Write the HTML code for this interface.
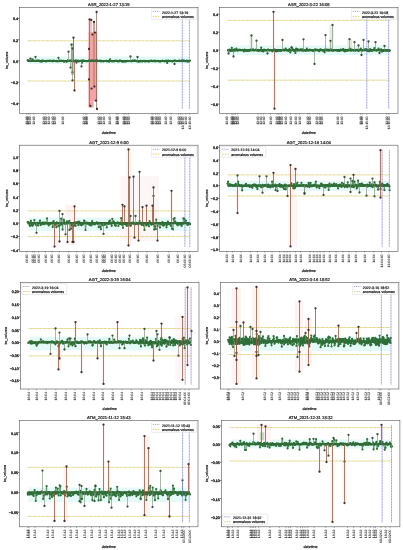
<!DOCTYPE html>
<html><head><meta charset="utf-8"><style>
html,body{margin:0;padding:0;background:#fff;}
svg{display:block;will-change:transform;}
text{font-family:"Liberation Sans", sans-serif;fill:#222;stroke:#222;stroke-width:0.2px;text-rendering:geometricPrecision;}
.tk{fill:#111;stroke:#111;stroke-width:0.3px;}
.xt{fill:#444;stroke:#444;stroke-width:0.1px;}
</style></head><body>
<svg width="403" height="550" viewBox="0 0 403 550">
<rect width="403" height="550" fill="#fff"/>
<clipPath id="c1"><rect x="19.5" y="7.36" width="178.5" height="106.0"/></clipPath>
<g clip-path="url(#c1)">
<rect x="28.6" y="56.5" width="160.3" height="7.5" fill="#e4faf7"/>
<rect x="88.4" y="18.8" width="3.5" height="13.2" fill="#f1c0c0"/>
<rect x="92.8" y="21.5" width="2.2" height="10.5" fill="#f1c0c0"/>
<rect x="88.4" y="32.0" width="8.8" height="69.5" fill="#f2a3a3"/>
<rect x="88.4" y="101.5" width="5.2" height="6.0" fill="#f2a3a3"/>
<rect x="70.8" y="43.0" width="3.2" height="32.0" fill="#c9d6c2"/>
<line x1="27.6" y1="40.8" x2="189.9" y2="40.8" stroke="#d2c050" stroke-width="0.8" stroke-dasharray="0.9 0.4"/>
<line x1="27.6" y1="81.0" x2="189.9" y2="81.0" stroke="#d2c050" stroke-width="0.8" stroke-dasharray="0.9 0.4"/>
<line x1="27.6" y1="61.0" x2="189.9" y2="61.0" stroke="#32622f" stroke-width="2.2"/>
<path d="M27.6,61.0V60.3M28.4,61.0V60.7M29.0,61.0V60.5M29.8,61.0V61.0M30.6,61.0V61.2M32.0,61.0V60.5M32.6,61.0V59.4M33.1,61.0V60.9M33.8,61.0V60.6M35.0,61.0V61.1M35.8,61.0V60.8M36.9,61.0V60.7M37.6,61.0V60.9M38.1,61.0V60.7M39.2,61.0V60.5M40.1,61.0V61.4M40.3,61.0V61.2M41.8,61.0V61.7M42.0,61.0V60.6M42.8,61.0V60.6M44.2,61.0V61.0M44.5,61.0V60.8M45.7,61.0V61.2M46.2,61.0V61.4M47.0,61.0V60.9M47.8,61.0V60.9M49.1,61.0V61.1M49.4,61.0V60.7M50.6,61.0V60.9M51.1,61.0V60.9M52.2,61.0V60.9M52.6,61.0V61.3M53.5,61.0V60.7M54.8,61.0V60.8M55.4,61.0V61.1M56.4,61.0V60.8M56.8,61.0V61.2M57.6,61.0V61.5M58.8,61.0V60.7M59.1,61.0V60.8M60.1,61.0V60.9M61.1,61.0V60.7M61.7,61.0V61.0M62.7,61.0V60.9M63.6,61.0V60.9M64.0,61.0V61.8M65.1,61.0V61.2M66.0,61.0V61.1M66.7,61.0V61.8M67.7,61.0V60.4M68.2,61.0V61.1M69.3,61.0V61.0M69.7,61.0V60.7M70.7,61.0V60.7M71.4,61.0V60.5M72.6,61.0V60.8M73.4,61.0V61.3M74.3,61.0V60.8M74.9,61.0V61.2M75.8,61.0V60.3M76.6,61.0V60.9M77.6,61.0V60.9M78.3,61.0V60.6M78.9,61.0V61.4M79.5,61.0V61.0M80.6,61.0V60.9M81.5,61.0V60.5M82.1,61.0V62.7M83.1,61.0V60.4M84.1,61.0V60.9M84.5,61.0V60.8M85.7,61.0V61.1M86.1,61.0V61.1M87.0,61.0V61.2M87.9,61.0V61.1M89.1,61.0V60.9M89.4,61.0V60.2M90.3,61.0V61.1M91.3,61.0V60.9M91.9,61.0V60.3M92.7,61.0V60.6M93.6,61.0V60.7M94.5,61.0V60.8M95.5,61.0V60.7M96.3,61.0V61.3M96.7,61.0V60.0M97.8,61.0V60.9M98.7,61.0V61.1M99.5,61.0V61.0M100.0,61.0V60.6M101.0,61.0V61.4M101.6,61.0V60.9M102.8,61.0V61.1M103.4,61.0V61.4M104.1,61.0V61.0M105.2,61.0V61.0M106.1,61.0V60.8M106.5,61.0V61.3M107.7,61.0V61.2M108.3,61.0V60.9M109.0,61.0V61.8M110.1,61.0V59.4M110.7,61.0V60.8M111.4,61.0V61.1M112.4,61.0V61.4M113.5,61.0V61.1M114.4,61.0V61.3M114.8,61.0V60.8M115.7,61.0V60.8M116.5,61.0V60.5M117.4,61.0V61.2M118.0,61.0V61.4M119.2,61.0V61.3M119.5,61.0V60.7M120.4,61.0V60.6M121.1,61.0V61.0M122.2,61.0V61.8M123.3,61.0V61.2M123.6,61.0V61.4M124.9,61.0V61.7M125.4,61.0V61.0M126.5,61.0V61.4M127.4,61.0V60.8M127.6,61.0V61.0M128.9,61.0V61.1M129.3,61.0V61.0M130.5,61.0V61.0M131.2,61.0V61.4M132.1,61.0V60.9M132.5,61.0V60.5M133.8,61.0V60.7M134.5,61.0V60.7M135.1,61.0V60.6M136.3,61.0V60.9M136.8,61.0V61.2M137.5,61.0V61.4M138.3,61.0V61.6M139.1,61.0V61.4M140.1,61.0V61.4M140.8,61.0V60.8M142.0,61.0V61.4M142.8,61.0V61.3M143.5,61.0V60.8M144.4,61.0V60.8M145.0,61.0V61.6M146.1,61.0V61.1M146.5,61.0V61.2M147.4,61.0V61.1M148.4,61.0V61.4M148.9,61.0V61.4M149.9,61.0V60.9M150.8,61.0V61.2M151.4,61.0V60.7M152.6,61.0V61.2M153.0,61.0V61.1M154.2,61.0V60.7M155.1,61.0V61.4M155.7,61.0V60.8M156.6,61.0V61.0M157.1,61.0V61.2M157.9,61.0V60.8M158.9,61.0V61.4M159.5,61.0V61.2M160.3,61.0V61.6M161.6,61.0V61.1M162.4,61.0V60.9M162.8,61.0V60.8M163.8,61.0V61.1M164.4,61.0V61.3M165.2,61.0V61.2M166.1,61.0V60.6M167.2,61.0V62.9M168.1,61.0V60.6M168.7,61.0V60.9M169.6,61.0V61.1M170.5,61.0V60.9M171.4,61.0V61.2M172.0,61.0V61.3M172.5,61.0V61.3M173.6,61.0V60.9M174.3,61.0V60.7M175.3,61.0V60.6M175.7,61.0V61.0M177.0,61.0V61.1M177.9,61.0V61.0M178.7,61.0V60.9M179.5,61.0V60.6M180.0,61.0V61.2M181.2,61.0V60.9M181.9,61.0V60.6M182.3,61.0V60.7M183.1,61.0V60.7M184.0,61.0V60.5M184.9,61.0V61.2M185.8,61.0V61.1M186.9,61.0V60.6M187.3,61.0V61.6M188.3,61.0V61.5M188.9,61.0V60.8M190.0,61.0V60.6" fill="none" stroke="#5a7a55" stroke-width="0.45"/>
<path d="M27.6,60.3L28.4,60.7L29.0,60.5L29.8,61.0L30.6,61.2L32.0,60.5L32.6,59.4L33.1,60.9L33.8,60.6L35.0,61.1L35.8,60.8L36.9,60.7L37.6,60.9L38.1,60.7L39.2,60.5L40.1,61.4L40.3,61.2L41.8,61.7L42.0,60.6L42.8,60.6L44.2,61.0L44.5,60.8L45.7,61.2L46.2,61.4L47.0,60.9L47.8,60.9L49.1,61.1L49.4,60.7L50.6,60.9L51.1,60.9L52.2,60.9L52.6,61.3L53.5,60.7L54.8,60.8L55.4,61.1L56.4,60.8L56.8,61.2L57.6,61.5L58.8,60.7L59.1,60.8L60.1,60.9L61.1,60.7L61.7,61.0L62.7,60.9L63.6,60.9L64.0,61.8L65.1,61.2L66.0,61.1L66.7,61.8L67.7,60.4L68.2,61.1L69.3,61.0L69.7,60.7L70.7,60.7L71.4,60.5L72.6,60.8L73.4,61.3L74.3,60.8L74.9,61.2L75.8,60.3L76.6,60.9L77.6,60.9L78.3,60.6L78.9,61.4L79.5,61.0L80.6,60.9L81.5,60.5L82.1,62.7L83.1,60.4L84.1,60.9L84.5,60.8L85.7,61.1L86.1,61.1L87.0,61.2L87.9,61.1L89.1,60.9L89.4,60.2L90.3,61.1L91.3,60.9L91.9,60.3L92.7,60.6L93.6,60.7L94.5,60.8L95.5,60.7L96.3,61.3L96.7,60.0L97.8,60.9L98.7,61.1L99.5,61.0L100.0,60.6L101.0,61.4L101.6,60.9L102.8,61.1L103.4,61.4L104.1,61.0L105.2,61.0L106.1,60.8L106.5,61.3L107.7,61.2L108.3,60.9L109.0,61.8L110.1,59.4L110.7,60.8L111.4,61.1L112.4,61.4L113.5,61.1L114.4,61.3L114.8,60.8L115.7,60.8L116.5,60.5L117.4,61.2L118.0,61.4L119.2,61.3L119.5,60.7L120.4,60.6L121.1,61.0L122.2,61.8L123.3,61.2L123.6,61.4L124.9,61.7L125.4,61.0L126.5,61.4L127.4,60.8L127.6,61.0L128.9,61.1L129.3,61.0L130.5,61.0L131.2,61.4L132.1,60.9L132.5,60.5L133.8,60.7L134.5,60.7L135.1,60.6L136.3,60.9L136.8,61.2L137.5,61.4L138.3,61.6L139.1,61.4L140.1,61.4L140.8,60.8L142.0,61.4L142.8,61.3L143.5,60.8L144.4,60.8L145.0,61.6L146.1,61.1L146.5,61.2L147.4,61.1L148.4,61.4L148.9,61.4L149.9,60.9L150.8,61.2L151.4,60.7L152.6,61.2L153.0,61.1L154.2,60.7L155.1,61.4L155.7,60.8L156.6,61.0L157.1,61.2L157.9,60.8L158.9,61.4L159.5,61.2L160.3,61.6L161.6,61.1L162.4,60.9L162.8,60.8L163.8,61.1L164.4,61.3L165.2,61.2L166.1,60.6L167.2,62.9L168.1,60.6L168.7,60.9L169.6,61.1L170.5,60.9L171.4,61.2L172.0,61.3L172.5,61.3L173.6,60.9L174.3,60.7L175.3,60.6L175.7,61.0L177.0,61.1L177.9,61.0L178.7,60.9L179.5,60.6L180.0,61.2L181.2,60.9L181.9,60.6L182.3,60.7L183.1,60.7L184.0,60.5L184.9,61.2L185.8,61.1L186.9,60.6L187.3,61.6L188.3,61.5L188.9,60.8L190.0,60.6" fill="none" stroke="#2e7a34" stroke-width="0.5" stroke-linejoin="round"/>
<g fill="#2e6e38"><circle cx="27.6" cy="60.3" r="1.1"/><circle cx="28.4" cy="60.7" r="1.1"/><circle cx="29.0" cy="60.5" r="1.1"/><circle cx="29.8" cy="61.0" r="1.1"/><circle cx="30.6" cy="61.2" r="1.1"/><circle cx="32.0" cy="60.5" r="1.1"/><circle cx="32.6" cy="59.4" r="1.1"/><circle cx="33.1" cy="60.9" r="1.1"/><circle cx="33.8" cy="60.6" r="1.1"/><circle cx="35.0" cy="61.1" r="1.1"/><circle cx="35.8" cy="60.8" r="1.1"/><circle cx="36.9" cy="60.7" r="1.1"/><circle cx="37.6" cy="60.9" r="1.1"/><circle cx="38.1" cy="60.7" r="1.1"/><circle cx="39.2" cy="60.5" r="1.1"/><circle cx="40.1" cy="61.4" r="1.1"/><circle cx="40.3" cy="61.2" r="1.1"/><circle cx="41.8" cy="61.7" r="1.1"/><circle cx="42.0" cy="60.6" r="1.1"/><circle cx="42.8" cy="60.6" r="1.1"/><circle cx="44.2" cy="61.0" r="1.1"/><circle cx="44.5" cy="60.8" r="1.1"/><circle cx="45.7" cy="61.2" r="1.1"/><circle cx="46.2" cy="61.4" r="1.1"/><circle cx="47.0" cy="60.9" r="1.1"/><circle cx="47.8" cy="60.9" r="1.1"/><circle cx="49.1" cy="61.1" r="1.1"/><circle cx="49.4" cy="60.7" r="1.1"/><circle cx="50.6" cy="60.9" r="1.1"/><circle cx="51.1" cy="60.9" r="1.1"/><circle cx="52.2" cy="60.9" r="1.1"/><circle cx="52.6" cy="61.3" r="1.1"/><circle cx="53.5" cy="60.7" r="1.1"/><circle cx="54.8" cy="60.8" r="1.1"/><circle cx="55.4" cy="61.1" r="1.1"/><circle cx="56.4" cy="60.8" r="1.1"/><circle cx="56.8" cy="61.2" r="1.1"/><circle cx="57.6" cy="61.5" r="1.1"/><circle cx="58.8" cy="60.7" r="1.1"/><circle cx="59.1" cy="60.8" r="1.1"/><circle cx="60.1" cy="60.9" r="1.1"/><circle cx="61.1" cy="60.7" r="1.1"/><circle cx="61.7" cy="61.0" r="1.1"/><circle cx="62.7" cy="60.9" r="1.1"/><circle cx="63.6" cy="60.9" r="1.1"/><circle cx="64.0" cy="61.8" r="1.1"/><circle cx="65.1" cy="61.2" r="1.1"/><circle cx="66.0" cy="61.1" r="1.1"/><circle cx="66.7" cy="61.8" r="1.1"/><circle cx="67.7" cy="60.4" r="1.1"/><circle cx="68.2" cy="61.1" r="1.1"/><circle cx="69.3" cy="61.0" r="1.1"/><circle cx="69.7" cy="60.7" r="1.1"/><circle cx="70.7" cy="60.7" r="1.1"/><circle cx="71.4" cy="60.5" r="1.1"/><circle cx="72.6" cy="60.8" r="1.1"/><circle cx="73.4" cy="61.3" r="1.1"/><circle cx="74.3" cy="60.8" r="1.1"/><circle cx="74.9" cy="61.2" r="1.1"/><circle cx="75.8" cy="60.3" r="1.1"/><circle cx="76.6" cy="60.9" r="1.1"/><circle cx="77.6" cy="60.9" r="1.1"/><circle cx="78.3" cy="60.6" r="1.1"/><circle cx="78.9" cy="61.4" r="1.1"/><circle cx="79.5" cy="61.0" r="1.1"/><circle cx="80.6" cy="60.9" r="1.1"/><circle cx="81.5" cy="60.5" r="1.1"/><circle cx="82.1" cy="62.7" r="1.1"/><circle cx="83.1" cy="60.4" r="1.1"/><circle cx="84.1" cy="60.9" r="1.1"/><circle cx="84.5" cy="60.8" r="1.1"/><circle cx="85.7" cy="61.1" r="1.1"/><circle cx="86.1" cy="61.1" r="1.1"/><circle cx="87.0" cy="61.2" r="1.1"/><circle cx="87.9" cy="61.1" r="1.1"/><circle cx="89.1" cy="60.9" r="1.1"/><circle cx="89.4" cy="60.2" r="1.1"/><circle cx="90.3" cy="61.1" r="1.1"/><circle cx="91.3" cy="60.9" r="1.1"/><circle cx="91.9" cy="60.3" r="1.1"/><circle cx="92.7" cy="60.6" r="1.1"/><circle cx="93.6" cy="60.7" r="1.1"/><circle cx="94.5" cy="60.8" r="1.1"/><circle cx="95.5" cy="60.7" r="1.1"/><circle cx="96.3" cy="61.3" r="1.1"/><circle cx="96.7" cy="60.0" r="1.1"/><circle cx="97.8" cy="60.9" r="1.1"/><circle cx="98.7" cy="61.1" r="1.1"/><circle cx="99.5" cy="61.0" r="1.1"/><circle cx="100.0" cy="60.6" r="1.1"/><circle cx="101.0" cy="61.4" r="1.1"/><circle cx="101.6" cy="60.9" r="1.1"/><circle cx="102.8" cy="61.1" r="1.1"/><circle cx="103.4" cy="61.4" r="1.1"/><circle cx="104.1" cy="61.0" r="1.1"/><circle cx="105.2" cy="61.0" r="1.1"/><circle cx="106.1" cy="60.8" r="1.1"/><circle cx="106.5" cy="61.3" r="1.1"/><circle cx="107.7" cy="61.2" r="1.1"/><circle cx="108.3" cy="60.9" r="1.1"/><circle cx="109.0" cy="61.8" r="1.1"/><circle cx="110.1" cy="59.4" r="1.1"/><circle cx="110.7" cy="60.8" r="1.1"/><circle cx="111.4" cy="61.1" r="1.1"/><circle cx="112.4" cy="61.4" r="1.1"/><circle cx="113.5" cy="61.1" r="1.1"/><circle cx="114.4" cy="61.3" r="1.1"/><circle cx="114.8" cy="60.8" r="1.1"/><circle cx="115.7" cy="60.8" r="1.1"/><circle cx="116.5" cy="60.5" r="1.1"/><circle cx="117.4" cy="61.2" r="1.1"/><circle cx="118.0" cy="61.4" r="1.1"/><circle cx="119.2" cy="61.3" r="1.1"/><circle cx="119.5" cy="60.7" r="1.1"/><circle cx="120.4" cy="60.6" r="1.1"/><circle cx="121.1" cy="61.0" r="1.1"/><circle cx="122.2" cy="61.8" r="1.1"/><circle cx="123.3" cy="61.2" r="1.1"/><circle cx="123.6" cy="61.4" r="1.1"/><circle cx="124.9" cy="61.7" r="1.1"/><circle cx="125.4" cy="61.0" r="1.1"/><circle cx="126.5" cy="61.4" r="1.1"/><circle cx="127.4" cy="60.8" r="1.1"/><circle cx="127.6" cy="61.0" r="1.1"/><circle cx="128.9" cy="61.1" r="1.1"/><circle cx="129.3" cy="61.0" r="1.1"/><circle cx="130.5" cy="61.0" r="1.1"/><circle cx="131.2" cy="61.4" r="1.1"/><circle cx="132.1" cy="60.9" r="1.1"/><circle cx="132.5" cy="60.5" r="1.1"/><circle cx="133.8" cy="60.7" r="1.1"/><circle cx="134.5" cy="60.7" r="1.1"/><circle cx="135.1" cy="60.6" r="1.1"/><circle cx="136.3" cy="60.9" r="1.1"/><circle cx="136.8" cy="61.2" r="1.1"/><circle cx="137.5" cy="61.4" r="1.1"/><circle cx="138.3" cy="61.6" r="1.1"/><circle cx="139.1" cy="61.4" r="1.1"/><circle cx="140.1" cy="61.4" r="1.1"/><circle cx="140.8" cy="60.8" r="1.1"/><circle cx="142.0" cy="61.4" r="1.1"/><circle cx="142.8" cy="61.3" r="1.1"/><circle cx="143.5" cy="60.8" r="1.1"/><circle cx="144.4" cy="60.8" r="1.1"/><circle cx="145.0" cy="61.6" r="1.1"/><circle cx="146.1" cy="61.1" r="1.1"/><circle cx="146.5" cy="61.2" r="1.1"/><circle cx="147.4" cy="61.1" r="1.1"/><circle cx="148.4" cy="61.4" r="1.1"/><circle cx="148.9" cy="61.4" r="1.1"/><circle cx="149.9" cy="60.9" r="1.1"/><circle cx="150.8" cy="61.2" r="1.1"/><circle cx="151.4" cy="60.7" r="1.1"/><circle cx="152.6" cy="61.2" r="1.1"/><circle cx="153.0" cy="61.1" r="1.1"/><circle cx="154.2" cy="60.7" r="1.1"/><circle cx="155.1" cy="61.4" r="1.1"/><circle cx="155.7" cy="60.8" r="1.1"/><circle cx="156.6" cy="61.0" r="1.1"/><circle cx="157.1" cy="61.2" r="1.1"/><circle cx="157.9" cy="60.8" r="1.1"/><circle cx="158.9" cy="61.4" r="1.1"/><circle cx="159.5" cy="61.2" r="1.1"/><circle cx="160.3" cy="61.6" r="1.1"/><circle cx="161.6" cy="61.1" r="1.1"/><circle cx="162.4" cy="60.9" r="1.1"/><circle cx="162.8" cy="60.8" r="1.1"/><circle cx="163.8" cy="61.1" r="1.1"/><circle cx="164.4" cy="61.3" r="1.1"/><circle cx="165.2" cy="61.2" r="1.1"/><circle cx="166.1" cy="60.6" r="1.1"/><circle cx="167.2" cy="62.9" r="1.1"/><circle cx="168.1" cy="60.6" r="1.1"/><circle cx="168.7" cy="60.9" r="1.1"/><circle cx="169.6" cy="61.1" r="1.1"/><circle cx="170.5" cy="60.9" r="1.1"/><circle cx="171.4" cy="61.2" r="1.1"/><circle cx="172.0" cy="61.3" r="1.1"/><circle cx="172.5" cy="61.3" r="1.1"/><circle cx="173.6" cy="60.9" r="1.1"/><circle cx="174.3" cy="60.7" r="1.1"/><circle cx="175.3" cy="60.6" r="1.1"/><circle cx="175.7" cy="61.0" r="1.1"/><circle cx="177.0" cy="61.1" r="1.1"/><circle cx="177.9" cy="61.0" r="1.1"/><circle cx="178.7" cy="60.9" r="1.1"/><circle cx="179.5" cy="60.6" r="1.1"/><circle cx="180.0" cy="61.2" r="1.1"/><circle cx="181.2" cy="60.9" r="1.1"/><circle cx="181.9" cy="60.6" r="1.1"/><circle cx="182.3" cy="60.7" r="1.1"/><circle cx="183.1" cy="60.7" r="1.1"/><circle cx="184.0" cy="60.5" r="1.1"/><circle cx="184.9" cy="61.2" r="1.1"/><circle cx="185.8" cy="61.1" r="1.1"/><circle cx="186.9" cy="60.6" r="1.1"/><circle cx="187.3" cy="61.6" r="1.1"/><circle cx="188.3" cy="61.5" r="1.1"/><circle cx="188.9" cy="60.8" r="1.1"/><circle cx="190.0" cy="60.6" r="1.1"/></g>
<line x1="68.5" y1="61.0" x2="68.5" y2="51.7" stroke="#7d917a" stroke-width="0.65"/>
<circle cx="68.5" cy="51.7" r="1.15" fill="#3a523a"/>
<line x1="71.5" y1="61.0" x2="71.5" y2="44.7" stroke="#7d917a" stroke-width="0.65"/>
<circle cx="71.5" cy="44.7" r="1.15" fill="#3a523a"/>
<line x1="72.5" y1="61.0" x2="72.5" y2="48.5" stroke="#7d917a" stroke-width="0.65"/>
<circle cx="72.5" cy="48.5" r="1.15" fill="#3a523a"/>
<line x1="70.5" y1="61.0" x2="70.5" y2="67.6" stroke="#7d917a" stroke-width="0.65"/>
<circle cx="70.5" cy="67.6" r="1.15" fill="#3a523a"/>
<line x1="72.5" y1="61.0" x2="72.5" y2="72.3" stroke="#7d917a" stroke-width="0.65"/>
<circle cx="72.5" cy="72.3" r="1.15" fill="#3a523a"/>
<line x1="72.5" y1="61.0" x2="72.5" y2="80.4" stroke="#7d917a" stroke-width="0.65"/>
<circle cx="72.5" cy="80.4" r="1.15" fill="#3a523a"/>
<line x1="30.5" y1="61.0" x2="30.5" y2="58.7" stroke="#7d917a" stroke-width="0.65"/>
<circle cx="30.5" cy="58.7" r="1.15" fill="#3a523a"/>
<line x1="35.5" y1="61.0" x2="35.5" y2="56.8" stroke="#7d917a" stroke-width="0.65"/>
<circle cx="35.5" cy="56.8" r="1.15" fill="#3a523a"/>
<line x1="58.5" y1="61.0" x2="58.5" y2="57.8" stroke="#7d917a" stroke-width="0.65"/>
<circle cx="58.5" cy="57.8" r="1.15" fill="#3a523a"/>
<line x1="81.5" y1="61.0" x2="81.5" y2="66.4" stroke="#7d917a" stroke-width="0.65"/>
<circle cx="81.5" cy="66.4" r="1.15" fill="#3a523a"/>
<line x1="76.5" y1="61.0" x2="76.5" y2="62.5" stroke="#7d917a" stroke-width="0.65"/>
<circle cx="76.5" cy="62.5" r="1.15" fill="#3a523a"/>
<line x1="130.5" y1="61.0" x2="130.5" y2="56.5" stroke="#7d917a" stroke-width="0.65"/>
<circle cx="130.5" cy="56.5" r="1.15" fill="#3a523a"/>
<line x1="137.5" y1="61.0" x2="137.5" y2="57.0" stroke="#7d917a" stroke-width="0.65"/>
<circle cx="137.5" cy="57.0" r="1.15" fill="#3a523a"/>
<line x1="174.5" y1="61.0" x2="174.5" y2="64.0" stroke="#7d917a" stroke-width="0.65"/>
<circle cx="174.5" cy="64.0" r="1.15" fill="#3a523a"/>
<line x1="73.5" y1="61.0" x2="73.5" y2="37.7" stroke="#975a40" stroke-width="0.8"/>
<circle cx="73.5" cy="37.7" r="1.15" fill="#45302a"/>
<line x1="74.5" y1="61.0" x2="74.5" y2="90.5" stroke="#975a40" stroke-width="0.8"/>
<circle cx="74.5" cy="90.5" r="1.15" fill="#45302a"/>
<line x1="89.5" y1="19.4" x2="89.5" y2="106.0" stroke="#975a40" stroke-width="0.7"/>
<line x1="94.0" y1="22.0" x2="94.0" y2="86.6" stroke="#975a40" stroke-width="0.7"/>
<line x1="96.6" y1="12.0" x2="96.6" y2="109.0" stroke="#6a5a52" stroke-width="0.7"/>
<circle cx="89.6" cy="19.4" r="1.15" fill="#45302a"/>
<circle cx="91.3" cy="20.0" r="1.15" fill="#45302a"/>
<circle cx="94.0" cy="22.0" r="1.15" fill="#45302a"/>
<circle cx="96.6" cy="12.0" r="1.15" fill="#45302a"/>
<circle cx="92.4" cy="34.6" r="1.15" fill="#45302a"/>
<circle cx="95.0" cy="32.6" r="1.15" fill="#45302a"/>
<circle cx="89.0" cy="49.0" r="1.15" fill="#45302a"/>
<circle cx="89.0" cy="79.4" r="1.15" fill="#45302a"/>
<circle cx="91.6" cy="88.6" r="1.15" fill="#45302a"/>
<circle cx="94.4" cy="86.6" r="1.15" fill="#45302a"/>
<circle cx="90.4" cy="106.0" r="1.15" fill="#45302a"/>
<circle cx="96.0" cy="100.6" r="1.15" fill="#45302a"/>
<circle cx="97.0" cy="109.0" r="1.15" fill="#45302a"/>
<line x1="182.3" y1="12.3" x2="182.3" y2="108.9" stroke="#6468d0" stroke-width="0.7" stroke-dasharray="1.1 0.5"/>
<line x1="189.4" y1="12.3" x2="189.4" y2="108.9" stroke="#6468d0" stroke-width="0.7" stroke-dasharray="1.1 0.5"/>
</g>
<rect x="19.5" y="7.4" width="178.5" height="106.0" fill="none" stroke="#555" stroke-width="0.6"/>
<line x1="17.9" y1="18.5" x2="19.5" y2="18.5" stroke="#333" stroke-width="0.6"/>
<text x="17.9" y="20.3" text-anchor="end" font-size="3.6" class="tk">0.4</text>
<line x1="17.9" y1="39.7" x2="19.5" y2="39.7" stroke="#333" stroke-width="0.6"/>
<text x="17.9" y="41.5" text-anchor="end" font-size="3.6" class="tk">0.2</text>
<line x1="17.9" y1="61.0" x2="19.5" y2="61.0" stroke="#333" stroke-width="0.6"/>
<text x="17.9" y="62.8" text-anchor="end" font-size="3.6" class="tk">0.0</text>
<line x1="17.9" y1="82.3" x2="19.5" y2="82.3" stroke="#333" stroke-width="0.6"/>
<text x="17.9" y="84.1" text-anchor="end" font-size="3.6" class="tk">−0.2</text>
<line x1="17.9" y1="103.5" x2="19.5" y2="103.5" stroke="#333" stroke-width="0.6"/>
<text x="17.9" y="105.3" text-anchor="end" font-size="3.6" class="tk">−0.4</text>
<line x1="26.4" y1="113.4" x2="26.4" y2="114.7" stroke="#555" stroke-width="0.5"/>
<text transform="translate(27.6,116.3) rotate(-90)" text-anchor="end" font-size="3.4" class="xt">13:19</text>
<line x1="28.2" y1="113.4" x2="28.2" y2="114.7" stroke="#555" stroke-width="0.5"/>
<text transform="translate(29.4,116.3) rotate(-90)" text-anchor="end" font-size="3.4" class="xt">13:19</text>
<line x1="30.2" y1="113.4" x2="30.2" y2="114.7" stroke="#555" stroke-width="0.5"/>
<text transform="translate(31.4,116.3) rotate(-90)" text-anchor="end" font-size="3.4" class="xt">13:19</text>
<line x1="33.9" y1="113.4" x2="33.9" y2="114.7" stroke="#555" stroke-width="0.5"/>
<text transform="translate(35.1,116.3) rotate(-90)" text-anchor="end" font-size="3.4" class="xt">13:19</text>
<line x1="43.6" y1="113.4" x2="43.6" y2="114.7" stroke="#555" stroke-width="0.5"/>
<text transform="translate(44.8,116.3) rotate(-90)" text-anchor="end" font-size="3.4" class="xt">13:19</text>
<line x1="45.8" y1="113.4" x2="45.8" y2="114.7" stroke="#555" stroke-width="0.5"/>
<text transform="translate(47.0,116.3) rotate(-90)" text-anchor="end" font-size="3.4" class="xt">13:19</text>
<line x1="48.8" y1="113.4" x2="48.8" y2="114.7" stroke="#555" stroke-width="0.5"/>
<text transform="translate(50.0,116.3) rotate(-90)" text-anchor="end" font-size="3.4" class="xt">13:19</text>
<line x1="52.5" y1="113.4" x2="52.5" y2="114.7" stroke="#555" stroke-width="0.5"/>
<text transform="translate(53.7,116.3) rotate(-90)" text-anchor="end" font-size="3.4" class="xt">13:19</text>
<line x1="54.7" y1="113.4" x2="54.7" y2="114.7" stroke="#555" stroke-width="0.5"/>
<text transform="translate(55.9,116.3) rotate(-90)" text-anchor="end" font-size="3.4" class="xt">13:19</text>
<line x1="62.9" y1="113.4" x2="62.9" y2="114.7" stroke="#555" stroke-width="0.5"/>
<text transform="translate(64.1,116.3) rotate(-90)" text-anchor="end" font-size="3.4" class="xt">13:19</text>
<line x1="83.4" y1="113.4" x2="83.4" y2="114.7" stroke="#555" stroke-width="0.5"/>
<text transform="translate(84.6,116.3) rotate(-90)" text-anchor="end" font-size="3.4" class="xt">13:19</text>
<line x1="85.5" y1="113.4" x2="85.5" y2="114.7" stroke="#555" stroke-width="0.5"/>
<text transform="translate(86.7,116.3) rotate(-90)" text-anchor="end" font-size="3.4" class="xt">13:19</text>
<line x1="86.9" y1="113.4" x2="86.9" y2="114.7" stroke="#555" stroke-width="0.5"/>
<text transform="translate(88.1,116.3) rotate(-90)" text-anchor="end" font-size="3.4" class="xt">13:19</text>
<line x1="98.7" y1="113.4" x2="98.7" y2="114.7" stroke="#555" stroke-width="0.5"/>
<text transform="translate(99.9,116.3) rotate(-90)" text-anchor="end" font-size="3.4" class="xt">13:19</text>
<line x1="101.0" y1="113.4" x2="101.0" y2="114.7" stroke="#555" stroke-width="0.5"/>
<text transform="translate(102.2,116.3) rotate(-90)" text-anchor="end" font-size="3.4" class="xt">13:19</text>
<line x1="103.4" y1="113.4" x2="103.4" y2="114.7" stroke="#555" stroke-width="0.5"/>
<text transform="translate(104.6,116.3) rotate(-90)" text-anchor="end" font-size="3.4" class="xt">13:19</text>
<line x1="109.7" y1="113.4" x2="109.7" y2="114.7" stroke="#555" stroke-width="0.5"/>
<text transform="translate(110.9,116.3) rotate(-90)" text-anchor="end" font-size="3.4" class="xt">13:19</text>
<line x1="116.3" y1="113.4" x2="116.3" y2="114.7" stroke="#555" stroke-width="0.5"/>
<text transform="translate(117.5,116.3) rotate(-90)" text-anchor="end" font-size="3.4" class="xt">13:19</text>
<line x1="118.0" y1="113.4" x2="118.0" y2="114.7" stroke="#555" stroke-width="0.5"/>
<text transform="translate(119.2,116.3) rotate(-90)" text-anchor="end" font-size="3.4" class="xt">13:19</text>
<line x1="123.4" y1="113.4" x2="123.4" y2="114.7" stroke="#555" stroke-width="0.5"/>
<text transform="translate(124.6,116.3) rotate(-90)" text-anchor="end" font-size="3.4" class="xt">13:19</text>
<line x1="125.0" y1="113.4" x2="125.0" y2="114.7" stroke="#555" stroke-width="0.5"/>
<text transform="translate(126.2,116.3) rotate(-90)" text-anchor="end" font-size="3.4" class="xt">13:19</text>
<line x1="126.8" y1="113.4" x2="126.8" y2="114.7" stroke="#555" stroke-width="0.5"/>
<text transform="translate(128.0,116.3) rotate(-90)" text-anchor="end" font-size="3.4" class="xt">13:19</text>
<line x1="128.6" y1="113.4" x2="128.6" y2="114.7" stroke="#555" stroke-width="0.5"/>
<text transform="translate(129.8,116.3) rotate(-90)" text-anchor="end" font-size="3.4" class="xt">13:19</text>
<line x1="151.9" y1="113.4" x2="151.9" y2="114.7" stroke="#555" stroke-width="0.5"/>
<text transform="translate(153.1,116.3) rotate(-90)" text-anchor="end" font-size="3.4" class="xt">13:19</text>
<line x1="153.1" y1="113.4" x2="153.1" y2="114.7" stroke="#555" stroke-width="0.5"/>
<text transform="translate(154.3,116.3) rotate(-90)" text-anchor="end" font-size="3.4" class="xt">13:19</text>
<line x1="155.6" y1="113.4" x2="155.6" y2="114.7" stroke="#555" stroke-width="0.5"/>
<text transform="translate(156.8,116.3) rotate(-90)" text-anchor="end" font-size="3.4" class="xt">13:19</text>
<line x1="157.4" y1="113.4" x2="157.4" y2="114.7" stroke="#555" stroke-width="0.5"/>
<text transform="translate(158.6,116.3) rotate(-90)" text-anchor="end" font-size="3.4" class="xt">13:19</text>
<line x1="159.3" y1="113.4" x2="159.3" y2="114.7" stroke="#555" stroke-width="0.5"/>
<text transform="translate(160.5,116.3) rotate(-90)" text-anchor="end" font-size="3.4" class="xt">13:19</text>
<line x1="165.5" y1="113.4" x2="165.5" y2="114.7" stroke="#555" stroke-width="0.5"/>
<text transform="translate(166.7,116.3) rotate(-90)" text-anchor="end" font-size="3.4" class="xt">13:19</text>
<line x1="171.1" y1="113.4" x2="171.1" y2="114.7" stroke="#555" stroke-width="0.5"/>
<text transform="translate(172.3,116.3) rotate(-90)" text-anchor="end" font-size="3.4" class="xt">13:19</text>
<line x1="178.5" y1="113.4" x2="178.5" y2="114.7" stroke="#555" stroke-width="0.5"/>
<text transform="translate(179.7,116.3) rotate(-90)" text-anchor="end" font-size="3.4" class="xt">13:19</text>
<line x1="180.4" y1="113.4" x2="180.4" y2="114.7" stroke="#555" stroke-width="0.5"/>
<text transform="translate(181.6,116.3) rotate(-90)" text-anchor="end" font-size="3.4" class="xt">13:19</text>
<line x1="182.3" y1="113.4" x2="182.3" y2="114.7" stroke="#555" stroke-width="0.5"/>
<text transform="translate(183.5,116.3) rotate(-90)" text-anchor="end" font-size="3.4" class="xt">13:19:00</text>
<line x1="186.0" y1="113.4" x2="186.0" y2="114.7" stroke="#555" stroke-width="0.5"/>
<text transform="translate(187.2,116.3) rotate(-90)" text-anchor="end" font-size="3.4" class="xt">13:19</text>
<line x1="189.5" y1="113.4" x2="189.5" y2="114.7" stroke="#555" stroke-width="0.5"/>
<text transform="translate(190.7,116.3) rotate(-90)" text-anchor="end" font-size="3.4" class="xt">13:19:00</text>
<text x="108.8" y="5.8" text-anchor="middle" font-size="4.2">ASR_2022-1-27 13:19</text>
<text x="108.8" y="134.2" text-anchor="middle" font-size="3.7">datetime</text>
<text transform="translate(7.7,60.4) rotate(-90)" text-anchor="middle" font-size="3.6">bs_volume</text>
<rect x="151.6" y="8.6" width="45.0" height="10.8" rx="0.8" fill="#fff" fill-opacity="0.82" stroke="#d0d0d0" stroke-width="0.4"/>
<line x1="152.9" y1="11.4" x2="159.6" y2="11.4" stroke="#6468d0" stroke-width="0.6" stroke-dasharray="1.3 0.8"/>
<line x1="152.9" y1="16.4" x2="159.6" y2="16.4" stroke="#d2c050" stroke-width="0.7" stroke-dasharray="1.6 0.9"/>
<text x="161.9" y="13.5" font-size="3.6">2022-1-27 13:19</text>
<text x="161.9" y="17.7" font-size="3.6">anomalous volumes</text>
<clipPath id="c2"><rect x="219.5" y="7.36" width="178.5" height="106.0"/></clipPath>
<g clip-path="url(#c2)">
<rect x="228.6" y="45.5" width="160.3" height="9.5" fill="#e4faf7"/>
<rect x="272.4" y="11.0" width="2.8" height="98.0" fill="#fdf3f3"/>
<rect x="329.5" y="25.0" width="4.0" height="25.0" fill="#e6ece4"/>
<rect x="347.5" y="39.0" width="4.5" height="11.0" fill="#e2e9df"/>
<rect x="249.5" y="35.0" width="3.5" height="15.0" fill="#e6ece4"/>
<line x1="227.6" y1="20.4" x2="389.9" y2="20.4" stroke="#d2c050" stroke-width="0.8" stroke-dasharray="0.9 0.4"/>
<line x1="227.6" y1="80.2" x2="389.9" y2="80.2" stroke="#d2c050" stroke-width="0.8" stroke-dasharray="0.9 0.4"/>
<line x1="227.6" y1="50.2" x2="389.9" y2="50.2" stroke="#32622f" stroke-width="2.2"/>
<path d="M227.9,50.2V50.3M228.2,50.2V50.3M229.3,50.2V49.5M230.3,50.2V51.2M230.9,50.2V51.0M231.8,50.2V47.8M232.4,50.2V50.6M233.6,50.2V51.3M234.4,50.2V49.4M234.8,50.2V49.8M235.6,50.2V50.5M236.4,50.2V48.7M237.5,50.2V50.3M237.9,50.2V50.4M239.0,50.2V49.6M240.1,50.2V50.1M240.6,50.2V49.8M241.5,50.2V50.0M242.4,50.2V49.9M243.0,50.2V50.2M243.9,50.2V51.5M244.7,50.2V49.6M245.8,50.2V50.6M246.3,50.2V50.9M247.0,50.2V50.9M248.1,50.2V50.4M248.9,50.2V50.8M249.9,50.2V50.4M250.6,50.2V49.5M251.5,50.2V50.2M252.1,50.2V50.1M253.1,50.2V49.3M253.8,50.2V50.3M254.6,50.2V50.2M255.1,50.2V50.0M255.9,50.2V49.6M256.9,50.2V50.5M258.0,50.2V50.5M258.5,50.2V50.8M259.3,50.2V50.6M260.5,50.2V50.3M261.2,50.2V47.6M261.9,50.2V51.1M262.5,50.2V50.5M263.3,50.2V51.4M264.1,50.2V49.6M265.0,50.2V50.5M266.1,50.2V50.3M266.6,50.2V50.2M267.5,50.2V49.8M268.3,50.2V49.7M269.5,50.2V50.4M270.1,50.2V50.0M271.1,50.2V50.0M271.7,50.2V50.0M272.3,50.2V51.3M273.2,50.2V50.4M273.9,50.2V49.5M274.9,50.2V49.5M275.8,50.2V51.2M276.7,50.2V51.4M277.1,50.2V50.9M278.4,50.2V50.4M278.7,50.2V50.7M280.0,50.2V50.7M280.7,50.2V50.7M281.5,50.2V50.6M282.1,50.2V50.0M283.1,50.2V49.5M284.0,50.2V50.1M284.4,50.2V50.3M285.6,50.2V48.6M286.6,50.2V50.2M286.9,50.2V50.3M287.9,50.2V50.5M288.7,50.2V50.8M289.5,50.2V49.0M290.3,50.2V52.5M291.0,50.2V50.5M291.8,50.2V47.5M292.6,50.2V49.1M293.4,50.2V50.3M294.4,50.2V50.9M295.4,50.2V52.9M296.2,50.2V48.5M297.1,50.2V50.6M297.5,50.2V49.2M298.3,50.2V49.8M299.2,50.2V50.4M300.0,50.2V49.5M301.1,50.2V49.3M301.9,50.2V50.5M302.8,50.2V49.3M303.3,50.2V50.7M304.1,50.2V50.2M305.1,50.2V50.4M305.9,50.2V50.8M306.9,50.2V48.6M307.5,50.2V50.5M308.3,50.2V50.1M308.9,50.2V50.5M309.9,50.2V49.5M310.8,50.2V50.2M311.9,50.2V50.1M312.4,50.2V50.6M313.1,50.2V50.9M313.9,50.2V50.0M315.0,50.2V49.3M315.6,50.2V50.3M316.6,50.2V49.7M317.4,50.2V50.1M318.4,50.2V50.3M319.2,50.2V51.2M320.0,50.2V49.9M320.4,50.2V49.4M321.5,50.2V49.9M322.1,50.2V50.3M322.8,50.2V50.3M324.0,50.2V51.1M324.6,50.2V52.3M325.3,50.2V49.4M326.2,50.2V49.5M326.8,50.2V50.4M327.9,50.2V49.7M328.4,50.2V50.6M329.7,50.2V50.5M330.2,50.2V49.7M330.9,50.2V49.4M331.8,50.2V50.4M333.0,50.2V50.8M333.9,50.2V50.2M334.6,50.2V50.1M335.5,50.2V50.1M336.0,50.2V50.2M337.1,50.2V50.6M337.5,50.2V50.6M338.5,50.2V50.7M339.6,50.2V50.9M340.1,50.2V50.3M340.7,50.2V49.7M341.6,50.2V50.1M342.5,50.2V49.6M343.3,50.2V49.2M344.1,50.2V51.0M344.9,50.2V51.5M345.6,50.2V49.9M346.7,50.2V50.7M347.2,50.2V50.6M348.4,50.2V50.4M349.1,50.2V49.5M349.9,50.2V48.6M350.9,50.2V50.7M351.7,50.2V49.6M352.2,50.2V50.2M353.5,50.2V50.4M353.7,50.2V50.3M354.8,50.2V49.8M355.6,50.2V50.6M356.7,50.2V49.8M357.3,50.2V49.8M358.4,50.2V51.1M358.8,50.2V50.5M359.9,50.2V49.9M360.8,50.2V48.7M361.5,50.2V50.1M362.0,50.2V50.7M362.8,50.2V50.3M363.6,50.2V49.9M364.7,50.2V49.6M365.5,50.2V49.3M366.5,50.2V49.2M366.8,50.2V50.5M367.7,50.2V51.0M368.7,50.2V51.2M369.5,50.2V51.1M370.2,50.2V49.0M371.1,50.2V50.7M372.2,50.2V50.7M373.1,50.2V50.1M373.8,50.2V49.7M374.4,50.2V48.1M375.2,50.2V49.9M375.8,50.2V50.3M376.6,50.2V50.6M377.4,50.2V50.0M378.5,50.2V48.6M379.5,50.2V50.4M380.3,50.2V50.4M381.1,50.2V49.4M382.0,50.2V51.6M382.7,50.2V50.4M383.5,50.2V50.9M384.2,50.2V50.1M385.2,50.2V50.6M385.7,50.2V50.3M386.5,50.2V50.8M387.3,50.2V50.0M388.3,50.2V51.1M389.2,50.2V50.6M390.0,50.2V50.6" fill="none" stroke="#5a7a55" stroke-width="0.45"/>
<path d="M227.9,50.3L228.2,50.3L229.3,49.5L230.3,51.2L230.9,51.0L231.8,47.8L232.4,50.6L233.6,51.3L234.4,49.4L234.8,49.8L235.6,50.5L236.4,48.7L237.5,50.3L237.9,50.4L239.0,49.6L240.1,50.1L240.6,49.8L241.5,50.0L242.4,49.9L243.0,50.2L243.9,51.5L244.7,49.6L245.8,50.6L246.3,50.9L247.0,50.9L248.1,50.4L248.9,50.8L249.9,50.4L250.6,49.5L251.5,50.2L252.1,50.1L253.1,49.3L253.8,50.3L254.6,50.2L255.1,50.0L255.9,49.6L256.9,50.5L258.0,50.5L258.5,50.8L259.3,50.6L260.5,50.3L261.2,47.6L261.9,51.1L262.5,50.5L263.3,51.4L264.1,49.6L265.0,50.5L266.1,50.3L266.6,50.2L267.5,49.8L268.3,49.7L269.5,50.4L270.1,50.0L271.1,50.0L271.7,50.0L272.3,51.3L273.2,50.4L273.9,49.5L274.9,49.5L275.8,51.2L276.7,51.4L277.1,50.9L278.4,50.4L278.7,50.7L280.0,50.7L280.7,50.7L281.5,50.6L282.1,50.0L283.1,49.5L284.0,50.1L284.4,50.3L285.6,48.6L286.6,50.2L286.9,50.3L287.9,50.5L288.7,50.8L289.5,49.0L290.3,52.5L291.0,50.5L291.8,47.5L292.6,49.1L293.4,50.3L294.4,50.9L295.4,52.9L296.2,48.5L297.1,50.6L297.5,49.2L298.3,49.8L299.2,50.4L300.0,49.5L301.1,49.3L301.9,50.5L302.8,49.3L303.3,50.7L304.1,50.2L305.1,50.4L305.9,50.8L306.9,48.6L307.5,50.5L308.3,50.1L308.9,50.5L309.9,49.5L310.8,50.2L311.9,50.1L312.4,50.6L313.1,50.9L313.9,50.0L315.0,49.3L315.6,50.3L316.6,49.7L317.4,50.1L318.4,50.3L319.2,51.2L320.0,49.9L320.4,49.4L321.5,49.9L322.1,50.3L322.8,50.3L324.0,51.1L324.6,52.3L325.3,49.4L326.2,49.5L326.8,50.4L327.9,49.7L328.4,50.6L329.7,50.5L330.2,49.7L330.9,49.4L331.8,50.4L333.0,50.8L333.9,50.2L334.6,50.1L335.5,50.1L336.0,50.2L337.1,50.6L337.5,50.6L338.5,50.7L339.6,50.9L340.1,50.3L340.7,49.7L341.6,50.1L342.5,49.6L343.3,49.2L344.1,51.0L344.9,51.5L345.6,49.9L346.7,50.7L347.2,50.6L348.4,50.4L349.1,49.5L349.9,48.6L350.9,50.7L351.7,49.6L352.2,50.2L353.5,50.4L353.7,50.3L354.8,49.8L355.6,50.6L356.7,49.8L357.3,49.8L358.4,51.1L358.8,50.5L359.9,49.9L360.8,48.7L361.5,50.1L362.0,50.7L362.8,50.3L363.6,49.9L364.7,49.6L365.5,49.3L366.5,49.2L366.8,50.5L367.7,51.0L368.7,51.2L369.5,51.1L370.2,49.0L371.1,50.7L372.2,50.7L373.1,50.1L373.8,49.7L374.4,48.1L375.2,49.9L375.8,50.3L376.6,50.6L377.4,50.0L378.5,48.6L379.5,50.4L380.3,50.4L381.1,49.4L382.0,51.6L382.7,50.4L383.5,50.9L384.2,50.1L385.2,50.6L385.7,50.3L386.5,50.8L387.3,50.0L388.3,51.1L389.2,50.6L390.0,50.6" fill="none" stroke="#2e7a34" stroke-width="0.5" stroke-linejoin="round"/>
<g fill="#2e6e38"><circle cx="227.9" cy="50.3" r="1.1"/><circle cx="228.2" cy="50.3" r="1.1"/><circle cx="229.3" cy="49.5" r="1.1"/><circle cx="230.3" cy="51.2" r="1.1"/><circle cx="230.9" cy="51.0" r="1.1"/><circle cx="231.8" cy="47.8" r="1.1"/><circle cx="232.4" cy="50.6" r="1.1"/><circle cx="233.6" cy="51.3" r="1.1"/><circle cx="234.4" cy="49.4" r="1.1"/><circle cx="234.8" cy="49.8" r="1.1"/><circle cx="235.6" cy="50.5" r="1.1"/><circle cx="236.4" cy="48.7" r="1.1"/><circle cx="237.5" cy="50.3" r="1.1"/><circle cx="237.9" cy="50.4" r="1.1"/><circle cx="239.0" cy="49.6" r="1.1"/><circle cx="240.1" cy="50.1" r="1.1"/><circle cx="240.6" cy="49.8" r="1.1"/><circle cx="241.5" cy="50.0" r="1.1"/><circle cx="242.4" cy="49.9" r="1.1"/><circle cx="243.0" cy="50.2" r="1.1"/><circle cx="243.9" cy="51.5" r="1.1"/><circle cx="244.7" cy="49.6" r="1.1"/><circle cx="245.8" cy="50.6" r="1.1"/><circle cx="246.3" cy="50.9" r="1.1"/><circle cx="247.0" cy="50.9" r="1.1"/><circle cx="248.1" cy="50.4" r="1.1"/><circle cx="248.9" cy="50.8" r="1.1"/><circle cx="249.9" cy="50.4" r="1.1"/><circle cx="250.6" cy="49.5" r="1.1"/><circle cx="251.5" cy="50.2" r="1.1"/><circle cx="252.1" cy="50.1" r="1.1"/><circle cx="253.1" cy="49.3" r="1.1"/><circle cx="253.8" cy="50.3" r="1.1"/><circle cx="254.6" cy="50.2" r="1.1"/><circle cx="255.1" cy="50.0" r="1.1"/><circle cx="255.9" cy="49.6" r="1.1"/><circle cx="256.9" cy="50.5" r="1.1"/><circle cx="258.0" cy="50.5" r="1.1"/><circle cx="258.5" cy="50.8" r="1.1"/><circle cx="259.3" cy="50.6" r="1.1"/><circle cx="260.5" cy="50.3" r="1.1"/><circle cx="261.2" cy="47.6" r="1.1"/><circle cx="261.9" cy="51.1" r="1.1"/><circle cx="262.5" cy="50.5" r="1.1"/><circle cx="263.3" cy="51.4" r="1.1"/><circle cx="264.1" cy="49.6" r="1.1"/><circle cx="265.0" cy="50.5" r="1.1"/><circle cx="266.1" cy="50.3" r="1.1"/><circle cx="266.6" cy="50.2" r="1.1"/><circle cx="267.5" cy="49.8" r="1.1"/><circle cx="268.3" cy="49.7" r="1.1"/><circle cx="269.5" cy="50.4" r="1.1"/><circle cx="270.1" cy="50.0" r="1.1"/><circle cx="271.1" cy="50.0" r="1.1"/><circle cx="271.7" cy="50.0" r="1.1"/><circle cx="272.3" cy="51.3" r="1.1"/><circle cx="273.2" cy="50.4" r="1.1"/><circle cx="273.9" cy="49.5" r="1.1"/><circle cx="274.9" cy="49.5" r="1.1"/><circle cx="275.8" cy="51.2" r="1.1"/><circle cx="276.7" cy="51.4" r="1.1"/><circle cx="277.1" cy="50.9" r="1.1"/><circle cx="278.4" cy="50.4" r="1.1"/><circle cx="278.7" cy="50.7" r="1.1"/><circle cx="280.0" cy="50.7" r="1.1"/><circle cx="280.7" cy="50.7" r="1.1"/><circle cx="281.5" cy="50.6" r="1.1"/><circle cx="282.1" cy="50.0" r="1.1"/><circle cx="283.1" cy="49.5" r="1.1"/><circle cx="284.0" cy="50.1" r="1.1"/><circle cx="284.4" cy="50.3" r="1.1"/><circle cx="285.6" cy="48.6" r="1.1"/><circle cx="286.6" cy="50.2" r="1.1"/><circle cx="286.9" cy="50.3" r="1.1"/><circle cx="287.9" cy="50.5" r="1.1"/><circle cx="288.7" cy="50.8" r="1.1"/><circle cx="289.5" cy="49.0" r="1.1"/><circle cx="290.3" cy="52.5" r="1.1"/><circle cx="291.0" cy="50.5" r="1.1"/><circle cx="291.8" cy="47.5" r="1.1"/><circle cx="292.6" cy="49.1" r="1.1"/><circle cx="293.4" cy="50.3" r="1.1"/><circle cx="294.4" cy="50.9" r="1.1"/><circle cx="295.4" cy="52.9" r="1.1"/><circle cx="296.2" cy="48.5" r="1.1"/><circle cx="297.1" cy="50.6" r="1.1"/><circle cx="297.5" cy="49.2" r="1.1"/><circle cx="298.3" cy="49.8" r="1.1"/><circle cx="299.2" cy="50.4" r="1.1"/><circle cx="300.0" cy="49.5" r="1.1"/><circle cx="301.1" cy="49.3" r="1.1"/><circle cx="301.9" cy="50.5" r="1.1"/><circle cx="302.8" cy="49.3" r="1.1"/><circle cx="303.3" cy="50.7" r="1.1"/><circle cx="304.1" cy="50.2" r="1.1"/><circle cx="305.1" cy="50.4" r="1.1"/><circle cx="305.9" cy="50.8" r="1.1"/><circle cx="306.9" cy="48.6" r="1.1"/><circle cx="307.5" cy="50.5" r="1.1"/><circle cx="308.3" cy="50.1" r="1.1"/><circle cx="308.9" cy="50.5" r="1.1"/><circle cx="309.9" cy="49.5" r="1.1"/><circle cx="310.8" cy="50.2" r="1.1"/><circle cx="311.9" cy="50.1" r="1.1"/><circle cx="312.4" cy="50.6" r="1.1"/><circle cx="313.1" cy="50.9" r="1.1"/><circle cx="313.9" cy="50.0" r="1.1"/><circle cx="315.0" cy="49.3" r="1.1"/><circle cx="315.6" cy="50.3" r="1.1"/><circle cx="316.6" cy="49.7" r="1.1"/><circle cx="317.4" cy="50.1" r="1.1"/><circle cx="318.4" cy="50.3" r="1.1"/><circle cx="319.2" cy="51.2" r="1.1"/><circle cx="320.0" cy="49.9" r="1.1"/><circle cx="320.4" cy="49.4" r="1.1"/><circle cx="321.5" cy="49.9" r="1.1"/><circle cx="322.1" cy="50.3" r="1.1"/><circle cx="322.8" cy="50.3" r="1.1"/><circle cx="324.0" cy="51.1" r="1.1"/><circle cx="324.6" cy="52.3" r="1.1"/><circle cx="325.3" cy="49.4" r="1.1"/><circle cx="326.2" cy="49.5" r="1.1"/><circle cx="326.8" cy="50.4" r="1.1"/><circle cx="327.9" cy="49.7" r="1.1"/><circle cx="328.4" cy="50.6" r="1.1"/><circle cx="329.7" cy="50.5" r="1.1"/><circle cx="330.2" cy="49.7" r="1.1"/><circle cx="330.9" cy="49.4" r="1.1"/><circle cx="331.8" cy="50.4" r="1.1"/><circle cx="333.0" cy="50.8" r="1.1"/><circle cx="333.9" cy="50.2" r="1.1"/><circle cx="334.6" cy="50.1" r="1.1"/><circle cx="335.5" cy="50.1" r="1.1"/><circle cx="336.0" cy="50.2" r="1.1"/><circle cx="337.1" cy="50.6" r="1.1"/><circle cx="337.5" cy="50.6" r="1.1"/><circle cx="338.5" cy="50.7" r="1.1"/><circle cx="339.6" cy="50.9" r="1.1"/><circle cx="340.1" cy="50.3" r="1.1"/><circle cx="340.7" cy="49.7" r="1.1"/><circle cx="341.6" cy="50.1" r="1.1"/><circle cx="342.5" cy="49.6" r="1.1"/><circle cx="343.3" cy="49.2" r="1.1"/><circle cx="344.1" cy="51.0" r="1.1"/><circle cx="344.9" cy="51.5" r="1.1"/><circle cx="345.6" cy="49.9" r="1.1"/><circle cx="346.7" cy="50.7" r="1.1"/><circle cx="347.2" cy="50.6" r="1.1"/><circle cx="348.4" cy="50.4" r="1.1"/><circle cx="349.1" cy="49.5" r="1.1"/><circle cx="349.9" cy="48.6" r="1.1"/><circle cx="350.9" cy="50.7" r="1.1"/><circle cx="351.7" cy="49.6" r="1.1"/><circle cx="352.2" cy="50.2" r="1.1"/><circle cx="353.5" cy="50.4" r="1.1"/><circle cx="353.7" cy="50.3" r="1.1"/><circle cx="354.8" cy="49.8" r="1.1"/><circle cx="355.6" cy="50.6" r="1.1"/><circle cx="356.7" cy="49.8" r="1.1"/><circle cx="357.3" cy="49.8" r="1.1"/><circle cx="358.4" cy="51.1" r="1.1"/><circle cx="358.8" cy="50.5" r="1.1"/><circle cx="359.9" cy="49.9" r="1.1"/><circle cx="360.8" cy="48.7" r="1.1"/><circle cx="361.5" cy="50.1" r="1.1"/><circle cx="362.0" cy="50.7" r="1.1"/><circle cx="362.8" cy="50.3" r="1.1"/><circle cx="363.6" cy="49.9" r="1.1"/><circle cx="364.7" cy="49.6" r="1.1"/><circle cx="365.5" cy="49.3" r="1.1"/><circle cx="366.5" cy="49.2" r="1.1"/><circle cx="366.8" cy="50.5" r="1.1"/><circle cx="367.7" cy="51.0" r="1.1"/><circle cx="368.7" cy="51.2" r="1.1"/><circle cx="369.5" cy="51.1" r="1.1"/><circle cx="370.2" cy="49.0" r="1.1"/><circle cx="371.1" cy="50.7" r="1.1"/><circle cx="372.2" cy="50.7" r="1.1"/><circle cx="373.1" cy="50.1" r="1.1"/><circle cx="373.8" cy="49.7" r="1.1"/><circle cx="374.4" cy="48.1" r="1.1"/><circle cx="375.2" cy="49.9" r="1.1"/><circle cx="375.8" cy="50.3" r="1.1"/><circle cx="376.6" cy="50.6" r="1.1"/><circle cx="377.4" cy="50.0" r="1.1"/><circle cx="378.5" cy="48.6" r="1.1"/><circle cx="379.5" cy="50.4" r="1.1"/><circle cx="380.3" cy="50.4" r="1.1"/><circle cx="381.1" cy="49.4" r="1.1"/><circle cx="382.0" cy="51.6" r="1.1"/><circle cx="382.7" cy="50.4" r="1.1"/><circle cx="383.5" cy="50.9" r="1.1"/><circle cx="384.2" cy="50.1" r="1.1"/><circle cx="385.2" cy="50.6" r="1.1"/><circle cx="385.7" cy="50.3" r="1.1"/><circle cx="386.5" cy="50.8" r="1.1"/><circle cx="387.3" cy="50.0" r="1.1"/><circle cx="388.3" cy="51.1" r="1.1"/><circle cx="389.2" cy="50.6" r="1.1"/><circle cx="390.0" cy="50.6" r="1.1"/></g>
<line x1="251.5" y1="50.2" x2="251.5" y2="35.5" stroke="#7d917a" stroke-width="0.65"/>
<circle cx="251.5" cy="35.5" r="1.15" fill="#3a523a"/>
<line x1="256.5" y1="50.2" x2="256.5" y2="40.7" stroke="#7d917a" stroke-width="0.65"/>
<circle cx="256.5" cy="40.7" r="1.15" fill="#3a523a"/>
<line x1="282.5" y1="50.2" x2="282.5" y2="40.0" stroke="#7d917a" stroke-width="0.65"/>
<circle cx="282.5" cy="40.0" r="1.15" fill="#3a523a"/>
<line x1="303.5" y1="50.2" x2="303.5" y2="39.3" stroke="#7d917a" stroke-width="0.65"/>
<circle cx="303.5" cy="39.3" r="1.15" fill="#3a523a"/>
<line x1="291.5" y1="50.2" x2="291.5" y2="47.4" stroke="#7d917a" stroke-width="0.65"/>
<circle cx="291.5" cy="47.4" r="1.15" fill="#3a523a"/>
<line x1="233.5" y1="50.2" x2="233.5" y2="56.5" stroke="#7d917a" stroke-width="0.65"/>
<circle cx="233.5" cy="56.5" r="1.15" fill="#3a523a"/>
<line x1="228.5" y1="50.2" x2="228.5" y2="53.5" stroke="#7d917a" stroke-width="0.65"/>
<circle cx="228.5" cy="53.5" r="1.15" fill="#3a523a"/>
<line x1="267.5" y1="50.2" x2="267.5" y2="53.5" stroke="#7d917a" stroke-width="0.65"/>
<circle cx="267.5" cy="53.5" r="1.15" fill="#3a523a"/>
<line x1="325.5" y1="50.2" x2="325.5" y2="35.2" stroke="#7d917a" stroke-width="0.65"/>
<circle cx="325.5" cy="35.2" r="1.15" fill="#3a523a"/>
<line x1="330.5" y1="50.2" x2="330.5" y2="40.8" stroke="#7d917a" stroke-width="0.65"/>
<circle cx="330.5" cy="40.8" r="1.15" fill="#3a523a"/>
<line x1="332.5" y1="50.2" x2="332.5" y2="25.0" stroke="#7d917a" stroke-width="0.65"/>
<circle cx="332.5" cy="25.0" r="1.15" fill="#3a523a"/>
<line x1="349.5" y1="50.2" x2="349.5" y2="39.2" stroke="#7d917a" stroke-width="0.65"/>
<circle cx="349.5" cy="39.2" r="1.15" fill="#3a523a"/>
<line x1="354.5" y1="50.2" x2="354.5" y2="42.2" stroke="#7d917a" stroke-width="0.65"/>
<circle cx="354.5" cy="42.2" r="1.15" fill="#3a523a"/>
<line x1="358.5" y1="50.2" x2="358.5" y2="45.5" stroke="#7d917a" stroke-width="0.65"/>
<circle cx="358.5" cy="45.5" r="1.15" fill="#3a523a"/>
<line x1="363.5" y1="50.2" x2="363.5" y2="39.9" stroke="#7d917a" stroke-width="0.65"/>
<circle cx="363.5" cy="39.9" r="1.15" fill="#3a523a"/>
<line x1="368.5" y1="50.2" x2="368.5" y2="41.5" stroke="#7d917a" stroke-width="0.65"/>
<circle cx="368.5" cy="41.5" r="1.15" fill="#3a523a"/>
<line x1="375.5" y1="50.2" x2="375.5" y2="42.2" stroke="#7d917a" stroke-width="0.65"/>
<circle cx="375.5" cy="42.2" r="1.15" fill="#3a523a"/>
<line x1="384.5" y1="50.2" x2="384.5" y2="46.0" stroke="#7d917a" stroke-width="0.65"/>
<circle cx="384.5" cy="46.0" r="1.15" fill="#3a523a"/>
<line x1="314.5" y1="50.2" x2="314.5" y2="64.0" stroke="#7d917a" stroke-width="0.65"/>
<circle cx="314.5" cy="64.0" r="1.15" fill="#3a523a"/>
<line x1="361.5" y1="50.2" x2="361.5" y2="55.0" stroke="#7d917a" stroke-width="0.65"/>
<circle cx="361.5" cy="55.0" r="1.15" fill="#3a523a"/>
<line x1="379.5" y1="50.2" x2="379.5" y2="53.0" stroke="#7d917a" stroke-width="0.65"/>
<circle cx="379.5" cy="53.0" r="1.15" fill="#3a523a"/>
<line x1="273.5" y1="50.2" x2="273.5" y2="11.8" stroke="#975a40" stroke-width="0.8"/>
<circle cx="273.5" cy="11.8" r="1.15" fill="#45302a"/>
<line x1="274.5" y1="50.2" x2="274.5" y2="108.7" stroke="#975a40" stroke-width="0.8"/>
<circle cx="274.5" cy="108.7" r="1.15" fill="#45302a"/>
<line x1="366.8" y1="12.3" x2="366.8" y2="108.9" stroke="#6468d0" stroke-width="0.7" stroke-dasharray="1.1 0.5"/>
<line x1="388.7" y1="12.3" x2="388.7" y2="108.9" stroke="#6468d0" stroke-width="0.7" stroke-dasharray="1.1 0.5"/>
</g>
<rect x="219.5" y="7.4" width="178.5" height="106.0" fill="none" stroke="#555" stroke-width="0.6"/>
<line x1="217.9" y1="14.2" x2="219.5" y2="14.2" stroke="#333" stroke-width="0.6"/>
<text x="217.9" y="16.0" text-anchor="end" font-size="3.6" class="tk">0.4</text>
<line x1="217.9" y1="32.2" x2="219.5" y2="32.2" stroke="#333" stroke-width="0.6"/>
<text x="217.9" y="34.0" text-anchor="end" font-size="3.6" class="tk">0.2</text>
<line x1="217.9" y1="50.2" x2="219.5" y2="50.2" stroke="#333" stroke-width="0.6"/>
<text x="217.9" y="52.0" text-anchor="end" font-size="3.6" class="tk">0.0</text>
<line x1="217.9" y1="68.2" x2="219.5" y2="68.2" stroke="#333" stroke-width="0.6"/>
<text x="217.9" y="70.0" text-anchor="end" font-size="3.6" class="tk">−0.2</text>
<line x1="217.9" y1="86.2" x2="219.5" y2="86.2" stroke="#333" stroke-width="0.6"/>
<text x="217.9" y="88.0" text-anchor="end" font-size="3.6" class="tk">−0.4</text>
<line x1="217.9" y1="104.2" x2="219.5" y2="104.2" stroke="#333" stroke-width="0.6"/>
<text x="217.9" y="106.0" text-anchor="end" font-size="3.6" class="tk">−0.6</text>
<line x1="226.8" y1="113.4" x2="226.8" y2="114.7" stroke="#555" stroke-width="0.5"/>
<text transform="translate(228.0,116.3) rotate(-90)" text-anchor="end" font-size="3.4" class="xt">13:19</text>
<line x1="231.3" y1="113.4" x2="231.3" y2="114.7" stroke="#555" stroke-width="0.5"/>
<text transform="translate(232.5,116.3) rotate(-90)" text-anchor="end" font-size="3.4" class="xt">13:19</text>
<line x1="232.5" y1="113.4" x2="232.5" y2="114.7" stroke="#555" stroke-width="0.5"/>
<text transform="translate(233.7,116.3) rotate(-90)" text-anchor="end" font-size="3.4" class="xt">13:19</text>
<line x1="234.0" y1="113.4" x2="234.0" y2="114.7" stroke="#555" stroke-width="0.5"/>
<text transform="translate(235.2,116.3) rotate(-90)" text-anchor="end" font-size="3.4" class="xt">13:19</text>
<line x1="235.5" y1="113.4" x2="235.5" y2="114.7" stroke="#555" stroke-width="0.5"/>
<text transform="translate(236.7,116.3) rotate(-90)" text-anchor="end" font-size="3.4" class="xt">13:19</text>
<line x1="237.5" y1="113.4" x2="237.5" y2="114.7" stroke="#555" stroke-width="0.5"/>
<text transform="translate(238.7,116.3) rotate(-90)" text-anchor="end" font-size="3.4" class="xt">13:19</text>
<line x1="258.1" y1="113.4" x2="258.1" y2="114.7" stroke="#555" stroke-width="0.5"/>
<text transform="translate(259.3,116.3) rotate(-90)" text-anchor="end" font-size="3.4" class="xt">13:19</text>
<line x1="261.0" y1="113.4" x2="261.0" y2="114.7" stroke="#555" stroke-width="0.5"/>
<text transform="translate(262.2,116.3) rotate(-90)" text-anchor="end" font-size="3.4" class="xt">13:19</text>
<line x1="263.7" y1="113.4" x2="263.7" y2="114.7" stroke="#555" stroke-width="0.5"/>
<text transform="translate(264.9,116.3) rotate(-90)" text-anchor="end" font-size="3.4" class="xt">13:19</text>
<line x1="270.4" y1="113.4" x2="270.4" y2="114.7" stroke="#555" stroke-width="0.5"/>
<text transform="translate(271.6,116.3) rotate(-90)" text-anchor="end" font-size="3.4" class="xt">13:19</text>
<line x1="277.1" y1="113.4" x2="277.1" y2="114.7" stroke="#555" stroke-width="0.5"/>
<text transform="translate(278.3,116.3) rotate(-90)" text-anchor="end" font-size="3.4" class="xt">13:19</text>
<line x1="278.5" y1="113.4" x2="278.5" y2="114.7" stroke="#555" stroke-width="0.5"/>
<text transform="translate(279.7,116.3) rotate(-90)" text-anchor="end" font-size="3.4" class="xt">13:19</text>
<line x1="280.0" y1="113.4" x2="280.0" y2="114.7" stroke="#555" stroke-width="0.5"/>
<text transform="translate(281.2,116.3) rotate(-90)" text-anchor="end" font-size="3.4" class="xt">13:19</text>
<line x1="281.5" y1="113.4" x2="281.5" y2="114.7" stroke="#555" stroke-width="0.5"/>
<text transform="translate(282.7,116.3) rotate(-90)" text-anchor="end" font-size="3.4" class="xt">13:19</text>
<line x1="286.0" y1="113.4" x2="286.0" y2="114.7" stroke="#555" stroke-width="0.5"/>
<text transform="translate(287.2,116.3) rotate(-90)" text-anchor="end" font-size="3.4" class="xt">13:19</text>
<line x1="290.5" y1="113.4" x2="290.5" y2="114.7" stroke="#555" stroke-width="0.5"/>
<text transform="translate(291.7,116.3) rotate(-90)" text-anchor="end" font-size="3.4" class="xt">13:19</text>
<line x1="296.0" y1="113.4" x2="296.0" y2="114.7" stroke="#555" stroke-width="0.5"/>
<text transform="translate(297.2,116.3) rotate(-90)" text-anchor="end" font-size="3.4" class="xt">13:19</text>
<line x1="299.4" y1="113.4" x2="299.4" y2="114.7" stroke="#555" stroke-width="0.5"/>
<text transform="translate(300.6,116.3) rotate(-90)" text-anchor="end" font-size="3.4" class="xt">13:19</text>
<line x1="307.9" y1="113.4" x2="307.9" y2="114.7" stroke="#555" stroke-width="0.5"/>
<text transform="translate(309.1,116.3) rotate(-90)" text-anchor="end" font-size="3.4" class="xt">13:19</text>
<line x1="309.9" y1="113.4" x2="309.9" y2="114.7" stroke="#555" stroke-width="0.5"/>
<text transform="translate(311.1,116.3) rotate(-90)" text-anchor="end" font-size="3.4" class="xt">13:19</text>
<line x1="317.2" y1="113.4" x2="317.2" y2="114.7" stroke="#555" stroke-width="0.5"/>
<text transform="translate(318.4,116.3) rotate(-90)" text-anchor="end" font-size="3.4" class="xt">13:19</text>
<line x1="319.6" y1="113.4" x2="319.6" y2="114.7" stroke="#555" stroke-width="0.5"/>
<text transform="translate(320.8,116.3) rotate(-90)" text-anchor="end" font-size="3.4" class="xt">13:19</text>
<line x1="322.0" y1="113.4" x2="322.0" y2="114.7" stroke="#555" stroke-width="0.5"/>
<text transform="translate(323.2,116.3) rotate(-90)" text-anchor="end" font-size="3.4" class="xt">13:19</text>
<line x1="337.8" y1="113.4" x2="337.8" y2="114.7" stroke="#555" stroke-width="0.5"/>
<text transform="translate(339.0,116.3) rotate(-90)" text-anchor="end" font-size="3.4" class="xt">13:19</text>
<line x1="341.5" y1="113.4" x2="341.5" y2="114.7" stroke="#555" stroke-width="0.5"/>
<text transform="translate(342.7,116.3) rotate(-90)" text-anchor="end" font-size="3.4" class="xt">13:19</text>
<line x1="360.4" y1="113.4" x2="360.4" y2="114.7" stroke="#555" stroke-width="0.5"/>
<text transform="translate(361.6,116.3) rotate(-90)" text-anchor="end" font-size="3.4" class="xt">13:19</text>
<line x1="362.1" y1="113.4" x2="362.1" y2="114.7" stroke="#555" stroke-width="0.5"/>
<text transform="translate(363.3,116.3) rotate(-90)" text-anchor="end" font-size="3.4" class="xt">13:19</text>
<line x1="366.8" y1="113.4" x2="366.8" y2="114.7" stroke="#555" stroke-width="0.5"/>
<text transform="translate(368.0,116.3) rotate(-90)" text-anchor="end" font-size="3.4" class="xt">13:19:00</text>
<line x1="386.5" y1="113.4" x2="386.5" y2="114.7" stroke="#555" stroke-width="0.5"/>
<text transform="translate(387.7,116.3) rotate(-90)" text-anchor="end" font-size="3.4" class="xt">13:19</text>
<line x1="388.9" y1="113.4" x2="388.9" y2="114.7" stroke="#555" stroke-width="0.5"/>
<text transform="translate(390.1,116.3) rotate(-90)" text-anchor="end" font-size="3.4" class="xt">13:19:00</text>
<text x="308.8" y="5.8" text-anchor="middle" font-size="4.2">ASR_2022-3-22 16:08</text>
<text x="308.8" y="134.2" text-anchor="middle" font-size="3.7">datetime</text>
<text transform="translate(207.7,60.4) rotate(-90)" text-anchor="middle" font-size="3.6">bs_volume</text>
<rect x="351.6" y="8.6" width="45.0" height="10.8" rx="0.8" fill="#fff" fill-opacity="0.82" stroke="#d0d0d0" stroke-width="0.4"/>
<line x1="352.9" y1="11.4" x2="359.6" y2="11.4" stroke="#6468d0" stroke-width="0.6" stroke-dasharray="1.3 0.8"/>
<line x1="352.9" y1="16.4" x2="359.6" y2="16.4" stroke="#d2c050" stroke-width="0.7" stroke-dasharray="1.6 0.9"/>
<text x="361.9" y="13.5" font-size="3.6">2022-3-22 16:08</text>
<text x="361.9" y="17.7" font-size="3.6">anomalous volumes</text>
<clipPath id="c3"><rect x="19.5" y="145.2" width="178.5" height="106.2"/></clipPath>
<g clip-path="url(#c3)">
<rect x="28.6" y="217.6" width="160.3" height="13.4" fill="#e4faf7"/>
<rect x="53.5" y="223.0" width="4.5" height="24.0" fill="#fdf3f3"/>
<rect x="65.5" y="205.0" width="10.5" height="40.0" fill="#fdf3f3"/>
<rect x="120.5" y="176.0" width="38.5" height="65.0" fill="#fdf6f6"/>
<rect x="126.5" y="149.0" width="4.5" height="97.0" fill="#fdf3f3"/>
<rect x="150.0" y="187.0" width="5.0" height="36.0" fill="#fdf3f3"/>
<rect x="170.0" y="190.0" width="3.0" height="33.0" fill="#fdf3f3"/>
<line x1="27.6" y1="210.9" x2="189.9" y2="210.9" stroke="#d2c050" stroke-width="0.8" stroke-dasharray="0.9 0.4"/>
<line x1="27.6" y1="236.6" x2="189.9" y2="236.6" stroke="#d2c050" stroke-width="0.8" stroke-dasharray="0.9 0.4"/>
<line x1="27.6" y1="223.2" x2="189.9" y2="223.2" stroke="#32622f" stroke-width="2.2"/>
<path d="M27.6,223.2V222.3M28.5,223.2V222.1M29.5,223.2V224.8M30.0,223.2V225.9M30.9,223.2V220.8M31.6,223.2V225.1M32.5,223.2V225.8M33.3,223.2V224.6M34.4,223.2V220.0M35.2,223.2V223.3M36.1,223.2V225.2M36.7,223.2V224.5M37.3,223.2V222.8M38.1,223.2V225.6M39.2,223.2V222.7M40.0,223.2V220.6M40.5,223.2V225.1M41.3,223.2V224.4M42.3,223.2V222.7M43.3,223.2V224.2M43.7,223.2V222.6M44.5,223.2V224.2M45.3,223.2V222.5M46.6,223.2V223.6M47.0,223.2V218.3M48.2,223.2V224.1M48.7,223.2V225.4M49.7,223.2V223.5M50.4,223.2V224.1M51.1,223.2V222.8M52.3,223.2V222.5M52.7,223.2V227.1M53.6,223.2V221.1M54.6,223.2V225.4M55.5,223.2V223.8M56.4,223.2V227.3M56.8,223.2V222.4M57.6,223.2V223.1M58.3,223.2V226.2M59.7,223.2V222.9M59.9,223.2V225.3M61.2,223.2V218.7M61.9,223.2V224.4M62.6,223.2V229.6M63.8,223.2V219.5M64.2,223.2V221.3M65.1,223.2V223.9M66.1,223.2V223.4M67.0,223.2V221.4M67.4,223.2V223.5M68.2,223.2V222.4M69.3,223.2V220.8M69.9,223.2V223.3M71.0,223.2V228.8M71.7,223.2V225.1M72.3,223.2V223.7M73.0,223.2V226.3M74.4,223.2V225.3M74.7,223.2V222.0M75.5,223.2V225.9M76.8,223.2V222.3M77.3,223.2V222.4M78.4,223.2V225.2M78.9,223.2V221.5M79.7,223.2V222.3M80.5,223.2V224.7M81.5,223.2V225.3M82.1,223.2V223.7M82.8,223.2V224.5M84.1,223.2V220.7M84.5,223.2V221.0M85.5,223.2V230.0M86.6,223.2V222.7M87.3,223.2V223.7M87.9,223.2V222.8M88.8,223.2V223.9M89.6,223.2V224.9M90.3,223.2V223.5M91.1,223.2V225.5M92.2,223.2V221.2M92.8,223.2V224.5M93.9,223.2V223.1M94.4,223.2V224.3M95.3,223.2V224.2M96.3,223.2V222.9M96.8,223.2V222.4M97.7,223.2V223.8M98.8,223.2V227.2M99.3,223.2V222.8M100.2,223.2V226.8M100.9,223.2V229.2M101.9,223.2V224.5M102.9,223.2V225.3M103.3,223.2V224.7M104.4,223.2V224.6M105.0,223.2V224.6M105.8,223.2V223.1M106.8,223.2V227.5M107.3,223.2V223.3M108.6,223.2V224.0M109.2,223.2V221.4M110.0,223.2V220.5M110.8,223.2V223.7M111.7,223.2V225.9M112.3,223.2V218.8M113.5,223.2V221.3M114.1,223.2V222.4M114.9,223.2V225.2M115.8,223.2V225.8M116.6,223.2V223.2M117.5,223.2V222.3M118.4,223.2V226.0M119.1,223.2V222.8M120.0,223.2V224.0M120.4,223.2V224.1M121.2,223.2V218.1M122.0,223.2V224.8M123.0,223.2V227.8M123.7,223.2V223.5M124.4,223.2V224.0M125.6,223.2V224.5M126.1,223.2V224.4M126.8,223.2V225.9M127.6,223.2V223.3M128.6,223.2V224.8M129.6,223.2V222.9M130.3,223.2V225.8M131.0,223.2V225.3M132.2,223.2V222.7M132.8,223.2V223.4M133.8,223.2V223.7M134.5,223.2V223.1M135.3,223.2V223.3M135.8,223.2V224.3M136.7,223.2V222.8M137.6,223.2V223.7M138.4,223.2V224.4M139.6,223.2V221.0M140.1,223.2V223.0M141.0,223.2V223.9M141.8,223.2V225.0M142.5,223.2V222.7M143.3,223.2V225.2M144.5,223.2V229.9M145.2,223.2V223.3M146.1,223.2V224.5M146.4,223.2V225.5M147.7,223.2V224.1M148.0,223.2V224.7M149.0,223.2V226.3M149.6,223.2V221.1M151.0,223.2V224.2M151.6,223.2V224.7M152.7,223.2V223.9M153.4,223.2V224.0M154.2,223.2V229.6M154.8,223.2V226.4M155.8,223.2V229.2M156.2,223.2V219.6M157.6,223.2V226.0M157.8,223.2V223.4M158.9,223.2V223.5M160.0,223.2V227.5M160.5,223.2V223.7M161.6,223.2V224.4M162.4,223.2V222.2M163.1,223.2V225.4M163.8,223.2V225.5M164.6,223.2V224.8M165.5,223.2V223.5M166.5,223.2V227.3M166.9,223.2V225.1M167.9,223.2V221.6M168.4,223.2V224.2M169.7,223.2V223.4M170.3,223.2V224.7M171.1,223.2V225.9M172.1,223.2V228.8M173.0,223.2V229.3M173.5,223.2V219.1M174.6,223.2V218.1M175.1,223.2V221.7M176.3,223.2V222.8M177.0,223.2V224.5M177.8,223.2V225.3M178.3,223.2V223.6M179.5,223.2V223.1M180.0,223.2V224.6M180.9,223.2V224.1M181.6,223.2V225.9M182.8,223.2V223.9M183.4,223.2V218.3M184.3,223.2V218.9M184.9,223.2V222.1M185.9,223.2V220.5M186.9,223.2V223.6M187.5,223.2V225.0M188.0,223.2V224.4M189.3,223.2V223.4M190.1,223.2V224.2" fill="none" stroke="#5a7a55" stroke-width="0.45"/>
<path d="M27.6,222.3L28.5,222.1L29.5,224.8L30.0,225.9L30.9,220.8L31.6,225.1L32.5,225.8L33.3,224.6L34.4,220.0L35.2,223.3L36.1,225.2L36.7,224.5L37.3,222.8L38.1,225.6L39.2,222.7L40.0,220.6L40.5,225.1L41.3,224.4L42.3,222.7L43.3,224.2L43.7,222.6L44.5,224.2L45.3,222.5L46.6,223.6L47.0,218.3L48.2,224.1L48.7,225.4L49.7,223.5L50.4,224.1L51.1,222.8L52.3,222.5L52.7,227.1L53.6,221.1L54.6,225.4L55.5,223.8L56.4,227.3L56.8,222.4L57.6,223.1L58.3,226.2L59.7,222.9L59.9,225.3L61.2,218.7L61.9,224.4L62.6,229.6L63.8,219.5L64.2,221.3L65.1,223.9L66.1,223.4L67.0,221.4L67.4,223.5L68.2,222.4L69.3,220.8L69.9,223.3L71.0,228.8L71.7,225.1L72.3,223.7L73.0,226.3L74.4,225.3L74.7,222.0L75.5,225.9L76.8,222.3L77.3,222.4L78.4,225.2L78.9,221.5L79.7,222.3L80.5,224.7L81.5,225.3L82.1,223.7L82.8,224.5L84.1,220.7L84.5,221.0L85.5,230.0L86.6,222.7L87.3,223.7L87.9,222.8L88.8,223.9L89.6,224.9L90.3,223.5L91.1,225.5L92.2,221.2L92.8,224.5L93.9,223.1L94.4,224.3L95.3,224.2L96.3,222.9L96.8,222.4L97.7,223.8L98.8,227.2L99.3,222.8L100.2,226.8L100.9,229.2L101.9,224.5L102.9,225.3L103.3,224.7L104.4,224.6L105.0,224.6L105.8,223.1L106.8,227.5L107.3,223.3L108.6,224.0L109.2,221.4L110.0,220.5L110.8,223.7L111.7,225.9L112.3,218.8L113.5,221.3L114.1,222.4L114.9,225.2L115.8,225.8L116.6,223.2L117.5,222.3L118.4,226.0L119.1,222.8L120.0,224.0L120.4,224.1L121.2,218.1L122.0,224.8L123.0,227.8L123.7,223.5L124.4,224.0L125.6,224.5L126.1,224.4L126.8,225.9L127.6,223.3L128.6,224.8L129.6,222.9L130.3,225.8L131.0,225.3L132.2,222.7L132.8,223.4L133.8,223.7L134.5,223.1L135.3,223.3L135.8,224.3L136.7,222.8L137.6,223.7L138.4,224.4L139.6,221.0L140.1,223.0L141.0,223.9L141.8,225.0L142.5,222.7L143.3,225.2L144.5,229.9L145.2,223.3L146.1,224.5L146.4,225.5L147.7,224.1L148.0,224.7L149.0,226.3L149.6,221.1L151.0,224.2L151.6,224.7L152.7,223.9L153.4,224.0L154.2,229.6L154.8,226.4L155.8,229.2L156.2,219.6L157.6,226.0L157.8,223.4L158.9,223.5L160.0,227.5L160.5,223.7L161.6,224.4L162.4,222.2L163.1,225.4L163.8,225.5L164.6,224.8L165.5,223.5L166.5,227.3L166.9,225.1L167.9,221.6L168.4,224.2L169.7,223.4L170.3,224.7L171.1,225.9L172.1,228.8L173.0,229.3L173.5,219.1L174.6,218.1L175.1,221.7L176.3,222.8L177.0,224.5L177.8,225.3L178.3,223.6L179.5,223.1L180.0,224.6L180.9,224.1L181.6,225.9L182.8,223.9L183.4,218.3L184.3,218.9L184.9,222.1L185.9,220.5L186.9,223.6L187.5,225.0L188.0,224.4L189.3,223.4L190.1,224.2" fill="none" stroke="#2e7a34" stroke-width="0.5" stroke-linejoin="round"/>
<g fill="#2e6e38"><circle cx="27.6" cy="222.3" r="1.1"/><circle cx="28.5" cy="222.1" r="1.1"/><circle cx="29.5" cy="224.8" r="1.1"/><circle cx="30.0" cy="225.9" r="1.1"/><circle cx="30.9" cy="220.8" r="1.1"/><circle cx="31.6" cy="225.1" r="1.1"/><circle cx="32.5" cy="225.8" r="1.1"/><circle cx="33.3" cy="224.6" r="1.1"/><circle cx="34.4" cy="220.0" r="1.1"/><circle cx="35.2" cy="223.3" r="1.1"/><circle cx="36.1" cy="225.2" r="1.1"/><circle cx="36.7" cy="224.5" r="1.1"/><circle cx="37.3" cy="222.8" r="1.1"/><circle cx="38.1" cy="225.6" r="1.1"/><circle cx="39.2" cy="222.7" r="1.1"/><circle cx="40.0" cy="220.6" r="1.1"/><circle cx="40.5" cy="225.1" r="1.1"/><circle cx="41.3" cy="224.4" r="1.1"/><circle cx="42.3" cy="222.7" r="1.1"/><circle cx="43.3" cy="224.2" r="1.1"/><circle cx="43.7" cy="222.6" r="1.1"/><circle cx="44.5" cy="224.2" r="1.1"/><circle cx="45.3" cy="222.5" r="1.1"/><circle cx="46.6" cy="223.6" r="1.1"/><circle cx="47.0" cy="218.3" r="1.1"/><circle cx="48.2" cy="224.1" r="1.1"/><circle cx="48.7" cy="225.4" r="1.1"/><circle cx="49.7" cy="223.5" r="1.1"/><circle cx="50.4" cy="224.1" r="1.1"/><circle cx="51.1" cy="222.8" r="1.1"/><circle cx="52.3" cy="222.5" r="1.1"/><circle cx="52.7" cy="227.1" r="1.1"/><circle cx="53.6" cy="221.1" r="1.1"/><circle cx="54.6" cy="225.4" r="1.1"/><circle cx="55.5" cy="223.8" r="1.1"/><circle cx="56.4" cy="227.3" r="1.1"/><circle cx="56.8" cy="222.4" r="1.1"/><circle cx="57.6" cy="223.1" r="1.1"/><circle cx="58.3" cy="226.2" r="1.1"/><circle cx="59.7" cy="222.9" r="1.1"/><circle cx="59.9" cy="225.3" r="1.1"/><circle cx="61.2" cy="218.7" r="1.1"/><circle cx="61.9" cy="224.4" r="1.1"/><circle cx="62.6" cy="229.6" r="1.1"/><circle cx="63.8" cy="219.5" r="1.1"/><circle cx="64.2" cy="221.3" r="1.1"/><circle cx="65.1" cy="223.9" r="1.1"/><circle cx="66.1" cy="223.4" r="1.1"/><circle cx="67.0" cy="221.4" r="1.1"/><circle cx="67.4" cy="223.5" r="1.1"/><circle cx="68.2" cy="222.4" r="1.1"/><circle cx="69.3" cy="220.8" r="1.1"/><circle cx="69.9" cy="223.3" r="1.1"/><circle cx="71.0" cy="228.8" r="1.1"/><circle cx="71.7" cy="225.1" r="1.1"/><circle cx="72.3" cy="223.7" r="1.1"/><circle cx="73.0" cy="226.3" r="1.1"/><circle cx="74.4" cy="225.3" r="1.1"/><circle cx="74.7" cy="222.0" r="1.1"/><circle cx="75.5" cy="225.9" r="1.1"/><circle cx="76.8" cy="222.3" r="1.1"/><circle cx="77.3" cy="222.4" r="1.1"/><circle cx="78.4" cy="225.2" r="1.1"/><circle cx="78.9" cy="221.5" r="1.1"/><circle cx="79.7" cy="222.3" r="1.1"/><circle cx="80.5" cy="224.7" r="1.1"/><circle cx="81.5" cy="225.3" r="1.1"/><circle cx="82.1" cy="223.7" r="1.1"/><circle cx="82.8" cy="224.5" r="1.1"/><circle cx="84.1" cy="220.7" r="1.1"/><circle cx="84.5" cy="221.0" r="1.1"/><circle cx="85.5" cy="230.0" r="1.1"/><circle cx="86.6" cy="222.7" r="1.1"/><circle cx="87.3" cy="223.7" r="1.1"/><circle cx="87.9" cy="222.8" r="1.1"/><circle cx="88.8" cy="223.9" r="1.1"/><circle cx="89.6" cy="224.9" r="1.1"/><circle cx="90.3" cy="223.5" r="1.1"/><circle cx="91.1" cy="225.5" r="1.1"/><circle cx="92.2" cy="221.2" r="1.1"/><circle cx="92.8" cy="224.5" r="1.1"/><circle cx="93.9" cy="223.1" r="1.1"/><circle cx="94.4" cy="224.3" r="1.1"/><circle cx="95.3" cy="224.2" r="1.1"/><circle cx="96.3" cy="222.9" r="1.1"/><circle cx="96.8" cy="222.4" r="1.1"/><circle cx="97.7" cy="223.8" r="1.1"/><circle cx="98.8" cy="227.2" r="1.1"/><circle cx="99.3" cy="222.8" r="1.1"/><circle cx="100.2" cy="226.8" r="1.1"/><circle cx="100.9" cy="229.2" r="1.1"/><circle cx="101.9" cy="224.5" r="1.1"/><circle cx="102.9" cy="225.3" r="1.1"/><circle cx="103.3" cy="224.7" r="1.1"/><circle cx="104.4" cy="224.6" r="1.1"/><circle cx="105.0" cy="224.6" r="1.1"/><circle cx="105.8" cy="223.1" r="1.1"/><circle cx="106.8" cy="227.5" r="1.1"/><circle cx="107.3" cy="223.3" r="1.1"/><circle cx="108.6" cy="224.0" r="1.1"/><circle cx="109.2" cy="221.4" r="1.1"/><circle cx="110.0" cy="220.5" r="1.1"/><circle cx="110.8" cy="223.7" r="1.1"/><circle cx="111.7" cy="225.9" r="1.1"/><circle cx="112.3" cy="218.8" r="1.1"/><circle cx="113.5" cy="221.3" r="1.1"/><circle cx="114.1" cy="222.4" r="1.1"/><circle cx="114.9" cy="225.2" r="1.1"/><circle cx="115.8" cy="225.8" r="1.1"/><circle cx="116.6" cy="223.2" r="1.1"/><circle cx="117.5" cy="222.3" r="1.1"/><circle cx="118.4" cy="226.0" r="1.1"/><circle cx="119.1" cy="222.8" r="1.1"/><circle cx="120.0" cy="224.0" r="1.1"/><circle cx="120.4" cy="224.1" r="1.1"/><circle cx="121.2" cy="218.1" r="1.1"/><circle cx="122.0" cy="224.8" r="1.1"/><circle cx="123.0" cy="227.8" r="1.1"/><circle cx="123.7" cy="223.5" r="1.1"/><circle cx="124.4" cy="224.0" r="1.1"/><circle cx="125.6" cy="224.5" r="1.1"/><circle cx="126.1" cy="224.4" r="1.1"/><circle cx="126.8" cy="225.9" r="1.1"/><circle cx="127.6" cy="223.3" r="1.1"/><circle cx="128.6" cy="224.8" r="1.1"/><circle cx="129.6" cy="222.9" r="1.1"/><circle cx="130.3" cy="225.8" r="1.1"/><circle cx="131.0" cy="225.3" r="1.1"/><circle cx="132.2" cy="222.7" r="1.1"/><circle cx="132.8" cy="223.4" r="1.1"/><circle cx="133.8" cy="223.7" r="1.1"/><circle cx="134.5" cy="223.1" r="1.1"/><circle cx="135.3" cy="223.3" r="1.1"/><circle cx="135.8" cy="224.3" r="1.1"/><circle cx="136.7" cy="222.8" r="1.1"/><circle cx="137.6" cy="223.7" r="1.1"/><circle cx="138.4" cy="224.4" r="1.1"/><circle cx="139.6" cy="221.0" r="1.1"/><circle cx="140.1" cy="223.0" r="1.1"/><circle cx="141.0" cy="223.9" r="1.1"/><circle cx="141.8" cy="225.0" r="1.1"/><circle cx="142.5" cy="222.7" r="1.1"/><circle cx="143.3" cy="225.2" r="1.1"/><circle cx="144.5" cy="229.9" r="1.1"/><circle cx="145.2" cy="223.3" r="1.1"/><circle cx="146.1" cy="224.5" r="1.1"/><circle cx="146.4" cy="225.5" r="1.1"/><circle cx="147.7" cy="224.1" r="1.1"/><circle cx="148.0" cy="224.7" r="1.1"/><circle cx="149.0" cy="226.3" r="1.1"/><circle cx="149.6" cy="221.1" r="1.1"/><circle cx="151.0" cy="224.2" r="1.1"/><circle cx="151.6" cy="224.7" r="1.1"/><circle cx="152.7" cy="223.9" r="1.1"/><circle cx="153.4" cy="224.0" r="1.1"/><circle cx="154.2" cy="229.6" r="1.1"/><circle cx="154.8" cy="226.4" r="1.1"/><circle cx="155.8" cy="229.2" r="1.1"/><circle cx="156.2" cy="219.6" r="1.1"/><circle cx="157.6" cy="226.0" r="1.1"/><circle cx="157.8" cy="223.4" r="1.1"/><circle cx="158.9" cy="223.5" r="1.1"/><circle cx="160.0" cy="227.5" r="1.1"/><circle cx="160.5" cy="223.7" r="1.1"/><circle cx="161.6" cy="224.4" r="1.1"/><circle cx="162.4" cy="222.2" r="1.1"/><circle cx="163.1" cy="225.4" r="1.1"/><circle cx="163.8" cy="225.5" r="1.1"/><circle cx="164.6" cy="224.8" r="1.1"/><circle cx="165.5" cy="223.5" r="1.1"/><circle cx="166.5" cy="227.3" r="1.1"/><circle cx="166.9" cy="225.1" r="1.1"/><circle cx="167.9" cy="221.6" r="1.1"/><circle cx="168.4" cy="224.2" r="1.1"/><circle cx="169.7" cy="223.4" r="1.1"/><circle cx="170.3" cy="224.7" r="1.1"/><circle cx="171.1" cy="225.9" r="1.1"/><circle cx="172.1" cy="228.8" r="1.1"/><circle cx="173.0" cy="229.3" r="1.1"/><circle cx="173.5" cy="219.1" r="1.1"/><circle cx="174.6" cy="218.1" r="1.1"/><circle cx="175.1" cy="221.7" r="1.1"/><circle cx="176.3" cy="222.8" r="1.1"/><circle cx="177.0" cy="224.5" r="1.1"/><circle cx="177.8" cy="225.3" r="1.1"/><circle cx="178.3" cy="223.6" r="1.1"/><circle cx="179.5" cy="223.1" r="1.1"/><circle cx="180.0" cy="224.6" r="1.1"/><circle cx="180.9" cy="224.1" r="1.1"/><circle cx="181.6" cy="225.9" r="1.1"/><circle cx="182.8" cy="223.9" r="1.1"/><circle cx="183.4" cy="218.3" r="1.1"/><circle cx="184.3" cy="218.9" r="1.1"/><circle cx="184.9" cy="222.1" r="1.1"/><circle cx="185.9" cy="220.5" r="1.1"/><circle cx="186.9" cy="223.6" r="1.1"/><circle cx="187.5" cy="225.0" r="1.1"/><circle cx="188.0" cy="224.4" r="1.1"/><circle cx="189.3" cy="223.4" r="1.1"/><circle cx="190.1" cy="224.2" r="1.1"/></g>
<line x1="59.5" y1="223.2" x2="59.5" y2="210.9" stroke="#7d917a" stroke-width="0.65"/>
<circle cx="59.5" cy="210.9" r="1.15" fill="#3a523a"/>
<line x1="62.5" y1="223.2" x2="62.5" y2="214.2" stroke="#7d917a" stroke-width="0.65"/>
<circle cx="62.5" cy="214.2" r="1.15" fill="#3a523a"/>
<line x1="65.5" y1="223.2" x2="65.5" y2="234.3" stroke="#7d917a" stroke-width="0.65"/>
<circle cx="65.5" cy="234.3" r="1.15" fill="#3a523a"/>
<line x1="69.5" y1="223.2" x2="69.5" y2="229.9" stroke="#7d917a" stroke-width="0.65"/>
<circle cx="69.5" cy="229.9" r="1.15" fill="#3a523a"/>
<line x1="36.5" y1="223.2" x2="36.5" y2="232.8" stroke="#7d917a" stroke-width="0.65"/>
<circle cx="36.5" cy="232.8" r="1.15" fill="#3a523a"/>
<line x1="103.5" y1="223.2" x2="103.5" y2="233.9" stroke="#7d917a" stroke-width="0.65"/>
<circle cx="103.5" cy="233.9" r="1.15" fill="#3a523a"/>
<line x1="135.5" y1="223.2" x2="135.5" y2="216.0" stroke="#7d917a" stroke-width="0.65"/>
<circle cx="135.5" cy="216.0" r="1.15" fill="#3a523a"/>
<line x1="130.5" y1="223.2" x2="130.5" y2="216.0" stroke="#7d917a" stroke-width="0.65"/>
<circle cx="130.5" cy="216.0" r="1.15" fill="#3a523a"/>
<line x1="153.5" y1="223.2" x2="153.5" y2="195.9" stroke="#7d917a" stroke-width="0.65"/>
<circle cx="153.5" cy="195.9" r="1.15" fill="#3a523a"/>
<line x1="128.5" y1="223.2" x2="128.5" y2="149.5" stroke="#975a40" stroke-width="0.8"/>
<circle cx="128.5" cy="149.5" r="1.15" fill="#45302a"/>
<line x1="128.5" y1="223.2" x2="128.5" y2="245.5" stroke="#975a40" stroke-width="0.8"/>
<circle cx="128.5" cy="245.5" r="1.15" fill="#45302a"/>
<line x1="129.5" y1="223.2" x2="129.5" y2="177.4" stroke="#975a40" stroke-width="0.8"/>
<circle cx="129.5" cy="177.4" r="1.15" fill="#45302a"/>
<line x1="133.5" y1="223.2" x2="133.5" y2="176.7" stroke="#975a40" stroke-width="0.8"/>
<circle cx="133.5" cy="176.7" r="1.15" fill="#45302a"/>
<line x1="139.5" y1="223.2" x2="139.5" y2="171.8" stroke="#975a40" stroke-width="0.8"/>
<circle cx="139.5" cy="171.8" r="1.15" fill="#45302a"/>
<line x1="138.5" y1="223.2" x2="138.5" y2="240.6" stroke="#975a40" stroke-width="0.8"/>
<circle cx="138.5" cy="240.6" r="1.15" fill="#45302a"/>
<line x1="122.5" y1="223.2" x2="122.5" y2="204.8" stroke="#975a40" stroke-width="0.8"/>
<circle cx="122.5" cy="204.8" r="1.15" fill="#45302a"/>
<line x1="124.5" y1="223.2" x2="124.5" y2="206.4" stroke="#975a40" stroke-width="0.8"/>
<circle cx="124.5" cy="206.4" r="1.15" fill="#45302a"/>
<line x1="142.5" y1="223.2" x2="142.5" y2="207.1" stroke="#975a40" stroke-width="0.8"/>
<circle cx="142.5" cy="207.1" r="1.15" fill="#45302a"/>
<line x1="146.5" y1="223.2" x2="146.5" y2="205.7" stroke="#975a40" stroke-width="0.8"/>
<circle cx="146.5" cy="205.7" r="1.15" fill="#45302a"/>
<line x1="153.5" y1="223.2" x2="153.5" y2="187.4" stroke="#975a40" stroke-width="0.8"/>
<circle cx="153.5" cy="187.4" r="1.15" fill="#45302a"/>
<line x1="152.5" y1="223.2" x2="152.5" y2="205.7" stroke="#975a40" stroke-width="0.8"/>
<circle cx="152.5" cy="205.7" r="1.15" fill="#45302a"/>
<line x1="157.5" y1="223.2" x2="157.5" y2="240.6" stroke="#975a40" stroke-width="0.8"/>
<circle cx="157.5" cy="240.6" r="1.15" fill="#45302a"/>
<line x1="171.5" y1="223.2" x2="171.5" y2="190.8" stroke="#975a40" stroke-width="0.8"/>
<circle cx="171.5" cy="190.8" r="1.15" fill="#45302a"/>
<line x1="134.5" y1="223.2" x2="134.5" y2="237.7" stroke="#975a40" stroke-width="0.8"/>
<circle cx="134.5" cy="237.7" r="1.15" fill="#45302a"/>
<line x1="74.5" y1="223.2" x2="74.5" y2="206.4" stroke="#975a40" stroke-width="0.8"/>
<circle cx="74.5" cy="206.4" r="1.15" fill="#45302a"/>
<line x1="54.5" y1="223.2" x2="54.5" y2="246.6" stroke="#975a40" stroke-width="0.8"/>
<circle cx="54.5" cy="246.6" r="1.15" fill="#45302a"/>
<line x1="59.5" y1="223.2" x2="59.5" y2="241.5" stroke="#975a40" stroke-width="0.8"/>
<circle cx="59.5" cy="241.5" r="1.15" fill="#45302a"/>
<line x1="67.5" y1="223.2" x2="67.5" y2="242.1" stroke="#975a40" stroke-width="0.8"/>
<circle cx="67.5" cy="242.1" r="1.15" fill="#45302a"/>
<line x1="72.5" y1="223.2" x2="72.5" y2="242.0" stroke="#975a40" stroke-width="0.8"/>
<circle cx="72.5" cy="242.0" r="1.15" fill="#45302a"/>
<line x1="73.5" y1="223.2" x2="73.5" y2="242.0" stroke="#975a40" stroke-width="0.8"/>
<circle cx="73.5" cy="242.0" r="1.15" fill="#45302a"/>
<line x1="184.9" y1="150.1" x2="184.9" y2="246.9" stroke="#6468d0" stroke-width="0.7" stroke-dasharray="1.1 0.5"/>
<line x1="189.8" y1="150.1" x2="189.8" y2="246.9" stroke="#6468d0" stroke-width="0.7" stroke-dasharray="1.1 0.5"/>
</g>
<rect x="19.5" y="145.2" width="178.5" height="106.2" fill="none" stroke="#555" stroke-width="0.6"/>
<line x1="17.9" y1="156.9" x2="19.5" y2="156.9" stroke="#333" stroke-width="0.6"/>
<text x="17.9" y="158.7" text-anchor="end" font-size="3.6" class="tk">1.0</text>
<line x1="17.9" y1="170.2" x2="19.5" y2="170.2" stroke="#333" stroke-width="0.6"/>
<text x="17.9" y="172.0" text-anchor="end" font-size="3.6" class="tk">0.8</text>
<line x1="17.9" y1="183.4" x2="19.5" y2="183.4" stroke="#333" stroke-width="0.6"/>
<text x="17.9" y="185.2" text-anchor="end" font-size="3.6" class="tk">0.6</text>
<line x1="17.9" y1="196.7" x2="19.5" y2="196.7" stroke="#333" stroke-width="0.6"/>
<text x="17.9" y="198.5" text-anchor="end" font-size="3.6" class="tk">0.4</text>
<line x1="17.9" y1="209.9" x2="19.5" y2="209.9" stroke="#333" stroke-width="0.6"/>
<text x="17.9" y="211.7" text-anchor="end" font-size="3.6" class="tk">0.2</text>
<line x1="17.9" y1="223.2" x2="19.5" y2="223.2" stroke="#333" stroke-width="0.6"/>
<text x="17.9" y="225.0" text-anchor="end" font-size="3.6" class="tk">0.0</text>
<line x1="17.9" y1="236.5" x2="19.5" y2="236.5" stroke="#333" stroke-width="0.6"/>
<text x="17.9" y="238.3" text-anchor="end" font-size="3.6" class="tk">−0.2</text>
<line x1="17.9" y1="249.7" x2="19.5" y2="249.7" stroke="#333" stroke-width="0.6"/>
<text x="17.9" y="251.5" text-anchor="end" font-size="3.6" class="tk">−0.4</text>
<line x1="26.8" y1="251.4" x2="26.8" y2="252.7" stroke="#555" stroke-width="0.5"/>
<text transform="translate(28.0,254.3) rotate(-90)" text-anchor="end" font-size="3.4" class="xt">06:00</text>
<line x1="32.8" y1="251.4" x2="32.8" y2="252.7" stroke="#555" stroke-width="0.5"/>
<text transform="translate(34.0,254.3) rotate(-90)" text-anchor="end" font-size="3.4" class="xt">06:00</text>
<line x1="34.6" y1="251.4" x2="34.6" y2="252.7" stroke="#555" stroke-width="0.5"/>
<text transform="translate(35.8,254.3) rotate(-90)" text-anchor="end" font-size="3.4" class="xt">06:00</text>
<line x1="38.7" y1="251.4" x2="38.7" y2="252.7" stroke="#555" stroke-width="0.5"/>
<text transform="translate(39.9,254.3) rotate(-90)" text-anchor="end" font-size="3.4" class="xt">06:00</text>
<line x1="45.4" y1="251.4" x2="45.4" y2="252.7" stroke="#555" stroke-width="0.5"/>
<text transform="translate(46.6,254.3) rotate(-90)" text-anchor="end" font-size="3.4" class="xt">06:00</text>
<line x1="52.0" y1="251.4" x2="52.0" y2="252.7" stroke="#555" stroke-width="0.5"/>
<text transform="translate(53.2,254.3) rotate(-90)" text-anchor="end" font-size="3.4" class="xt">06:00</text>
<line x1="59.2" y1="251.4" x2="59.2" y2="252.7" stroke="#555" stroke-width="0.5"/>
<text transform="translate(60.4,254.3) rotate(-90)" text-anchor="end" font-size="3.4" class="xt">06:00</text>
<line x1="68.6" y1="251.4" x2="68.6" y2="252.7" stroke="#555" stroke-width="0.5"/>
<text transform="translate(69.8,254.3) rotate(-90)" text-anchor="end" font-size="3.4" class="xt">06:00</text>
<line x1="76.6" y1="251.4" x2="76.6" y2="252.7" stroke="#555" stroke-width="0.5"/>
<text transform="translate(77.8,254.3) rotate(-90)" text-anchor="end" font-size="3.4" class="xt">06:00</text>
<line x1="83.8" y1="251.4" x2="83.8" y2="252.7" stroke="#555" stroke-width="0.5"/>
<text transform="translate(85.0,254.3) rotate(-90)" text-anchor="end" font-size="3.4" class="xt">06:00</text>
<line x1="90.5" y1="251.4" x2="90.5" y2="252.7" stroke="#555" stroke-width="0.5"/>
<text transform="translate(91.7,254.3) rotate(-90)" text-anchor="end" font-size="3.4" class="xt">06:00</text>
<line x1="97.2" y1="251.4" x2="97.2" y2="252.7" stroke="#555" stroke-width="0.5"/>
<text transform="translate(98.4,254.3) rotate(-90)" text-anchor="end" font-size="3.4" class="xt">06:00</text>
<line x1="102.7" y1="251.4" x2="102.7" y2="252.7" stroke="#555" stroke-width="0.5"/>
<text transform="translate(103.9,254.3) rotate(-90)" text-anchor="end" font-size="3.4" class="xt">06:00</text>
<line x1="105.0" y1="251.4" x2="105.0" y2="252.7" stroke="#555" stroke-width="0.5"/>
<text transform="translate(106.2,254.3) rotate(-90)" text-anchor="end" font-size="3.4" class="xt">06:00</text>
<line x1="111.7" y1="251.4" x2="111.7" y2="252.7" stroke="#555" stroke-width="0.5"/>
<text transform="translate(112.9,254.3) rotate(-90)" text-anchor="end" font-size="3.4" class="xt">06:00</text>
<line x1="115.7" y1="251.4" x2="115.7" y2="252.7" stroke="#555" stroke-width="0.5"/>
<text transform="translate(116.9,254.3) rotate(-90)" text-anchor="end" font-size="3.4" class="xt">06:00</text>
<line x1="119.7" y1="251.4" x2="119.7" y2="252.7" stroke="#555" stroke-width="0.5"/>
<text transform="translate(120.9,254.3) rotate(-90)" text-anchor="end" font-size="3.4" class="xt">06:00</text>
<line x1="123.5" y1="251.4" x2="123.5" y2="252.7" stroke="#555" stroke-width="0.5"/>
<text transform="translate(124.7,254.3) rotate(-90)" text-anchor="end" font-size="3.4" class="xt">06:00</text>
<line x1="130.2" y1="251.4" x2="130.2" y2="252.7" stroke="#555" stroke-width="0.5"/>
<text transform="translate(131.4,254.3) rotate(-90)" text-anchor="end" font-size="3.4" class="xt">06:00</text>
<line x1="138.0" y1="251.4" x2="138.0" y2="252.7" stroke="#555" stroke-width="0.5"/>
<text transform="translate(139.2,254.3) rotate(-90)" text-anchor="end" font-size="3.4" class="xt">06:00</text>
<line x1="147.0" y1="251.4" x2="147.0" y2="252.7" stroke="#555" stroke-width="0.5"/>
<text transform="translate(148.2,254.3) rotate(-90)" text-anchor="end" font-size="3.4" class="xt">06:00</text>
<line x1="157.7" y1="251.4" x2="157.7" y2="252.7" stroke="#555" stroke-width="0.5"/>
<text transform="translate(158.9,254.3) rotate(-90)" text-anchor="end" font-size="3.4" class="xt">06:00</text>
<line x1="168.8" y1="251.4" x2="168.8" y2="252.7" stroke="#555" stroke-width="0.5"/>
<text transform="translate(170.0,254.3) rotate(-90)" text-anchor="end" font-size="3.4" class="xt">06:00</text>
<line x1="177.8" y1="251.4" x2="177.8" y2="252.7" stroke="#555" stroke-width="0.5"/>
<text transform="translate(179.0,254.3) rotate(-90)" text-anchor="end" font-size="3.4" class="xt">06:00</text>
<line x1="184.9" y1="251.4" x2="184.9" y2="252.7" stroke="#555" stroke-width="0.5"/>
<text transform="translate(186.1,254.3) rotate(-90)" text-anchor="end" font-size="3.4" class="xt">06:00:00</text>
<line x1="189.8" y1="251.4" x2="189.8" y2="252.7" stroke="#555" stroke-width="0.5"/>
<text transform="translate(191.0,254.3) rotate(-90)" text-anchor="end" font-size="3.4" class="xt">06:00:00</text>
<text x="108.8" y="143.6" text-anchor="middle" font-size="4.2">AGT_2021-12-9 6:00</text>
<text x="108.8" y="272.2" text-anchor="middle" font-size="3.7">datetime</text>
<text transform="translate(7.7,198.3) rotate(-90)" text-anchor="middle" font-size="3.6">bs_volume</text>
<rect x="151.6" y="146.4" width="45.0" height="10.8" rx="0.8" fill="#fff" fill-opacity="0.82" stroke="#d0d0d0" stroke-width="0.4"/>
<line x1="152.9" y1="149.2" x2="159.6" y2="149.2" stroke="#6468d0" stroke-width="0.6" stroke-dasharray="1.3 0.8"/>
<line x1="152.9" y1="154.2" x2="159.6" y2="154.2" stroke="#d2c050" stroke-width="0.7" stroke-dasharray="1.6 0.9"/>
<text x="161.9" y="151.3" font-size="3.6">2021-12-9 6:00</text>
<text x="161.9" y="155.5" font-size="3.6">anomalous volumes</text>
<clipPath id="c4"><rect x="219.5" y="145.2" width="178.5" height="106.2"/></clipPath>
<g clip-path="url(#c4)">
<rect x="228.6" y="181.0" width="160.3" height="10.0" fill="#e4faf7"/>
<rect x="236.0" y="186.0" width="3.0" height="27.0" fill="#fdf3f3"/>
<rect x="288.5" y="165.0" width="8.5" height="81.4" fill="#fdf6f6"/>
<rect x="272.0" y="172.0" width="2.5" height="14.0" fill="#fdf3f3"/>
<rect x="379.0" y="150.0" width="3.5" height="48.0" fill="#fdf3f3"/>
<line x1="227.6" y1="174.9" x2="389.9" y2="174.9" stroke="#d2c050" stroke-width="0.8" stroke-dasharray="0.9 0.4"/>
<line x1="227.6" y1="196.0" x2="389.9" y2="196.0" stroke="#d2c050" stroke-width="0.8" stroke-dasharray="0.9 0.4"/>
<line x1="227.6" y1="185.6" x2="389.9" y2="185.6" stroke="#32622f" stroke-width="2.2"/>
<path d="M227.5,185.6V183.7M228.1,185.6V181.7M228.6,185.6V185.8M229.6,185.6V184.1M230.3,185.6V185.1M230.6,185.6V184.8M231.4,185.6V184.9M232.3,185.6V185.2M232.5,185.6V185.3M233.1,185.6V186.0M234.0,185.6V185.6M234.6,185.6V185.3M235.3,185.6V184.9M235.7,185.6V183.8M236.3,185.6V185.8M237.3,185.6V185.1M237.9,185.6V183.6M238.1,185.6V181.6M238.9,185.6V184.8M239.5,185.6V185.3M240.0,185.6V186.1M241.1,185.6V186.1M241.5,185.6V185.1M242.2,185.6V190.4M242.4,185.6V186.6M243.3,185.6V186.1M244.1,185.6V186.0M244.8,185.6V185.6M245.4,185.6V185.6M246.0,185.6V183.8M246.4,185.6V184.9M247.0,185.6V186.1M247.4,185.6V186.0M248.2,185.6V186.0M248.9,185.6V185.4M249.7,185.6V186.9M250.1,185.6V186.3M250.8,185.6V185.8M251.5,185.6V186.7M252.3,185.6V185.5M252.4,185.6V187.8M253.0,185.6V185.1M253.9,185.6V184.6M254.6,185.6V184.5M255.4,185.6V184.9M255.6,185.6V185.6M256.3,185.6V187.1M256.9,185.6V185.7M257.4,185.6V189.1M258.2,185.6V186.3M258.7,185.6V185.3M259.8,185.6V185.3M260.3,185.6V185.5M260.6,185.6V185.9M261.2,185.6V187.2M262.3,185.6V187.0M262.6,185.6V184.9M263.6,185.6V186.3M264.1,185.6V185.7M264.6,185.6V185.0M265.4,185.6V184.8M265.9,185.6V185.7M266.7,185.6V185.1M267.1,185.6V185.7M267.5,185.6V187.0M268.2,185.6V184.5M268.8,185.6V186.8M269.3,185.6V185.6M270.2,185.6V187.3M270.9,185.6V185.8M271.5,185.6V186.6M272.1,185.6V181.5M272.9,185.6V184.8M273.1,185.6V186.8M274.0,185.6V186.0M274.4,185.6V185.5M275.5,185.6V184.7M275.6,185.6V190.2M276.5,185.6V186.4M277.3,185.6V185.3M277.4,185.6V185.8M278.4,185.6V185.6M279.2,185.6V185.8M279.6,185.6V184.2M280.2,185.6V186.8M281.1,185.6V185.0M281.5,185.6V186.5M281.9,185.6V186.4M282.6,185.6V185.8M283.1,185.6V187.4M284.1,185.6V189.1M284.3,185.6V185.7M285.1,185.6V184.6M285.8,185.6V189.3M286.5,185.6V185.5M287.1,185.6V186.6M287.8,185.6V186.2M288.5,185.6V186.1M289.0,185.6V185.6M289.5,185.6V185.8M290.3,185.6V186.1M290.6,185.6V185.1M291.5,185.6V183.3M292.2,185.6V186.0M292.8,185.6V186.4M293.3,185.6V188.3M294.0,185.6V184.2M294.6,185.6V188.3M295.0,185.6V187.5M295.6,185.6V186.7M296.6,185.6V184.1M297.4,185.6V182.5M297.9,185.6V185.8M298.2,185.6V185.5M299.3,185.6V185.6M299.8,185.6V185.5M300.1,185.6V185.7M300.8,185.6V185.8M301.4,185.6V182.8M302.3,185.6V185.3M303.0,185.6V185.3M303.3,185.6V185.0M303.8,185.6V185.1M304.6,185.6V186.7M305.1,185.6V186.1M306.2,185.6V185.0M306.8,185.6V186.1M307.4,185.6V186.6M307.8,185.6V186.2M308.6,185.6V182.8M309.1,185.6V184.0M309.5,185.6V187.1M310.6,185.6V182.8M310.9,185.6V185.3M311.8,185.6V186.3M312.4,185.6V185.5M313.1,185.6V185.8M313.7,185.6V185.7M314.0,185.6V185.2M314.6,185.6V184.6M315.1,185.6V184.9M315.8,185.6V181.7M316.7,185.6V187.4M317.2,185.6V185.9M317.6,185.6V185.9M318.7,185.6V185.9M319.3,185.6V188.1M319.5,185.6V186.3M320.4,185.6V186.1M321.1,185.6V183.6M321.8,185.6V184.5M322.5,185.6V184.7M322.6,185.6V185.4M323.3,185.6V186.6M324.2,185.6V185.0M324.6,185.6V187.1M325.4,185.6V187.5M326.1,185.6V185.0M326.7,185.6V185.1M327.2,185.6V185.0M327.8,185.6V186.3M328.7,185.6V190.0M329.1,185.6V185.2M329.5,185.6V183.5M330.1,185.6V186.4M331.3,185.6V185.7M331.6,185.6V184.7M332.3,185.6V185.1M333.1,185.6V186.0M333.2,185.6V184.7M334.1,185.6V183.5M334.7,185.6V185.8M335.5,185.6V185.3M336.2,185.6V184.1M336.4,185.6V185.7M337.3,185.6V186.1M338.0,185.6V188.5M338.7,185.6V185.1M339.1,185.6V186.3M340.0,185.6V184.5M340.4,185.6V185.9M341.1,185.6V185.8M341.5,185.6V186.9M342.0,185.6V182.8M342.6,185.6V186.1M343.8,185.6V183.8M344.3,185.6V185.2M344.7,185.6V187.1M345.6,185.6V185.8M346.2,185.6V185.2M346.6,185.6V186.5M347.3,185.6V187.1M347.7,185.6V182.3M348.6,185.6V185.7M349.3,185.6V186.5M349.6,185.6V185.6M350.2,185.6V185.6M351.1,185.6V186.6M351.8,185.6V186.4M352.3,185.6V180.9M352.8,185.6V186.8M353.4,185.6V186.2M354.0,185.6V187.1M354.5,185.6V185.4M355.5,185.6V184.7M355.8,185.6V184.9M356.7,185.6V188.4M357.5,185.6V187.0M358.1,185.6V180.6M358.5,185.6V185.5M359.0,185.6V185.9M359.8,185.6V184.2M360.3,185.6V184.1M360.9,185.6V186.0M361.9,185.6V183.5M362.1,185.6V185.7M362.7,185.6V184.5M363.7,185.6V185.6M364.1,185.6V185.4M364.8,185.6V185.1M365.7,185.6V185.1M365.8,185.6V185.6M366.5,185.6V185.9M367.3,185.6V184.7M367.7,185.6V186.6M368.6,185.6V185.2M369.2,185.6V185.3M369.7,185.6V182.5M370.2,185.6V186.1M371.0,185.6V186.1M371.5,185.6V184.4M372.6,185.6V187.2M372.7,185.6V184.8M373.6,185.6V184.9M374.4,185.6V185.0M374.6,185.6V185.5M375.3,185.6V184.6M376.3,185.6V185.0M376.5,185.6V186.5M377.2,185.6V186.0M378.1,185.6V189.7M378.6,185.6V186.3M379.0,185.6V185.6M379.8,185.6V181.8M380.4,185.6V185.5M381.4,185.6V184.5M381.7,185.6V185.4M382.3,185.6V183.7M383.0,185.6V186.0M383.4,185.6V185.1M384.4,185.6V190.2M384.7,185.6V185.1M385.5,185.6V185.0M385.9,185.6V185.4M386.8,185.6V184.8M387.4,185.6V183.8M388.2,185.6V186.0M388.5,185.6V185.1M389.5,185.6V186.5M389.6,185.6V190.3" fill="none" stroke="#5a7a55" stroke-width="0.45"/>
<path d="M227.5,183.7L228.1,181.7L228.6,185.8L229.6,184.1L230.3,185.1L230.6,184.8L231.4,184.9L232.3,185.2L232.5,185.3L233.1,186.0L234.0,185.6L234.6,185.3L235.3,184.9L235.7,183.8L236.3,185.8L237.3,185.1L237.9,183.6L238.1,181.6L238.9,184.8L239.5,185.3L240.0,186.1L241.1,186.1L241.5,185.1L242.2,190.4L242.4,186.6L243.3,186.1L244.1,186.0L244.8,185.6L245.4,185.6L246.0,183.8L246.4,184.9L247.0,186.1L247.4,186.0L248.2,186.0L248.9,185.4L249.7,186.9L250.1,186.3L250.8,185.8L251.5,186.7L252.3,185.5L252.4,187.8L253.0,185.1L253.9,184.6L254.6,184.5L255.4,184.9L255.6,185.6L256.3,187.1L256.9,185.7L257.4,189.1L258.2,186.3L258.7,185.3L259.8,185.3L260.3,185.5L260.6,185.9L261.2,187.2L262.3,187.0L262.6,184.9L263.6,186.3L264.1,185.7L264.6,185.0L265.4,184.8L265.9,185.7L266.7,185.1L267.1,185.7L267.5,187.0L268.2,184.5L268.8,186.8L269.3,185.6L270.2,187.3L270.9,185.8L271.5,186.6L272.1,181.5L272.9,184.8L273.1,186.8L274.0,186.0L274.4,185.5L275.5,184.7L275.6,190.2L276.5,186.4L277.3,185.3L277.4,185.8L278.4,185.6L279.2,185.8L279.6,184.2L280.2,186.8L281.1,185.0L281.5,186.5L281.9,186.4L282.6,185.8L283.1,187.4L284.1,189.1L284.3,185.7L285.1,184.6L285.8,189.3L286.5,185.5L287.1,186.6L287.8,186.2L288.5,186.1L289.0,185.6L289.5,185.8L290.3,186.1L290.6,185.1L291.5,183.3L292.2,186.0L292.8,186.4L293.3,188.3L294.0,184.2L294.6,188.3L295.0,187.5L295.6,186.7L296.6,184.1L297.4,182.5L297.9,185.8L298.2,185.5L299.3,185.6L299.8,185.5L300.1,185.7L300.8,185.8L301.4,182.8L302.3,185.3L303.0,185.3L303.3,185.0L303.8,185.1L304.6,186.7L305.1,186.1L306.2,185.0L306.8,186.1L307.4,186.6L307.8,186.2L308.6,182.8L309.1,184.0L309.5,187.1L310.6,182.8L310.9,185.3L311.8,186.3L312.4,185.5L313.1,185.8L313.7,185.7L314.0,185.2L314.6,184.6L315.1,184.9L315.8,181.7L316.7,187.4L317.2,185.9L317.6,185.9L318.7,185.9L319.3,188.1L319.5,186.3L320.4,186.1L321.1,183.6L321.8,184.5L322.5,184.7L322.6,185.4L323.3,186.6L324.2,185.0L324.6,187.1L325.4,187.5L326.1,185.0L326.7,185.1L327.2,185.0L327.8,186.3L328.7,190.0L329.1,185.2L329.5,183.5L330.1,186.4L331.3,185.7L331.6,184.7L332.3,185.1L333.1,186.0L333.2,184.7L334.1,183.5L334.7,185.8L335.5,185.3L336.2,184.1L336.4,185.7L337.3,186.1L338.0,188.5L338.7,185.1L339.1,186.3L340.0,184.5L340.4,185.9L341.1,185.8L341.5,186.9L342.0,182.8L342.6,186.1L343.8,183.8L344.3,185.2L344.7,187.1L345.6,185.8L346.2,185.2L346.6,186.5L347.3,187.1L347.7,182.3L348.6,185.7L349.3,186.5L349.6,185.6L350.2,185.6L351.1,186.6L351.8,186.4L352.3,180.9L352.8,186.8L353.4,186.2L354.0,187.1L354.5,185.4L355.5,184.7L355.8,184.9L356.7,188.4L357.5,187.0L358.1,180.6L358.5,185.5L359.0,185.9L359.8,184.2L360.3,184.1L360.9,186.0L361.9,183.5L362.1,185.7L362.7,184.5L363.7,185.6L364.1,185.4L364.8,185.1L365.7,185.1L365.8,185.6L366.5,185.9L367.3,184.7L367.7,186.6L368.6,185.2L369.2,185.3L369.7,182.5L370.2,186.1L371.0,186.1L371.5,184.4L372.6,187.2L372.7,184.8L373.6,184.9L374.4,185.0L374.6,185.5L375.3,184.6L376.3,185.0L376.5,186.5L377.2,186.0L378.1,189.7L378.6,186.3L379.0,185.6L379.8,181.8L380.4,185.5L381.4,184.5L381.7,185.4L382.3,183.7L383.0,186.0L383.4,185.1L384.4,190.2L384.7,185.1L385.5,185.0L385.9,185.4L386.8,184.8L387.4,183.8L388.2,186.0L388.5,185.1L389.5,186.5L389.6,190.3" fill="none" stroke="#2e7a34" stroke-width="0.5" stroke-linejoin="round"/>
<g fill="#2e6e38"><circle cx="227.5" cy="183.7" r="1.1"/><circle cx="228.1" cy="181.7" r="1.1"/><circle cx="228.6" cy="185.8" r="1.1"/><circle cx="229.6" cy="184.1" r="1.1"/><circle cx="230.3" cy="185.1" r="1.1"/><circle cx="230.6" cy="184.8" r="1.1"/><circle cx="231.4" cy="184.9" r="1.1"/><circle cx="232.3" cy="185.2" r="1.1"/><circle cx="232.5" cy="185.3" r="1.1"/><circle cx="233.1" cy="186.0" r="1.1"/><circle cx="234.0" cy="185.6" r="1.1"/><circle cx="234.6" cy="185.3" r="1.1"/><circle cx="235.3" cy="184.9" r="1.1"/><circle cx="235.7" cy="183.8" r="1.1"/><circle cx="236.3" cy="185.8" r="1.1"/><circle cx="237.3" cy="185.1" r="1.1"/><circle cx="237.9" cy="183.6" r="1.1"/><circle cx="238.1" cy="181.6" r="1.1"/><circle cx="238.9" cy="184.8" r="1.1"/><circle cx="239.5" cy="185.3" r="1.1"/><circle cx="240.0" cy="186.1" r="1.1"/><circle cx="241.1" cy="186.1" r="1.1"/><circle cx="241.5" cy="185.1" r="1.1"/><circle cx="242.2" cy="190.4" r="1.1"/><circle cx="242.4" cy="186.6" r="1.1"/><circle cx="243.3" cy="186.1" r="1.1"/><circle cx="244.1" cy="186.0" r="1.1"/><circle cx="244.8" cy="185.6" r="1.1"/><circle cx="245.4" cy="185.6" r="1.1"/><circle cx="246.0" cy="183.8" r="1.1"/><circle cx="246.4" cy="184.9" r="1.1"/><circle cx="247.0" cy="186.1" r="1.1"/><circle cx="247.4" cy="186.0" r="1.1"/><circle cx="248.2" cy="186.0" r="1.1"/><circle cx="248.9" cy="185.4" r="1.1"/><circle cx="249.7" cy="186.9" r="1.1"/><circle cx="250.1" cy="186.3" r="1.1"/><circle cx="250.8" cy="185.8" r="1.1"/><circle cx="251.5" cy="186.7" r="1.1"/><circle cx="252.3" cy="185.5" r="1.1"/><circle cx="252.4" cy="187.8" r="1.1"/><circle cx="253.0" cy="185.1" r="1.1"/><circle cx="253.9" cy="184.6" r="1.1"/><circle cx="254.6" cy="184.5" r="1.1"/><circle cx="255.4" cy="184.9" r="1.1"/><circle cx="255.6" cy="185.6" r="1.1"/><circle cx="256.3" cy="187.1" r="1.1"/><circle cx="256.9" cy="185.7" r="1.1"/><circle cx="257.4" cy="189.1" r="1.1"/><circle cx="258.2" cy="186.3" r="1.1"/><circle cx="258.7" cy="185.3" r="1.1"/><circle cx="259.8" cy="185.3" r="1.1"/><circle cx="260.3" cy="185.5" r="1.1"/><circle cx="260.6" cy="185.9" r="1.1"/><circle cx="261.2" cy="187.2" r="1.1"/><circle cx="262.3" cy="187.0" r="1.1"/><circle cx="262.6" cy="184.9" r="1.1"/><circle cx="263.6" cy="186.3" r="1.1"/><circle cx="264.1" cy="185.7" r="1.1"/><circle cx="264.6" cy="185.0" r="1.1"/><circle cx="265.4" cy="184.8" r="1.1"/><circle cx="265.9" cy="185.7" r="1.1"/><circle cx="266.7" cy="185.1" r="1.1"/><circle cx="267.1" cy="185.7" r="1.1"/><circle cx="267.5" cy="187.0" r="1.1"/><circle cx="268.2" cy="184.5" r="1.1"/><circle cx="268.8" cy="186.8" r="1.1"/><circle cx="269.3" cy="185.6" r="1.1"/><circle cx="270.2" cy="187.3" r="1.1"/><circle cx="270.9" cy="185.8" r="1.1"/><circle cx="271.5" cy="186.6" r="1.1"/><circle cx="272.1" cy="181.5" r="1.1"/><circle cx="272.9" cy="184.8" r="1.1"/><circle cx="273.1" cy="186.8" r="1.1"/><circle cx="274.0" cy="186.0" r="1.1"/><circle cx="274.4" cy="185.5" r="1.1"/><circle cx="275.5" cy="184.7" r="1.1"/><circle cx="275.6" cy="190.2" r="1.1"/><circle cx="276.5" cy="186.4" r="1.1"/><circle cx="277.3" cy="185.3" r="1.1"/><circle cx="277.4" cy="185.8" r="1.1"/><circle cx="278.4" cy="185.6" r="1.1"/><circle cx="279.2" cy="185.8" r="1.1"/><circle cx="279.6" cy="184.2" r="1.1"/><circle cx="280.2" cy="186.8" r="1.1"/><circle cx="281.1" cy="185.0" r="1.1"/><circle cx="281.5" cy="186.5" r="1.1"/><circle cx="281.9" cy="186.4" r="1.1"/><circle cx="282.6" cy="185.8" r="1.1"/><circle cx="283.1" cy="187.4" r="1.1"/><circle cx="284.1" cy="189.1" r="1.1"/><circle cx="284.3" cy="185.7" r="1.1"/><circle cx="285.1" cy="184.6" r="1.1"/><circle cx="285.8" cy="189.3" r="1.1"/><circle cx="286.5" cy="185.5" r="1.1"/><circle cx="287.1" cy="186.6" r="1.1"/><circle cx="287.8" cy="186.2" r="1.1"/><circle cx="288.5" cy="186.1" r="1.1"/><circle cx="289.0" cy="185.6" r="1.1"/><circle cx="289.5" cy="185.8" r="1.1"/><circle cx="290.3" cy="186.1" r="1.1"/><circle cx="290.6" cy="185.1" r="1.1"/><circle cx="291.5" cy="183.3" r="1.1"/><circle cx="292.2" cy="186.0" r="1.1"/><circle cx="292.8" cy="186.4" r="1.1"/><circle cx="293.3" cy="188.3" r="1.1"/><circle cx="294.0" cy="184.2" r="1.1"/><circle cx="294.6" cy="188.3" r="1.1"/><circle cx="295.0" cy="187.5" r="1.1"/><circle cx="295.6" cy="186.7" r="1.1"/><circle cx="296.6" cy="184.1" r="1.1"/><circle cx="297.4" cy="182.5" r="1.1"/><circle cx="297.9" cy="185.8" r="1.1"/><circle cx="298.2" cy="185.5" r="1.1"/><circle cx="299.3" cy="185.6" r="1.1"/><circle cx="299.8" cy="185.5" r="1.1"/><circle cx="300.1" cy="185.7" r="1.1"/><circle cx="300.8" cy="185.8" r="1.1"/><circle cx="301.4" cy="182.8" r="1.1"/><circle cx="302.3" cy="185.3" r="1.1"/><circle cx="303.0" cy="185.3" r="1.1"/><circle cx="303.3" cy="185.0" r="1.1"/><circle cx="303.8" cy="185.1" r="1.1"/><circle cx="304.6" cy="186.7" r="1.1"/><circle cx="305.1" cy="186.1" r="1.1"/><circle cx="306.2" cy="185.0" r="1.1"/><circle cx="306.8" cy="186.1" r="1.1"/><circle cx="307.4" cy="186.6" r="1.1"/><circle cx="307.8" cy="186.2" r="1.1"/><circle cx="308.6" cy="182.8" r="1.1"/><circle cx="309.1" cy="184.0" r="1.1"/><circle cx="309.5" cy="187.1" r="1.1"/><circle cx="310.6" cy="182.8" r="1.1"/><circle cx="310.9" cy="185.3" r="1.1"/><circle cx="311.8" cy="186.3" r="1.1"/><circle cx="312.4" cy="185.5" r="1.1"/><circle cx="313.1" cy="185.8" r="1.1"/><circle cx="313.7" cy="185.7" r="1.1"/><circle cx="314.0" cy="185.2" r="1.1"/><circle cx="314.6" cy="184.6" r="1.1"/><circle cx="315.1" cy="184.9" r="1.1"/><circle cx="315.8" cy="181.7" r="1.1"/><circle cx="316.7" cy="187.4" r="1.1"/><circle cx="317.2" cy="185.9" r="1.1"/><circle cx="317.6" cy="185.9" r="1.1"/><circle cx="318.7" cy="185.9" r="1.1"/><circle cx="319.3" cy="188.1" r="1.1"/><circle cx="319.5" cy="186.3" r="1.1"/><circle cx="320.4" cy="186.1" r="1.1"/><circle cx="321.1" cy="183.6" r="1.1"/><circle cx="321.8" cy="184.5" r="1.1"/><circle cx="322.5" cy="184.7" r="1.1"/><circle cx="322.6" cy="185.4" r="1.1"/><circle cx="323.3" cy="186.6" r="1.1"/><circle cx="324.2" cy="185.0" r="1.1"/><circle cx="324.6" cy="187.1" r="1.1"/><circle cx="325.4" cy="187.5" r="1.1"/><circle cx="326.1" cy="185.0" r="1.1"/><circle cx="326.7" cy="185.1" r="1.1"/><circle cx="327.2" cy="185.0" r="1.1"/><circle cx="327.8" cy="186.3" r="1.1"/><circle cx="328.7" cy="190.0" r="1.1"/><circle cx="329.1" cy="185.2" r="1.1"/><circle cx="329.5" cy="183.5" r="1.1"/><circle cx="330.1" cy="186.4" r="1.1"/><circle cx="331.3" cy="185.7" r="1.1"/><circle cx="331.6" cy="184.7" r="1.1"/><circle cx="332.3" cy="185.1" r="1.1"/><circle cx="333.1" cy="186.0" r="1.1"/><circle cx="333.2" cy="184.7" r="1.1"/><circle cx="334.1" cy="183.5" r="1.1"/><circle cx="334.7" cy="185.8" r="1.1"/><circle cx="335.5" cy="185.3" r="1.1"/><circle cx="336.2" cy="184.1" r="1.1"/><circle cx="336.4" cy="185.7" r="1.1"/><circle cx="337.3" cy="186.1" r="1.1"/><circle cx="338.0" cy="188.5" r="1.1"/><circle cx="338.7" cy="185.1" r="1.1"/><circle cx="339.1" cy="186.3" r="1.1"/><circle cx="340.0" cy="184.5" r="1.1"/><circle cx="340.4" cy="185.9" r="1.1"/><circle cx="341.1" cy="185.8" r="1.1"/><circle cx="341.5" cy="186.9" r="1.1"/><circle cx="342.0" cy="182.8" r="1.1"/><circle cx="342.6" cy="186.1" r="1.1"/><circle cx="343.8" cy="183.8" r="1.1"/><circle cx="344.3" cy="185.2" r="1.1"/><circle cx="344.7" cy="187.1" r="1.1"/><circle cx="345.6" cy="185.8" r="1.1"/><circle cx="346.2" cy="185.2" r="1.1"/><circle cx="346.6" cy="186.5" r="1.1"/><circle cx="347.3" cy="187.1" r="1.1"/><circle cx="347.7" cy="182.3" r="1.1"/><circle cx="348.6" cy="185.7" r="1.1"/><circle cx="349.3" cy="186.5" r="1.1"/><circle cx="349.6" cy="185.6" r="1.1"/><circle cx="350.2" cy="185.6" r="1.1"/><circle cx="351.1" cy="186.6" r="1.1"/><circle cx="351.8" cy="186.4" r="1.1"/><circle cx="352.3" cy="180.9" r="1.1"/><circle cx="352.8" cy="186.8" r="1.1"/><circle cx="353.4" cy="186.2" r="1.1"/><circle cx="354.0" cy="187.1" r="1.1"/><circle cx="354.5" cy="185.4" r="1.1"/><circle cx="355.5" cy="184.7" r="1.1"/><circle cx="355.8" cy="184.9" r="1.1"/><circle cx="356.7" cy="188.4" r="1.1"/><circle cx="357.5" cy="187.0" r="1.1"/><circle cx="358.1" cy="180.6" r="1.1"/><circle cx="358.5" cy="185.5" r="1.1"/><circle cx="359.0" cy="185.9" r="1.1"/><circle cx="359.8" cy="184.2" r="1.1"/><circle cx="360.3" cy="184.1" r="1.1"/><circle cx="360.9" cy="186.0" r="1.1"/><circle cx="361.9" cy="183.5" r="1.1"/><circle cx="362.1" cy="185.7" r="1.1"/><circle cx="362.7" cy="184.5" r="1.1"/><circle cx="363.7" cy="185.6" r="1.1"/><circle cx="364.1" cy="185.4" r="1.1"/><circle cx="364.8" cy="185.1" r="1.1"/><circle cx="365.7" cy="185.1" r="1.1"/><circle cx="365.8" cy="185.6" r="1.1"/><circle cx="366.5" cy="185.9" r="1.1"/><circle cx="367.3" cy="184.7" r="1.1"/><circle cx="367.7" cy="186.6" r="1.1"/><circle cx="368.6" cy="185.2" r="1.1"/><circle cx="369.2" cy="185.3" r="1.1"/><circle cx="369.7" cy="182.5" r="1.1"/><circle cx="370.2" cy="186.1" r="1.1"/><circle cx="371.0" cy="186.1" r="1.1"/><circle cx="371.5" cy="184.4" r="1.1"/><circle cx="372.6" cy="187.2" r="1.1"/><circle cx="372.7" cy="184.8" r="1.1"/><circle cx="373.6" cy="184.9" r="1.1"/><circle cx="374.4" cy="185.0" r="1.1"/><circle cx="374.6" cy="185.5" r="1.1"/><circle cx="375.3" cy="184.6" r="1.1"/><circle cx="376.3" cy="185.0" r="1.1"/><circle cx="376.5" cy="186.5" r="1.1"/><circle cx="377.2" cy="186.0" r="1.1"/><circle cx="378.1" cy="189.7" r="1.1"/><circle cx="378.6" cy="186.3" r="1.1"/><circle cx="379.0" cy="185.6" r="1.1"/><circle cx="379.8" cy="181.8" r="1.1"/><circle cx="380.4" cy="185.5" r="1.1"/><circle cx="381.4" cy="184.5" r="1.1"/><circle cx="381.7" cy="185.4" r="1.1"/><circle cx="382.3" cy="183.7" r="1.1"/><circle cx="383.0" cy="186.0" r="1.1"/><circle cx="383.4" cy="185.1" r="1.1"/><circle cx="384.4" cy="190.2" r="1.1"/><circle cx="384.7" cy="185.1" r="1.1"/><circle cx="385.5" cy="185.0" r="1.1"/><circle cx="385.9" cy="185.4" r="1.1"/><circle cx="386.8" cy="184.8" r="1.1"/><circle cx="387.4" cy="183.8" r="1.1"/><circle cx="388.2" cy="186.0" r="1.1"/><circle cx="388.5" cy="185.1" r="1.1"/><circle cx="389.5" cy="186.5" r="1.1"/><circle cx="389.6" cy="190.3" r="1.1"/></g>
<line x1="237.5" y1="185.6" x2="237.5" y2="175.5" stroke="#7d917a" stroke-width="0.65"/>
<circle cx="237.5" cy="175.5" r="1.15" fill="#3a523a"/>
<line x1="287.5" y1="185.6" x2="287.5" y2="196.0" stroke="#7d917a" stroke-width="0.65"/>
<circle cx="287.5" cy="196.0" r="1.15" fill="#3a523a"/>
<line x1="259.5" y1="185.6" x2="259.5" y2="176.3" stroke="#7d917a" stroke-width="0.65"/>
<circle cx="259.5" cy="176.3" r="1.15" fill="#3a523a"/>
<line x1="266.5" y1="185.6" x2="266.5" y2="176.3" stroke="#7d917a" stroke-width="0.65"/>
<circle cx="266.5" cy="176.3" r="1.15" fill="#3a523a"/>
<line x1="262.5" y1="185.6" x2="262.5" y2="192.7" stroke="#7d917a" stroke-width="0.65"/>
<circle cx="262.5" cy="192.7" r="1.15" fill="#3a523a"/>
<line x1="277.5" y1="185.6" x2="277.5" y2="191.0" stroke="#7d917a" stroke-width="0.65"/>
<circle cx="277.5" cy="191.0" r="1.15" fill="#3a523a"/>
<line x1="304.5" y1="185.6" x2="304.5" y2="193.8" stroke="#7d917a" stroke-width="0.65"/>
<circle cx="304.5" cy="193.8" r="1.15" fill="#3a523a"/>
<line x1="344.5" y1="185.6" x2="344.5" y2="177.0" stroke="#7d917a" stroke-width="0.65"/>
<circle cx="344.5" cy="177.0" r="1.15" fill="#3a523a"/>
<line x1="350.5" y1="185.6" x2="350.5" y2="178.6" stroke="#7d917a" stroke-width="0.65"/>
<circle cx="350.5" cy="178.6" r="1.15" fill="#3a523a"/>
<line x1="354.5" y1="185.6" x2="354.5" y2="181.7" stroke="#7d917a" stroke-width="0.65"/>
<circle cx="354.5" cy="181.7" r="1.15" fill="#3a523a"/>
<line x1="372.5" y1="185.6" x2="372.5" y2="178.6" stroke="#7d917a" stroke-width="0.65"/>
<circle cx="372.5" cy="178.6" r="1.15" fill="#3a523a"/>
<line x1="374.5" y1="185.6" x2="374.5" y2="182.4" stroke="#7d917a" stroke-width="0.65"/>
<circle cx="374.5" cy="182.4" r="1.15" fill="#3a523a"/>
<line x1="304.5" y1="185.6" x2="304.5" y2="193.0" stroke="#7d917a" stroke-width="0.65"/>
<circle cx="304.5" cy="193.0" r="1.15" fill="#3a523a"/>
<line x1="323.5" y1="185.6" x2="323.5" y2="195.0" stroke="#7d917a" stroke-width="0.65"/>
<circle cx="323.5" cy="195.0" r="1.15" fill="#3a523a"/>
<line x1="350.5" y1="185.6" x2="350.5" y2="192.0" stroke="#7d917a" stroke-width="0.65"/>
<circle cx="350.5" cy="192.0" r="1.15" fill="#3a523a"/>
<line x1="359.5" y1="185.6" x2="359.5" y2="192.5" stroke="#7d917a" stroke-width="0.65"/>
<circle cx="359.5" cy="192.5" r="1.15" fill="#3a523a"/>
<line x1="366.5" y1="185.6" x2="366.5" y2="195.7" stroke="#7d917a" stroke-width="0.65"/>
<circle cx="366.5" cy="195.7" r="1.15" fill="#3a523a"/>
<line x1="374.5" y1="185.6" x2="374.5" y2="196.3" stroke="#7d917a" stroke-width="0.65"/>
<circle cx="374.5" cy="196.3" r="1.15" fill="#3a523a"/>
<line x1="380.5" y1="185.6" x2="380.5" y2="189.0" stroke="#7d917a" stroke-width="0.65"/>
<circle cx="380.5" cy="189.0" r="1.15" fill="#3a523a"/>
<line x1="237.5" y1="185.6" x2="237.5" y2="213.1" stroke="#975a40" stroke-width="0.8"/>
<circle cx="237.5" cy="213.1" r="1.15" fill="#45302a"/>
<line x1="273.5" y1="185.6" x2="273.5" y2="172.8" stroke="#975a40" stroke-width="0.8"/>
<circle cx="273.5" cy="172.8" r="1.15" fill="#45302a"/>
<line x1="290.5" y1="185.6" x2="290.5" y2="165.1" stroke="#975a40" stroke-width="0.8"/>
<circle cx="290.5" cy="165.1" r="1.15" fill="#45302a"/>
<line x1="290.5" y1="185.6" x2="290.5" y2="246.4" stroke="#975a40" stroke-width="0.8"/>
<circle cx="290.5" cy="246.4" r="1.15" fill="#45302a"/>
<line x1="295.5" y1="185.6" x2="295.5" y2="168.9" stroke="#975a40" stroke-width="0.8"/>
<circle cx="295.5" cy="168.9" r="1.15" fill="#45302a"/>
<line x1="380.5" y1="185.6" x2="380.5" y2="150.2" stroke="#975a40" stroke-width="0.8"/>
<circle cx="380.5" cy="150.2" r="1.15" fill="#45302a"/>
<line x1="380.5" y1="185.6" x2="380.5" y2="197.6" stroke="#975a40" stroke-width="0.8"/>
<circle cx="380.5" cy="197.6" r="1.15" fill="#45302a"/>
<line x1="353.5" y1="185.6" x2="353.5" y2="174.8" stroke="#975a40" stroke-width="0.8"/>
<circle cx="353.5" cy="174.8" r="1.15" fill="#45302a"/>
<line x1="382.1" y1="150.1" x2="382.1" y2="246.9" stroke="#6468d0" stroke-width="0.7" stroke-dasharray="1.1 0.5"/>
<line x1="389.3" y1="150.1" x2="389.3" y2="246.9" stroke="#6468d0" stroke-width="0.7" stroke-dasharray="1.1 0.5"/>
</g>
<rect x="219.5" y="145.2" width="178.5" height="106.2" fill="none" stroke="#555" stroke-width="0.6"/>
<line x1="217.9" y1="147.2" x2="219.5" y2="147.2" stroke="#333" stroke-width="0.6"/>
<text x="217.9" y="149.0" text-anchor="end" font-size="3.6" class="tk">0.6</text>
<line x1="217.9" y1="160.0" x2="219.5" y2="160.0" stroke="#333" stroke-width="0.6"/>
<text x="217.9" y="161.8" text-anchor="end" font-size="3.6" class="tk">0.4</text>
<line x1="217.9" y1="172.8" x2="219.5" y2="172.8" stroke="#333" stroke-width="0.6"/>
<text x="217.9" y="174.6" text-anchor="end" font-size="3.6" class="tk">0.2</text>
<line x1="217.9" y1="185.6" x2="219.5" y2="185.6" stroke="#333" stroke-width="0.6"/>
<text x="217.9" y="187.4" text-anchor="end" font-size="3.6" class="tk">0.0</text>
<line x1="217.9" y1="198.4" x2="219.5" y2="198.4" stroke="#333" stroke-width="0.6"/>
<text x="217.9" y="200.2" text-anchor="end" font-size="3.6" class="tk">−0.2</text>
<line x1="217.9" y1="211.2" x2="219.5" y2="211.2" stroke="#333" stroke-width="0.6"/>
<text x="217.9" y="213.0" text-anchor="end" font-size="3.6" class="tk">−0.4</text>
<line x1="217.9" y1="224.0" x2="219.5" y2="224.0" stroke="#333" stroke-width="0.6"/>
<text x="217.9" y="225.8" text-anchor="end" font-size="3.6" class="tk">−0.6</text>
<line x1="217.9" y1="236.8" x2="219.5" y2="236.8" stroke="#333" stroke-width="0.6"/>
<text x="217.9" y="238.6" text-anchor="end" font-size="3.6" class="tk">−0.8</text>
<line x1="217.9" y1="249.6" x2="219.5" y2="249.6" stroke="#333" stroke-width="0.6"/>
<text x="217.9" y="251.4" text-anchor="end" font-size="3.6" class="tk">−1.0</text>
<line x1="226.8" y1="251.4" x2="226.8" y2="252.7" stroke="#555" stroke-width="0.5"/>
<text transform="translate(228.0,254.3) rotate(-90)" text-anchor="end" font-size="3.4" class="xt">14:04</text>
<line x1="232.4" y1="251.4" x2="232.4" y2="252.7" stroke="#555" stroke-width="0.5"/>
<text transform="translate(233.6,254.3) rotate(-90)" text-anchor="end" font-size="3.4" class="xt">14:04</text>
<line x1="240.9" y1="251.4" x2="240.9" y2="252.7" stroke="#555" stroke-width="0.5"/>
<text transform="translate(242.1,254.3) rotate(-90)" text-anchor="end" font-size="3.4" class="xt">14:04</text>
<line x1="250.3" y1="251.4" x2="250.3" y2="252.7" stroke="#555" stroke-width="0.5"/>
<text transform="translate(251.5,254.3) rotate(-90)" text-anchor="end" font-size="3.4" class="xt">14:04</text>
<line x1="257.4" y1="251.4" x2="257.4" y2="252.7" stroke="#555" stroke-width="0.5"/>
<text transform="translate(258.6,254.3) rotate(-90)" text-anchor="end" font-size="3.4" class="xt">14:04</text>
<line x1="264.8" y1="251.4" x2="264.8" y2="252.7" stroke="#555" stroke-width="0.5"/>
<text transform="translate(266.0,254.3) rotate(-90)" text-anchor="end" font-size="3.4" class="xt">14:04</text>
<line x1="272.1" y1="251.4" x2="272.1" y2="252.7" stroke="#555" stroke-width="0.5"/>
<text transform="translate(273.3,254.3) rotate(-90)" text-anchor="end" font-size="3.4" class="xt">14:04</text>
<line x1="279.7" y1="251.4" x2="279.7" y2="252.7" stroke="#555" stroke-width="0.5"/>
<text transform="translate(280.9,254.3) rotate(-90)" text-anchor="end" font-size="3.4" class="xt">14:04</text>
<line x1="283.8" y1="251.4" x2="283.8" y2="252.7" stroke="#555" stroke-width="0.5"/>
<text transform="translate(285.0,254.3) rotate(-90)" text-anchor="end" font-size="3.4" class="xt">14:04</text>
<line x1="287.1" y1="251.4" x2="287.1" y2="252.7" stroke="#555" stroke-width="0.5"/>
<text transform="translate(288.3,254.3) rotate(-90)" text-anchor="end" font-size="3.4" class="xt">14:04</text>
<line x1="290.0" y1="251.4" x2="290.0" y2="252.7" stroke="#555" stroke-width="0.5"/>
<text transform="translate(291.2,254.3) rotate(-90)" text-anchor="end" font-size="3.4" class="xt">14:04</text>
<line x1="295.4" y1="251.4" x2="295.4" y2="252.7" stroke="#555" stroke-width="0.5"/>
<text transform="translate(296.6,254.3) rotate(-90)" text-anchor="end" font-size="3.4" class="xt">14:04</text>
<line x1="300.5" y1="251.4" x2="300.5" y2="252.7" stroke="#555" stroke-width="0.5"/>
<text transform="translate(301.7,254.3) rotate(-90)" text-anchor="end" font-size="3.4" class="xt">14:04</text>
<line x1="309.9" y1="251.4" x2="309.9" y2="252.7" stroke="#555" stroke-width="0.5"/>
<text transform="translate(311.1,254.3) rotate(-90)" text-anchor="end" font-size="3.4" class="xt">14:04</text>
<line x1="313.5" y1="251.4" x2="313.5" y2="252.7" stroke="#555" stroke-width="0.5"/>
<text transform="translate(314.7,254.3) rotate(-90)" text-anchor="end" font-size="3.4" class="xt">14:04</text>
<line x1="317.2" y1="251.4" x2="317.2" y2="252.7" stroke="#555" stroke-width="0.5"/>
<text transform="translate(318.4,254.3) rotate(-90)" text-anchor="end" font-size="3.4" class="xt">14:04</text>
<line x1="320.1" y1="251.4" x2="320.1" y2="252.7" stroke="#555" stroke-width="0.5"/>
<text transform="translate(321.3,254.3) rotate(-90)" text-anchor="end" font-size="3.4" class="xt">14:04</text>
<line x1="324.0" y1="251.4" x2="324.0" y2="252.7" stroke="#555" stroke-width="0.5"/>
<text transform="translate(325.2,254.3) rotate(-90)" text-anchor="end" font-size="3.4" class="xt">14:04</text>
<line x1="329.3" y1="251.4" x2="329.3" y2="252.7" stroke="#555" stroke-width="0.5"/>
<text transform="translate(330.5,254.3) rotate(-90)" text-anchor="end" font-size="3.4" class="xt">14:04</text>
<line x1="336.1" y1="251.4" x2="336.1" y2="252.7" stroke="#555" stroke-width="0.5"/>
<text transform="translate(337.3,254.3) rotate(-90)" text-anchor="end" font-size="3.4" class="xt">14:04</text>
<line x1="342.7" y1="251.4" x2="342.7" y2="252.7" stroke="#555" stroke-width="0.5"/>
<text transform="translate(343.9,254.3) rotate(-90)" text-anchor="end" font-size="3.4" class="xt">14:04</text>
<line x1="348.8" y1="251.4" x2="348.8" y2="252.7" stroke="#555" stroke-width="0.5"/>
<text transform="translate(350.0,254.3) rotate(-90)" text-anchor="end" font-size="3.4" class="xt">14:04</text>
<line x1="356.1" y1="251.4" x2="356.1" y2="252.7" stroke="#555" stroke-width="0.5"/>
<text transform="translate(357.3,254.3) rotate(-90)" text-anchor="end" font-size="3.4" class="xt">14:04</text>
<line x1="364.6" y1="251.4" x2="364.6" y2="252.7" stroke="#555" stroke-width="0.5"/>
<text transform="translate(365.8,254.3) rotate(-90)" text-anchor="end" font-size="3.4" class="xt">14:04</text>
<line x1="373.8" y1="251.4" x2="373.8" y2="252.7" stroke="#555" stroke-width="0.5"/>
<text transform="translate(375.0,254.3) rotate(-90)" text-anchor="end" font-size="3.4" class="xt">14:04</text>
<line x1="381.6" y1="251.4" x2="381.6" y2="252.7" stroke="#555" stroke-width="0.5"/>
<text transform="translate(382.8,254.3) rotate(-90)" text-anchor="end" font-size="3.4" class="xt">14:04:00</text>
<line x1="388.9" y1="251.4" x2="388.9" y2="252.7" stroke="#555" stroke-width="0.5"/>
<text transform="translate(390.1,254.3) rotate(-90)" text-anchor="end" font-size="3.4" class="xt">14:04:00</text>
<text x="308.8" y="143.6" text-anchor="middle" font-size="4.2">AGT_2021-12-16 14:04</text>
<text x="308.8" y="272.2" text-anchor="middle" font-size="3.7">datetime</text>
<text transform="translate(207.6,198.3) rotate(-90)" text-anchor="middle" font-size="3.6">bs_volume</text>
<rect x="220.9" y="146.4" width="45.0" height="10.8" rx="0.8" fill="#fff" fill-opacity="0.82" stroke="#d0d0d0" stroke-width="0.4"/>
<line x1="222.2" y1="149.2" x2="228.9" y2="149.2" stroke="#6468d0" stroke-width="0.6" stroke-dasharray="1.3 0.8"/>
<line x1="222.2" y1="154.2" x2="228.9" y2="154.2" stroke="#d2c050" stroke-width="0.7" stroke-dasharray="1.6 0.9"/>
<text x="231.2" y="151.3" font-size="3.6">2021-12-16 14:04</text>
<text x="231.2" y="155.5" font-size="3.6">anomalous volumes</text>
<clipPath id="c5"><rect x="20.4" y="282.5" width="178.6" height="106.5"/></clipPath>
<g clip-path="url(#c5)">
<rect x="29.5" y="336.7" width="160.4" height="13.6" fill="#e4faf7"/>
<rect x="56.5" y="342.0" width="4.5" height="28.0" fill="#fdf3f3"/>
<rect x="73.5" y="322.0" width="3.5" height="20.0" fill="#fdf3f3"/>
<rect x="80.5" y="342.0" width="3.0" height="30.0" fill="#fdf3f3"/>
<rect x="96.5" y="342.0" width="2.5" height="16.0" fill="#fdf3f3"/>
<rect x="101.5" y="342.0" width="3.0" height="42.0" fill="#fdf3f3"/>
<rect x="115.5" y="322.0" width="3.0" height="20.0" fill="#fdf3f3"/>
<rect x="152.0" y="342.0" width="3.0" height="19.0" fill="#fdf3f3"/>
<rect x="160.0" y="323.0" width="3.0" height="19.0" fill="#fdf3f3"/>
<rect x="175.4" y="316.0" width="9.4" height="64.0" fill="#fdf6f6"/>
<rect x="185.5" y="287.0" width="5.0" height="78.0" fill="#fdf3f3"/>
<line x1="28.5" y1="328.5" x2="190.9" y2="328.5" stroke="#d2c050" stroke-width="0.8" stroke-dasharray="0.9 0.4"/>
<line x1="28.5" y1="355.9" x2="190.9" y2="355.9" stroke="#d2c050" stroke-width="0.8" stroke-dasharray="0.9 0.4"/>
<line x1="28.5" y1="342.4" x2="190.9" y2="342.4" stroke="#32622f" stroke-width="2.2"/>
<path d="M28.3,342.4V342.9M29.5,342.4V342.2M30.0,342.4V341.4M31.0,342.4V343.7M31.7,342.4V341.1M32.6,342.4V343.3M33.5,342.4V343.1M34.3,342.4V342.6M34.8,342.4V342.5M35.7,342.4V343.6M36.6,342.4V345.7M37.4,342.4V344.2M38.3,342.4V342.8M39.1,342.4V341.8M39.7,342.4V342.1M40.8,342.4V339.3M41.7,342.4V342.1M42.1,342.4V341.6M43.2,342.4V341.3M43.8,342.4V342.5M44.9,342.4V341.8M45.9,342.4V342.5M46.6,342.4V341.8M47.3,342.4V343.2M47.8,342.4V342.2M48.9,342.4V341.8M49.7,342.4V342.0M50.4,342.4V341.9M51.5,342.4V342.1M51.9,342.4V341.4M53.0,342.4V341.8M53.9,342.4V342.0M54.4,342.4V343.1M55.4,342.4V344.3M56.1,342.4V342.8M56.9,342.4V341.3M57.8,342.4V342.2M58.6,342.4V343.4M59.4,342.4V344.0M60.0,342.4V343.0M61.3,342.4V341.4M62.2,342.4V340.9M63.0,342.4V343.7M63.7,342.4V342.4M64.4,342.4V343.2M64.9,342.4V342.9M66.3,342.4V342.2M66.9,342.4V341.6M67.5,342.4V339.3M68.5,342.4V346.3M69.2,342.4V338.3M70.4,342.4V344.5M70.8,342.4V343.1M71.7,342.4V343.7M72.5,342.4V345.4M73.6,342.4V342.9M74.2,342.4V344.2M74.8,342.4V338.7M76.1,342.4V342.3M76.9,342.4V341.7M77.4,342.4V343.0M78.3,342.4V342.5M78.8,342.4V342.9M79.9,342.4V343.0M80.8,342.4V341.5M81.4,342.4V341.5M82.2,342.4V341.7M82.9,342.4V342.0M84.2,342.4V343.4M84.5,342.4V343.3M85.7,342.4V342.9M86.6,342.4V343.3M87.5,342.4V342.5M87.8,342.4V342.0M88.6,342.4V341.4M89.5,342.4V341.8M90.4,342.4V341.3M91.4,342.4V342.0M92.4,342.4V345.6M92.8,342.4V345.1M93.9,342.4V341.2M94.8,342.4V341.7M95.3,342.4V342.6M96.0,342.4V342.5M97.2,342.4V342.4M97.9,342.4V341.3M99.0,342.4V342.6M99.7,342.4V340.4M100.2,342.4V343.3M101.0,342.4V346.2M102.1,342.4V342.8M102.6,342.4V342.0M103.4,342.4V342.5M104.6,342.4V341.5M105.4,342.4V343.3M106.2,342.4V341.9M106.7,342.4V344.5M107.6,342.4V342.2M108.4,342.4V341.9M109.4,342.4V338.9M109.8,342.4V343.0M111.0,342.4V341.5M111.5,342.4V342.5M112.4,342.4V342.8M113.5,342.4V342.4M114.2,342.4V339.6M115.1,342.4V341.6M116.0,342.4V342.3M116.4,342.4V341.8M117.7,342.4V342.0M118.5,342.4V341.0M119.2,342.4V341.6M119.7,342.4V341.5M120.9,342.4V341.3M121.8,342.4V342.0M122.2,342.4V344.5M123.2,342.4V341.5M123.7,342.4V343.4M124.8,342.4V342.1M125.4,342.4V341.7M126.5,342.4V342.2M127.1,342.4V342.9M127.9,342.4V342.3M128.9,342.4V338.8M129.9,342.4V343.3M130.2,342.4V341.3M131.4,342.4V341.6M131.9,342.4V341.8M132.8,342.4V340.7M134.0,342.4V343.1M134.3,342.4V342.6M135.6,342.4V343.0M136.3,342.4V340.4M136.9,342.4V341.5M137.6,342.4V342.0M138.5,342.4V343.5M139.4,342.4V343.4M140.1,342.4V341.0M140.1,342.4V339.8M140.5,342.4V341.9M140.9,342.4V346.4M141.1,342.4V341.5M141.7,342.4V343.0M141.8,342.4V340.4M142.8,342.4V342.1M142.9,342.4V338.4M143.3,342.4V339.7M143.6,342.4V340.6M143.8,342.4V343.6M144.6,342.4V341.0M144.9,342.4V343.0M145.0,342.4V345.6M145.0,342.4V341.1M145.3,342.4V342.8M145.7,342.4V341.7M145.7,342.4V340.3M145.7,342.4V341.5M146.3,342.4V342.6M146.4,342.4V342.2M146.7,342.4V342.6M146.7,342.4V343.2M147.1,342.4V337.5M147.8,342.4V343.0M148.3,342.4V345.2M149.5,342.4V344.4M149.5,342.4V343.0M149.9,342.4V344.2M150.2,342.4V341.7M150.4,342.4V341.7M150.7,342.4V340.9M150.8,342.4V343.0M150.8,342.4V342.9M151.1,342.4V342.4M151.5,342.4V343.7M151.5,342.4V344.4M151.8,342.4V342.7M151.9,342.4V345.5M152.1,342.4V347.3M152.2,342.4V342.1M152.3,342.4V342.4M152.7,342.4V342.4M153.6,342.4V342.5M154.2,342.4V343.3M155.1,342.4V342.4M155.2,342.4V343.4M155.7,342.4V342.3M155.9,342.4V339.0M156.0,342.4V341.5M156.8,342.4V346.3M157.4,342.4V343.5M157.6,342.4V342.3M157.8,342.4V345.4M157.9,342.4V342.6M158.1,342.4V343.9M158.4,342.4V341.1M158.8,342.4V343.0M159.2,342.4V343.9M159.2,342.4V342.0M160.0,342.4V342.9M160.5,342.4V341.8M160.6,342.4V344.2M160.6,342.4V344.1M161.0,342.4V339.4M161.4,342.4V337.9M161.7,342.4V345.7M162.1,342.4V339.9M162.3,342.4V341.8M162.5,342.4V342.8M162.7,342.4V343.7M162.9,342.4V341.2M162.9,342.4V340.7M163.2,342.4V342.2M164.2,342.4V343.2M164.4,342.4V339.9M164.4,342.4V341.7M164.7,342.4V343.3M164.8,342.4V343.6M165.0,342.4V341.1M165.2,342.4V340.1M165.4,342.4V340.3M165.8,342.4V342.5M166.6,342.4V341.4M166.6,342.4V340.7M167.5,342.4V344.1M168.1,342.4V341.5M168.3,342.4V344.7M169.0,342.4V341.3M169.7,342.4V337.7M169.8,342.4V342.0M170.3,342.4V345.0M170.6,342.4V342.1M171.2,342.4V341.8M171.6,342.4V340.5M171.9,342.4V343.1M171.9,342.4V341.6M172.5,342.4V340.7M173.1,342.4V340.9M173.2,342.4V345.4M173.6,342.4V342.1M173.8,342.4V339.1M174.4,342.4V342.7M175.0,342.4V340.4M175.1,342.4V345.0M175.3,342.4V343.0M176.0,342.4V342.7M176.1,342.4V340.7M177.2,342.4V341.2M177.8,342.4V342.5M177.8,342.4V343.8M177.9,342.4V342.5M178.5,342.4V343.0M178.7,342.4V341.7M179.3,342.4V341.3M179.7,342.4V345.5M179.7,342.4V342.1M180.0,342.4V341.0M180.7,342.4V342.2M180.9,342.4V344.3M181.1,342.4V343.0M181.2,342.4V341.6M181.7,342.4V341.6M181.7,342.4V342.3M181.9,342.4V342.4M182.0,342.4V344.0M182.6,342.4V344.5M182.6,342.4V338.7M182.9,342.4V343.9M182.9,342.4V343.1M183.3,342.4V340.3M183.6,342.4V342.3M183.9,342.4V337.6M184.3,342.4V342.2M184.6,342.4V343.1M184.6,342.4V348.2M185.0,342.4V342.5M185.3,342.4V342.3M185.8,342.4V340.4M185.9,342.4V341.7M186.3,342.4V342.0M186.7,342.4V342.4M186.9,342.4V340.8M187.2,342.4V344.5M187.9,342.4V342.2M188.0,342.4V340.3M188.2,342.4V341.8M188.5,342.4V342.7M188.6,342.4V342.8M189.1,342.4V343.4M189.9,342.4V338.5M190.9,342.4V345.0" fill="none" stroke="#5a7a55" stroke-width="0.45"/>
<path d="M28.3,342.9L29.5,342.2L30.0,341.4L31.0,343.7L31.7,341.1L32.6,343.3L33.5,343.1L34.3,342.6L34.8,342.5L35.7,343.6L36.6,345.7L37.4,344.2L38.3,342.8L39.1,341.8L39.7,342.1L40.8,339.3L41.7,342.1L42.1,341.6L43.2,341.3L43.8,342.5L44.9,341.8L45.9,342.5L46.6,341.8L47.3,343.2L47.8,342.2L48.9,341.8L49.7,342.0L50.4,341.9L51.5,342.1L51.9,341.4L53.0,341.8L53.9,342.0L54.4,343.1L55.4,344.3L56.1,342.8L56.9,341.3L57.8,342.2L58.6,343.4L59.4,344.0L60.0,343.0L61.3,341.4L62.2,340.9L63.0,343.7L63.7,342.4L64.4,343.2L64.9,342.9L66.3,342.2L66.9,341.6L67.5,339.3L68.5,346.3L69.2,338.3L70.4,344.5L70.8,343.1L71.7,343.7L72.5,345.4L73.6,342.9L74.2,344.2L74.8,338.7L76.1,342.3L76.9,341.7L77.4,343.0L78.3,342.5L78.8,342.9L79.9,343.0L80.8,341.5L81.4,341.5L82.2,341.7L82.9,342.0L84.2,343.4L84.5,343.3L85.7,342.9L86.6,343.3L87.5,342.5L87.8,342.0L88.6,341.4L89.5,341.8L90.4,341.3L91.4,342.0L92.4,345.6L92.8,345.1L93.9,341.2L94.8,341.7L95.3,342.6L96.0,342.5L97.2,342.4L97.9,341.3L99.0,342.6L99.7,340.4L100.2,343.3L101.0,346.2L102.1,342.8L102.6,342.0L103.4,342.5L104.6,341.5L105.4,343.3L106.2,341.9L106.7,344.5L107.6,342.2L108.4,341.9L109.4,338.9L109.8,343.0L111.0,341.5L111.5,342.5L112.4,342.8L113.5,342.4L114.2,339.6L115.1,341.6L116.0,342.3L116.4,341.8L117.7,342.0L118.5,341.0L119.2,341.6L119.7,341.5L120.9,341.3L121.8,342.0L122.2,344.5L123.2,341.5L123.7,343.4L124.8,342.1L125.4,341.7L126.5,342.2L127.1,342.9L127.9,342.3L128.9,338.8L129.9,343.3L130.2,341.3L131.4,341.6L131.9,341.8L132.8,340.7L134.0,343.1L134.3,342.6L135.6,343.0L136.3,340.4L136.9,341.5L137.6,342.0L138.5,343.5L139.4,343.4L140.1,341.0L140.1,339.8L140.5,341.9L140.9,346.4L141.1,341.5L141.7,343.0L141.8,340.4L142.8,342.1L142.9,338.4L143.3,339.7L143.6,340.6L143.8,343.6L144.6,341.0L144.9,343.0L145.0,345.6L145.0,341.1L145.3,342.8L145.7,341.7L145.7,340.3L145.7,341.5L146.3,342.6L146.4,342.2L146.7,342.6L146.7,343.2L147.1,337.5L147.8,343.0L148.3,345.2L149.5,344.4L149.5,343.0L149.9,344.2L150.2,341.7L150.4,341.7L150.7,340.9L150.8,343.0L150.8,342.9L151.1,342.4L151.5,343.7L151.5,344.4L151.8,342.7L151.9,345.5L152.1,347.3L152.2,342.1L152.3,342.4L152.7,342.4L153.6,342.5L154.2,343.3L155.1,342.4L155.2,343.4L155.7,342.3L155.9,339.0L156.0,341.5L156.8,346.3L157.4,343.5L157.6,342.3L157.8,345.4L157.9,342.6L158.1,343.9L158.4,341.1L158.8,343.0L159.2,343.9L159.2,342.0L160.0,342.9L160.5,341.8L160.6,344.2L160.6,344.1L161.0,339.4L161.4,337.9L161.7,345.7L162.1,339.9L162.3,341.8L162.5,342.8L162.7,343.7L162.9,341.2L162.9,340.7L163.2,342.2L164.2,343.2L164.4,339.9L164.4,341.7L164.7,343.3L164.8,343.6L165.0,341.1L165.2,340.1L165.4,340.3L165.8,342.5L166.6,341.4L166.6,340.7L167.5,344.1L168.1,341.5L168.3,344.7L169.0,341.3L169.7,337.7L169.8,342.0L170.3,345.0L170.6,342.1L171.2,341.8L171.6,340.5L171.9,343.1L171.9,341.6L172.5,340.7L173.1,340.9L173.2,345.4L173.6,342.1L173.8,339.1L174.4,342.7L175.0,340.4L175.1,345.0L175.3,343.0L176.0,342.7L176.1,340.7L177.2,341.2L177.8,342.5L177.8,343.8L177.9,342.5L178.5,343.0L178.7,341.7L179.3,341.3L179.7,345.5L179.7,342.1L180.0,341.0L180.7,342.2L180.9,344.3L181.1,343.0L181.2,341.6L181.7,341.6L181.7,342.3L181.9,342.4L182.0,344.0L182.6,344.5L182.6,338.7L182.9,343.9L182.9,343.1L183.3,340.3L183.6,342.3L183.9,337.6L184.3,342.2L184.6,343.1L184.6,348.2L185.0,342.5L185.3,342.3L185.8,340.4L185.9,341.7L186.3,342.0L186.7,342.4L186.9,340.8L187.2,344.5L187.9,342.2L188.0,340.3L188.2,341.8L188.5,342.7L188.6,342.8L189.1,343.4L189.9,338.5L190.9,345.0" fill="none" stroke="#2e7a34" stroke-width="0.5" stroke-linejoin="round"/>
<g fill="#2e6e38"><circle cx="28.3" cy="342.9" r="1.1"/><circle cx="29.5" cy="342.2" r="1.1"/><circle cx="30.0" cy="341.4" r="1.1"/><circle cx="31.0" cy="343.7" r="1.1"/><circle cx="31.7" cy="341.1" r="1.1"/><circle cx="32.6" cy="343.3" r="1.1"/><circle cx="33.5" cy="343.1" r="1.1"/><circle cx="34.3" cy="342.6" r="1.1"/><circle cx="34.8" cy="342.5" r="1.1"/><circle cx="35.7" cy="343.6" r="1.1"/><circle cx="36.6" cy="345.7" r="1.1"/><circle cx="37.4" cy="344.2" r="1.1"/><circle cx="38.3" cy="342.8" r="1.1"/><circle cx="39.1" cy="341.8" r="1.1"/><circle cx="39.7" cy="342.1" r="1.1"/><circle cx="40.8" cy="339.3" r="1.1"/><circle cx="41.7" cy="342.1" r="1.1"/><circle cx="42.1" cy="341.6" r="1.1"/><circle cx="43.2" cy="341.3" r="1.1"/><circle cx="43.8" cy="342.5" r="1.1"/><circle cx="44.9" cy="341.8" r="1.1"/><circle cx="45.9" cy="342.5" r="1.1"/><circle cx="46.6" cy="341.8" r="1.1"/><circle cx="47.3" cy="343.2" r="1.1"/><circle cx="47.8" cy="342.2" r="1.1"/><circle cx="48.9" cy="341.8" r="1.1"/><circle cx="49.7" cy="342.0" r="1.1"/><circle cx="50.4" cy="341.9" r="1.1"/><circle cx="51.5" cy="342.1" r="1.1"/><circle cx="51.9" cy="341.4" r="1.1"/><circle cx="53.0" cy="341.8" r="1.1"/><circle cx="53.9" cy="342.0" r="1.1"/><circle cx="54.4" cy="343.1" r="1.1"/><circle cx="55.4" cy="344.3" r="1.1"/><circle cx="56.1" cy="342.8" r="1.1"/><circle cx="56.9" cy="341.3" r="1.1"/><circle cx="57.8" cy="342.2" r="1.1"/><circle cx="58.6" cy="343.4" r="1.1"/><circle cx="59.4" cy="344.0" r="1.1"/><circle cx="60.0" cy="343.0" r="1.1"/><circle cx="61.3" cy="341.4" r="1.1"/><circle cx="62.2" cy="340.9" r="1.1"/><circle cx="63.0" cy="343.7" r="1.1"/><circle cx="63.7" cy="342.4" r="1.1"/><circle cx="64.4" cy="343.2" r="1.1"/><circle cx="64.9" cy="342.9" r="1.1"/><circle cx="66.3" cy="342.2" r="1.1"/><circle cx="66.9" cy="341.6" r="1.1"/><circle cx="67.5" cy="339.3" r="1.1"/><circle cx="68.5" cy="346.3" r="1.1"/><circle cx="69.2" cy="338.3" r="1.1"/><circle cx="70.4" cy="344.5" r="1.1"/><circle cx="70.8" cy="343.1" r="1.1"/><circle cx="71.7" cy="343.7" r="1.1"/><circle cx="72.5" cy="345.4" r="1.1"/><circle cx="73.6" cy="342.9" r="1.1"/><circle cx="74.2" cy="344.2" r="1.1"/><circle cx="74.8" cy="338.7" r="1.1"/><circle cx="76.1" cy="342.3" r="1.1"/><circle cx="76.9" cy="341.7" r="1.1"/><circle cx="77.4" cy="343.0" r="1.1"/><circle cx="78.3" cy="342.5" r="1.1"/><circle cx="78.8" cy="342.9" r="1.1"/><circle cx="79.9" cy="343.0" r="1.1"/><circle cx="80.8" cy="341.5" r="1.1"/><circle cx="81.4" cy="341.5" r="1.1"/><circle cx="82.2" cy="341.7" r="1.1"/><circle cx="82.9" cy="342.0" r="1.1"/><circle cx="84.2" cy="343.4" r="1.1"/><circle cx="84.5" cy="343.3" r="1.1"/><circle cx="85.7" cy="342.9" r="1.1"/><circle cx="86.6" cy="343.3" r="1.1"/><circle cx="87.5" cy="342.5" r="1.1"/><circle cx="87.8" cy="342.0" r="1.1"/><circle cx="88.6" cy="341.4" r="1.1"/><circle cx="89.5" cy="341.8" r="1.1"/><circle cx="90.4" cy="341.3" r="1.1"/><circle cx="91.4" cy="342.0" r="1.1"/><circle cx="92.4" cy="345.6" r="1.1"/><circle cx="92.8" cy="345.1" r="1.1"/><circle cx="93.9" cy="341.2" r="1.1"/><circle cx="94.8" cy="341.7" r="1.1"/><circle cx="95.3" cy="342.6" r="1.1"/><circle cx="96.0" cy="342.5" r="1.1"/><circle cx="97.2" cy="342.4" r="1.1"/><circle cx="97.9" cy="341.3" r="1.1"/><circle cx="99.0" cy="342.6" r="1.1"/><circle cx="99.7" cy="340.4" r="1.1"/><circle cx="100.2" cy="343.3" r="1.1"/><circle cx="101.0" cy="346.2" r="1.1"/><circle cx="102.1" cy="342.8" r="1.1"/><circle cx="102.6" cy="342.0" r="1.1"/><circle cx="103.4" cy="342.5" r="1.1"/><circle cx="104.6" cy="341.5" r="1.1"/><circle cx="105.4" cy="343.3" r="1.1"/><circle cx="106.2" cy="341.9" r="1.1"/><circle cx="106.7" cy="344.5" r="1.1"/><circle cx="107.6" cy="342.2" r="1.1"/><circle cx="108.4" cy="341.9" r="1.1"/><circle cx="109.4" cy="338.9" r="1.1"/><circle cx="109.8" cy="343.0" r="1.1"/><circle cx="111.0" cy="341.5" r="1.1"/><circle cx="111.5" cy="342.5" r="1.1"/><circle cx="112.4" cy="342.8" r="1.1"/><circle cx="113.5" cy="342.4" r="1.1"/><circle cx="114.2" cy="339.6" r="1.1"/><circle cx="115.1" cy="341.6" r="1.1"/><circle cx="116.0" cy="342.3" r="1.1"/><circle cx="116.4" cy="341.8" r="1.1"/><circle cx="117.7" cy="342.0" r="1.1"/><circle cx="118.5" cy="341.0" r="1.1"/><circle cx="119.2" cy="341.6" r="1.1"/><circle cx="119.7" cy="341.5" r="1.1"/><circle cx="120.9" cy="341.3" r="1.1"/><circle cx="121.8" cy="342.0" r="1.1"/><circle cx="122.2" cy="344.5" r="1.1"/><circle cx="123.2" cy="341.5" r="1.1"/><circle cx="123.7" cy="343.4" r="1.1"/><circle cx="124.8" cy="342.1" r="1.1"/><circle cx="125.4" cy="341.7" r="1.1"/><circle cx="126.5" cy="342.2" r="1.1"/><circle cx="127.1" cy="342.9" r="1.1"/><circle cx="127.9" cy="342.3" r="1.1"/><circle cx="128.9" cy="338.8" r="1.1"/><circle cx="129.9" cy="343.3" r="1.1"/><circle cx="130.2" cy="341.3" r="1.1"/><circle cx="131.4" cy="341.6" r="1.1"/><circle cx="131.9" cy="341.8" r="1.1"/><circle cx="132.8" cy="340.7" r="1.1"/><circle cx="134.0" cy="343.1" r="1.1"/><circle cx="134.3" cy="342.6" r="1.1"/><circle cx="135.6" cy="343.0" r="1.1"/><circle cx="136.3" cy="340.4" r="1.1"/><circle cx="136.9" cy="341.5" r="1.1"/><circle cx="137.6" cy="342.0" r="1.1"/><circle cx="138.5" cy="343.5" r="1.1"/><circle cx="139.4" cy="343.4" r="1.1"/><circle cx="140.1" cy="341.0" r="1.1"/><circle cx="140.1" cy="339.8" r="1.1"/><circle cx="140.5" cy="341.9" r="1.1"/><circle cx="140.9" cy="346.4" r="1.1"/><circle cx="141.1" cy="341.5" r="1.1"/><circle cx="141.7" cy="343.0" r="1.1"/><circle cx="141.8" cy="340.4" r="1.1"/><circle cx="142.8" cy="342.1" r="1.1"/><circle cx="142.9" cy="338.4" r="1.1"/><circle cx="143.3" cy="339.7" r="1.1"/><circle cx="143.6" cy="340.6" r="1.1"/><circle cx="143.8" cy="343.6" r="1.1"/><circle cx="144.6" cy="341.0" r="1.1"/><circle cx="144.9" cy="343.0" r="1.1"/><circle cx="145.0" cy="345.6" r="1.1"/><circle cx="145.0" cy="341.1" r="1.1"/><circle cx="145.3" cy="342.8" r="1.1"/><circle cx="145.7" cy="341.7" r="1.1"/><circle cx="145.7" cy="340.3" r="1.1"/><circle cx="145.7" cy="341.5" r="1.1"/><circle cx="146.3" cy="342.6" r="1.1"/><circle cx="146.4" cy="342.2" r="1.1"/><circle cx="146.7" cy="342.6" r="1.1"/><circle cx="146.7" cy="343.2" r="1.1"/><circle cx="147.1" cy="337.5" r="1.1"/><circle cx="147.8" cy="343.0" r="1.1"/><circle cx="148.3" cy="345.2" r="1.1"/><circle cx="149.5" cy="344.4" r="1.1"/><circle cx="149.5" cy="343.0" r="1.1"/><circle cx="149.9" cy="344.2" r="1.1"/><circle cx="150.2" cy="341.7" r="1.1"/><circle cx="150.4" cy="341.7" r="1.1"/><circle cx="150.7" cy="340.9" r="1.1"/><circle cx="150.8" cy="343.0" r="1.1"/><circle cx="150.8" cy="342.9" r="1.1"/><circle cx="151.1" cy="342.4" r="1.1"/><circle cx="151.5" cy="343.7" r="1.1"/><circle cx="151.5" cy="344.4" r="1.1"/><circle cx="151.8" cy="342.7" r="1.1"/><circle cx="151.9" cy="345.5" r="1.1"/><circle cx="152.1" cy="347.3" r="1.1"/><circle cx="152.2" cy="342.1" r="1.1"/><circle cx="152.3" cy="342.4" r="1.1"/><circle cx="152.7" cy="342.4" r="1.1"/><circle cx="153.6" cy="342.5" r="1.1"/><circle cx="154.2" cy="343.3" r="1.1"/><circle cx="155.1" cy="342.4" r="1.1"/><circle cx="155.2" cy="343.4" r="1.1"/><circle cx="155.7" cy="342.3" r="1.1"/><circle cx="155.9" cy="339.0" r="1.1"/><circle cx="156.0" cy="341.5" r="1.1"/><circle cx="156.8" cy="346.3" r="1.1"/><circle cx="157.4" cy="343.5" r="1.1"/><circle cx="157.6" cy="342.3" r="1.1"/><circle cx="157.8" cy="345.4" r="1.1"/><circle cx="157.9" cy="342.6" r="1.1"/><circle cx="158.1" cy="343.9" r="1.1"/><circle cx="158.4" cy="341.1" r="1.1"/><circle cx="158.8" cy="343.0" r="1.1"/><circle cx="159.2" cy="343.9" r="1.1"/><circle cx="159.2" cy="342.0" r="1.1"/><circle cx="160.0" cy="342.9" r="1.1"/><circle cx="160.5" cy="341.8" r="1.1"/><circle cx="160.6" cy="344.2" r="1.1"/><circle cx="160.6" cy="344.1" r="1.1"/><circle cx="161.0" cy="339.4" r="1.1"/><circle cx="161.4" cy="337.9" r="1.1"/><circle cx="161.7" cy="345.7" r="1.1"/><circle cx="162.1" cy="339.9" r="1.1"/><circle cx="162.3" cy="341.8" r="1.1"/><circle cx="162.5" cy="342.8" r="1.1"/><circle cx="162.7" cy="343.7" r="1.1"/><circle cx="162.9" cy="341.2" r="1.1"/><circle cx="162.9" cy="340.7" r="1.1"/><circle cx="163.2" cy="342.2" r="1.1"/><circle cx="164.2" cy="343.2" r="1.1"/><circle cx="164.4" cy="339.9" r="1.1"/><circle cx="164.4" cy="341.7" r="1.1"/><circle cx="164.7" cy="343.3" r="1.1"/><circle cx="164.8" cy="343.6" r="1.1"/><circle cx="165.0" cy="341.1" r="1.1"/><circle cx="165.2" cy="340.1" r="1.1"/><circle cx="165.4" cy="340.3" r="1.1"/><circle cx="165.8" cy="342.5" r="1.1"/><circle cx="166.6" cy="341.4" r="1.1"/><circle cx="166.6" cy="340.7" r="1.1"/><circle cx="167.5" cy="344.1" r="1.1"/><circle cx="168.1" cy="341.5" r="1.1"/><circle cx="168.3" cy="344.7" r="1.1"/><circle cx="169.0" cy="341.3" r="1.1"/><circle cx="169.7" cy="337.7" r="1.1"/><circle cx="169.8" cy="342.0" r="1.1"/><circle cx="170.3" cy="345.0" r="1.1"/><circle cx="170.6" cy="342.1" r="1.1"/><circle cx="171.2" cy="341.8" r="1.1"/><circle cx="171.6" cy="340.5" r="1.1"/><circle cx="171.9" cy="343.1" r="1.1"/><circle cx="171.9" cy="341.6" r="1.1"/><circle cx="172.5" cy="340.7" r="1.1"/><circle cx="173.1" cy="340.9" r="1.1"/><circle cx="173.2" cy="345.4" r="1.1"/><circle cx="173.6" cy="342.1" r="1.1"/><circle cx="173.8" cy="339.1" r="1.1"/><circle cx="174.4" cy="342.7" r="1.1"/><circle cx="175.0" cy="340.4" r="1.1"/><circle cx="175.1" cy="345.0" r="1.1"/><circle cx="175.3" cy="343.0" r="1.1"/><circle cx="176.0" cy="342.7" r="1.1"/><circle cx="176.1" cy="340.7" r="1.1"/><circle cx="177.2" cy="341.2" r="1.1"/><circle cx="177.8" cy="342.5" r="1.1"/><circle cx="177.8" cy="343.8" r="1.1"/><circle cx="177.9" cy="342.5" r="1.1"/><circle cx="178.5" cy="343.0" r="1.1"/><circle cx="178.7" cy="341.7" r="1.1"/><circle cx="179.3" cy="341.3" r="1.1"/><circle cx="179.7" cy="345.5" r="1.1"/><circle cx="179.7" cy="342.1" r="1.1"/><circle cx="180.0" cy="341.0" r="1.1"/><circle cx="180.7" cy="342.2" r="1.1"/><circle cx="180.9" cy="344.3" r="1.1"/><circle cx="181.1" cy="343.0" r="1.1"/><circle cx="181.2" cy="341.6" r="1.1"/><circle cx="181.7" cy="341.6" r="1.1"/><circle cx="181.7" cy="342.3" r="1.1"/><circle cx="181.9" cy="342.4" r="1.1"/><circle cx="182.0" cy="344.0" r="1.1"/><circle cx="182.6" cy="344.5" r="1.1"/><circle cx="182.6" cy="338.7" r="1.1"/><circle cx="182.9" cy="343.9" r="1.1"/><circle cx="182.9" cy="343.1" r="1.1"/><circle cx="183.3" cy="340.3" r="1.1"/><circle cx="183.6" cy="342.3" r="1.1"/><circle cx="183.9" cy="337.6" r="1.1"/><circle cx="184.3" cy="342.2" r="1.1"/><circle cx="184.6" cy="343.1" r="1.1"/><circle cx="184.6" cy="348.2" r="1.1"/><circle cx="185.0" cy="342.5" r="1.1"/><circle cx="185.3" cy="342.3" r="1.1"/><circle cx="185.8" cy="340.4" r="1.1"/><circle cx="185.9" cy="341.7" r="1.1"/><circle cx="186.3" cy="342.0" r="1.1"/><circle cx="186.7" cy="342.4" r="1.1"/><circle cx="186.9" cy="340.8" r="1.1"/><circle cx="187.2" cy="344.5" r="1.1"/><circle cx="187.9" cy="342.2" r="1.1"/><circle cx="188.0" cy="340.3" r="1.1"/><circle cx="188.2" cy="341.8" r="1.1"/><circle cx="188.5" cy="342.7" r="1.1"/><circle cx="188.6" cy="342.8" r="1.1"/><circle cx="189.1" cy="343.4" r="1.1"/><circle cx="189.9" cy="338.5" r="1.1"/><circle cx="190.9" cy="345.0" r="1.1"/></g>
<line x1="50.5" y1="342.4" x2="50.5" y2="353.9" stroke="#7d917a" stroke-width="0.65"/>
<circle cx="50.5" cy="353.9" r="1.15" fill="#3a523a"/>
<line x1="55.5" y1="342.4" x2="55.5" y2="328.5" stroke="#7d917a" stroke-width="0.65"/>
<circle cx="55.5" cy="328.5" r="1.15" fill="#3a523a"/>
<line x1="58.5" y1="342.4" x2="58.5" y2="346.2" stroke="#7d917a" stroke-width="0.65"/>
<circle cx="58.5" cy="346.2" r="1.15" fill="#3a523a"/>
<line x1="59.5" y1="342.4" x2="59.5" y2="332.6" stroke="#7d917a" stroke-width="0.65"/>
<circle cx="59.5" cy="332.6" r="1.15" fill="#3a523a"/>
<line x1="64.5" y1="342.4" x2="64.5" y2="349.5" stroke="#7d917a" stroke-width="0.65"/>
<circle cx="64.5" cy="349.5" r="1.15" fill="#3a523a"/>
<line x1="70.5" y1="342.4" x2="70.5" y2="338.6" stroke="#7d917a" stroke-width="0.65"/>
<circle cx="70.5" cy="338.6" r="1.15" fill="#3a523a"/>
<line x1="75.5" y1="342.4" x2="75.5" y2="346.2" stroke="#7d917a" stroke-width="0.65"/>
<circle cx="75.5" cy="346.2" r="1.15" fill="#3a523a"/>
<line x1="87.5" y1="342.4" x2="87.5" y2="334.5" stroke="#7d917a" stroke-width="0.65"/>
<circle cx="87.5" cy="334.5" r="1.15" fill="#3a523a"/>
<line x1="144.5" y1="342.4" x2="144.5" y2="328.9" stroke="#7d917a" stroke-width="0.65"/>
<circle cx="144.5" cy="328.9" r="1.15" fill="#3a523a"/>
<line x1="156.5" y1="342.4" x2="156.5" y2="331.0" stroke="#7d917a" stroke-width="0.65"/>
<circle cx="156.5" cy="331.0" r="1.15" fill="#3a523a"/>
<line x1="157.5" y1="342.4" x2="157.5" y2="334.3" stroke="#7d917a" stroke-width="0.65"/>
<circle cx="157.5" cy="334.3" r="1.15" fill="#3a523a"/>
<line x1="112.5" y1="342.4" x2="112.5" y2="335.6" stroke="#7d917a" stroke-width="0.65"/>
<circle cx="112.5" cy="335.6" r="1.15" fill="#3a523a"/>
<line x1="129.5" y1="342.4" x2="129.5" y2="335.6" stroke="#7d917a" stroke-width="0.65"/>
<circle cx="129.5" cy="335.6" r="1.15" fill="#3a523a"/>
<line x1="169.5" y1="342.4" x2="169.5" y2="337.5" stroke="#7d917a" stroke-width="0.65"/>
<circle cx="169.5" cy="337.5" r="1.15" fill="#3a523a"/>
<line x1="191.5" y1="342.4" x2="191.5" y2="331.0" stroke="#7d917a" stroke-width="0.65"/>
<circle cx="191.5" cy="331.0" r="1.15" fill="#3a523a"/>
<line x1="119.5" y1="342.4" x2="119.5" y2="348.2" stroke="#7d917a" stroke-width="0.65"/>
<circle cx="119.5" cy="348.2" r="1.15" fill="#3a523a"/>
<line x1="124.5" y1="342.4" x2="124.5" y2="348.2" stroke="#7d917a" stroke-width="0.65"/>
<circle cx="124.5" cy="348.2" r="1.15" fill="#3a523a"/>
<line x1="166.5" y1="342.4" x2="166.5" y2="346.5" stroke="#7d917a" stroke-width="0.65"/>
<circle cx="166.5" cy="346.5" r="1.15" fill="#3a523a"/>
<line x1="178.5" y1="342.4" x2="178.5" y2="355.7" stroke="#7d917a" stroke-width="0.65"/>
<circle cx="178.5" cy="355.7" r="1.15" fill="#3a523a"/>
<line x1="159.5" y1="342.4" x2="159.5" y2="349.8" stroke="#7d917a" stroke-width="0.65"/>
<circle cx="159.5" cy="349.8" r="1.15" fill="#3a523a"/>
<line x1="58.5" y1="342.4" x2="58.5" y2="369.4" stroke="#975a40" stroke-width="0.8"/>
<circle cx="58.5" cy="369.4" r="1.15" fill="#45302a"/>
<line x1="59.5" y1="342.4" x2="59.5" y2="358.5" stroke="#975a40" stroke-width="0.8"/>
<circle cx="59.5" cy="358.5" r="1.15" fill="#45302a"/>
<line x1="75.5" y1="342.4" x2="75.5" y2="322.2" stroke="#975a40" stroke-width="0.8"/>
<circle cx="75.5" cy="322.2" r="1.15" fill="#45302a"/>
<line x1="81.5" y1="342.4" x2="81.5" y2="372.2" stroke="#975a40" stroke-width="0.8"/>
<circle cx="81.5" cy="372.2" r="1.15" fill="#45302a"/>
<line x1="97.5" y1="342.4" x2="97.5" y2="358.4" stroke="#975a40" stroke-width="0.8"/>
<circle cx="97.5" cy="358.4" r="1.15" fill="#45302a"/>
<line x1="103.5" y1="342.4" x2="103.5" y2="383.9" stroke="#975a40" stroke-width="0.8"/>
<circle cx="103.5" cy="383.9" r="1.15" fill="#45302a"/>
<line x1="117.5" y1="342.4" x2="117.5" y2="322.2" stroke="#975a40" stroke-width="0.8"/>
<circle cx="117.5" cy="322.2" r="1.15" fill="#45302a"/>
<line x1="153.5" y1="342.4" x2="153.5" y2="360.6" stroke="#975a40" stroke-width="0.8"/>
<circle cx="153.5" cy="360.6" r="1.15" fill="#45302a"/>
<line x1="161.5" y1="342.4" x2="161.5" y2="323.6" stroke="#975a40" stroke-width="0.8"/>
<circle cx="161.5" cy="323.6" r="1.15" fill="#45302a"/>
<line x1="182.5" y1="342.4" x2="182.5" y2="316.9" stroke="#975a40" stroke-width="0.8"/>
<circle cx="182.5" cy="316.9" r="1.15" fill="#45302a"/>
<line x1="182.5" y1="342.4" x2="182.5" y2="379.8" stroke="#975a40" stroke-width="0.8"/>
<circle cx="182.5" cy="379.8" r="1.15" fill="#45302a"/>
<line x1="187.5" y1="342.4" x2="187.5" y2="287.4" stroke="#975a40" stroke-width="0.8"/>
<circle cx="187.5" cy="287.4" r="1.15" fill="#45302a"/>
<line x1="187.5" y1="342.4" x2="187.5" y2="365.1" stroke="#975a40" stroke-width="0.8"/>
<circle cx="187.5" cy="365.1" r="1.15" fill="#45302a"/>
<line x1="185.2" y1="287.4" x2="185.2" y2="384.5" stroke="#6468d0" stroke-width="0.7" stroke-dasharray="1.1 0.5"/>
<line x1="191.1" y1="287.4" x2="191.1" y2="384.5" stroke="#6468d0" stroke-width="0.7" stroke-dasharray="1.1 0.5"/>
</g>
<rect x="20.4" y="282.5" width="178.6" height="106.5" fill="none" stroke="#555" stroke-width="0.6"/>
<line x1="18.8" y1="291.6" x2="20.4" y2="291.6" stroke="#333" stroke-width="0.6"/>
<text x="18.8" y="293.4" text-anchor="end" font-size="3.6" class="tk">0.20</text>
<line x1="18.8" y1="304.3" x2="20.4" y2="304.3" stroke="#333" stroke-width="0.6"/>
<text x="18.8" y="306.1" text-anchor="end" font-size="3.6" class="tk">0.15</text>
<line x1="18.8" y1="317.0" x2="20.4" y2="317.0" stroke="#333" stroke-width="0.6"/>
<text x="18.8" y="318.8" text-anchor="end" font-size="3.6" class="tk">0.10</text>
<line x1="18.8" y1="329.7" x2="20.4" y2="329.7" stroke="#333" stroke-width="0.6"/>
<text x="18.8" y="331.5" text-anchor="end" font-size="3.6" class="tk">0.05</text>
<line x1="18.8" y1="342.4" x2="20.4" y2="342.4" stroke="#333" stroke-width="0.6"/>
<text x="18.8" y="344.2" text-anchor="end" font-size="3.6" class="tk">0.00</text>
<line x1="18.8" y1="355.1" x2="20.4" y2="355.1" stroke="#333" stroke-width="0.6"/>
<text x="18.8" y="356.9" text-anchor="end" font-size="3.6" class="tk">−0.05</text>
<line x1="18.8" y1="367.8" x2="20.4" y2="367.8" stroke="#333" stroke-width="0.6"/>
<text x="18.8" y="369.6" text-anchor="end" font-size="3.6" class="tk">−0.10</text>
<line x1="18.8" y1="380.5" x2="20.4" y2="380.5" stroke="#333" stroke-width="0.6"/>
<text x="18.8" y="382.3" text-anchor="end" font-size="3.6" class="tk">−0.15</text>
<line x1="28.4" y1="389.0" x2="28.4" y2="390.3" stroke="#555" stroke-width="0.5"/>
<text transform="translate(29.6,391.9) rotate(-90)" text-anchor="end" font-size="3.4" class="xt">16:04</text>
<line x1="36.4" y1="389.0" x2="36.4" y2="390.3" stroke="#555" stroke-width="0.5"/>
<text transform="translate(37.6,391.9) rotate(-90)" text-anchor="end" font-size="3.4" class="xt">16:04</text>
<line x1="46.2" y1="389.0" x2="46.2" y2="390.3" stroke="#555" stroke-width="0.5"/>
<text transform="translate(47.4,391.9) rotate(-90)" text-anchor="end" font-size="3.4" class="xt">16:04</text>
<line x1="55.8" y1="389.0" x2="55.8" y2="390.3" stroke="#555" stroke-width="0.5"/>
<text transform="translate(57.0,391.9) rotate(-90)" text-anchor="end" font-size="3.4" class="xt">16:04</text>
<line x1="65.9" y1="389.0" x2="65.9" y2="390.3" stroke="#555" stroke-width="0.5"/>
<text transform="translate(67.1,391.9) rotate(-90)" text-anchor="end" font-size="3.4" class="xt">16:04</text>
<line x1="74.8" y1="389.0" x2="74.8" y2="390.3" stroke="#555" stroke-width="0.5"/>
<text transform="translate(76.0,391.9) rotate(-90)" text-anchor="end" font-size="3.4" class="xt">16:04</text>
<line x1="84.2" y1="389.0" x2="84.2" y2="390.3" stroke="#555" stroke-width="0.5"/>
<text transform="translate(85.4,391.9) rotate(-90)" text-anchor="end" font-size="3.4" class="xt">16:04</text>
<line x1="93.8" y1="389.0" x2="93.8" y2="390.3" stroke="#555" stroke-width="0.5"/>
<text transform="translate(95.0,391.9) rotate(-90)" text-anchor="end" font-size="3.4" class="xt">16:04</text>
<line x1="102.7" y1="389.0" x2="102.7" y2="390.3" stroke="#555" stroke-width="0.5"/>
<text transform="translate(103.9,391.9) rotate(-90)" text-anchor="end" font-size="3.4" class="xt">16:04</text>
<line x1="112.3" y1="389.0" x2="112.3" y2="390.3" stroke="#555" stroke-width="0.5"/>
<text transform="translate(113.5,391.9) rotate(-90)" text-anchor="end" font-size="3.4" class="xt">16:04</text>
<line x1="122.0" y1="389.0" x2="122.0" y2="390.3" stroke="#555" stroke-width="0.5"/>
<text transform="translate(123.2,391.9) rotate(-90)" text-anchor="end" font-size="3.4" class="xt">16:04</text>
<line x1="131.3" y1="389.0" x2="131.3" y2="390.3" stroke="#555" stroke-width="0.5"/>
<text transform="translate(132.5,391.9) rotate(-90)" text-anchor="end" font-size="3.4" class="xt">16:04</text>
<line x1="141.4" y1="389.0" x2="141.4" y2="390.3" stroke="#555" stroke-width="0.5"/>
<text transform="translate(142.6,391.9) rotate(-90)" text-anchor="end" font-size="3.4" class="xt">16:04</text>
<line x1="151.4" y1="389.0" x2="151.4" y2="390.3" stroke="#555" stroke-width="0.5"/>
<text transform="translate(152.6,391.9) rotate(-90)" text-anchor="end" font-size="3.4" class="xt">16:04</text>
<line x1="153.7" y1="389.0" x2="153.7" y2="390.3" stroke="#555" stroke-width="0.5"/>
<text transform="translate(154.9,391.9) rotate(-90)" text-anchor="end" font-size="3.4" class="xt">16:04</text>
<line x1="157.0" y1="389.0" x2="157.0" y2="390.3" stroke="#555" stroke-width="0.5"/>
<text transform="translate(158.2,391.9) rotate(-90)" text-anchor="end" font-size="3.4" class="xt">16:04</text>
<line x1="159.9" y1="389.0" x2="159.9" y2="390.3" stroke="#555" stroke-width="0.5"/>
<text transform="translate(161.1,391.9) rotate(-90)" text-anchor="end" font-size="3.4" class="xt">16:04</text>
<line x1="162.6" y1="389.0" x2="162.6" y2="390.3" stroke="#555" stroke-width="0.5"/>
<text transform="translate(163.8,391.9) rotate(-90)" text-anchor="end" font-size="3.4" class="xt">16:04</text>
<line x1="165.3" y1="389.0" x2="165.3" y2="390.3" stroke="#555" stroke-width="0.5"/>
<text transform="translate(166.5,391.9) rotate(-90)" text-anchor="end" font-size="3.4" class="xt">16:04</text>
<line x1="167.5" y1="389.0" x2="167.5" y2="390.3" stroke="#555" stroke-width="0.5"/>
<text transform="translate(168.7,391.9) rotate(-90)" text-anchor="end" font-size="3.4" class="xt">16:04</text>
<line x1="170.4" y1="389.0" x2="170.4" y2="390.3" stroke="#555" stroke-width="0.5"/>
<text transform="translate(171.6,391.9) rotate(-90)" text-anchor="end" font-size="3.4" class="xt">16:04</text>
<line x1="173.8" y1="389.0" x2="173.8" y2="390.3" stroke="#555" stroke-width="0.5"/>
<text transform="translate(175.0,391.9) rotate(-90)" text-anchor="end" font-size="3.4" class="xt">16:04</text>
<line x1="176.0" y1="389.0" x2="176.0" y2="390.3" stroke="#555" stroke-width="0.5"/>
<text transform="translate(177.2,391.9) rotate(-90)" text-anchor="end" font-size="3.4" class="xt">16:04</text>
<line x1="180.0" y1="389.0" x2="180.0" y2="390.3" stroke="#555" stroke-width="0.5"/>
<text transform="translate(181.2,391.9) rotate(-90)" text-anchor="end" font-size="3.4" class="xt">16:04</text>
<line x1="184.9" y1="389.0" x2="184.9" y2="390.3" stroke="#555" stroke-width="0.5"/>
<text transform="translate(186.1,391.9) rotate(-90)" text-anchor="end" font-size="3.4" class="xt">16:04:00</text>
<line x1="188.9" y1="389.0" x2="188.9" y2="390.3" stroke="#555" stroke-width="0.5"/>
<text transform="translate(190.1,391.9) rotate(-90)" text-anchor="end" font-size="3.4" class="xt">16:04:00</text>
<text x="109.7" y="280.9" text-anchor="middle" font-size="4.2">AGT_2022-3-19 16:04</text>
<text x="109.7" y="409.8" text-anchor="middle" font-size="3.7">datetime</text>
<text transform="translate(6.7,335.8) rotate(-90)" text-anchor="middle" font-size="3.6">bs_volume</text>
<rect x="21.8" y="283.7" width="45.0" height="10.8" rx="0.8" fill="#fff" fill-opacity="0.82" stroke="#d0d0d0" stroke-width="0.4"/>
<line x1="23.1" y1="286.5" x2="29.8" y2="286.5" stroke="#6468d0" stroke-width="0.6" stroke-dasharray="1.3 0.8"/>
<line x1="23.1" y1="291.5" x2="29.8" y2="291.5" stroke="#d2c050" stroke-width="0.7" stroke-dasharray="1.6 0.9"/>
<text x="32.1" y="288.6" font-size="3.6">2022-3-19 16:04</text>
<text x="32.1" y="292.8" font-size="3.6">anomalous volumes</text>
<clipPath id="c6"><rect x="220.4" y="282.5" width="178.5" height="106.5"/></clipPath>
<g clip-path="url(#c6)">
<rect x="229.5" y="336.5" width="160.3" height="14.5" fill="#e4faf7"/>
<rect x="232.0" y="288.0" width="9.0" height="96.0" fill="#fdf3f3"/>
<rect x="252.0" y="287.0" width="8.0" height="91.0" fill="#fdf3f3"/>
<rect x="295.0" y="301.0" width="8.0" height="71.0" fill="#fdf3f3"/>
<rect x="305.0" y="319.0" width="7.0" height="46.0" fill="#fdf3f3"/>
<line x1="228.5" y1="327.5" x2="390.8" y2="327.5" stroke="#d2c050" stroke-width="0.8" stroke-dasharray="0.9 0.4"/>
<line x1="228.5" y1="354.6" x2="390.8" y2="354.6" stroke="#d2c050" stroke-width="0.8" stroke-dasharray="0.9 0.4"/>
<line x1="228.5" y1="341.3" x2="390.8" y2="341.3" stroke="#32622f" stroke-width="2.2"/>
<path d="M228.2,341.3V340.1M228.5,341.3V339.8M228.7,341.3V341.8M229.3,341.3V341.2M229.6,341.3V344.0M229.6,341.3V337.4M229.7,341.3V342.9M229.8,341.3V339.9M230.2,341.3V342.8M230.6,341.3V342.0M230.6,341.3V341.8M230.8,341.3V338.1M231.1,341.3V342.8M231.1,341.3V340.7M231.3,341.3V340.8M231.5,341.3V344.3M231.7,341.3V339.8M231.9,341.3V336.9M232.3,341.3V341.0M232.8,341.3V342.0M232.8,341.3V343.7M232.8,341.3V339.1M233.0,341.3V347.1M233.0,341.3V342.4M233.2,341.3V342.1M233.3,341.3V340.1M233.9,341.3V339.2M234.1,341.3V342.6M234.7,341.3V339.7M235.3,341.3V344.0M235.3,341.3V341.5M235.5,341.3V335.9M235.6,341.3V343.9M235.7,341.3V339.8M235.8,341.3V341.4M236.2,341.3V338.3M236.3,341.3V340.9M236.4,341.3V341.4M237.2,341.3V343.9M237.2,341.3V339.6M237.6,341.3V342.7M238.0,341.3V343.4M238.4,341.3V342.7M238.4,341.3V343.2M238.6,341.3V341.9M238.8,341.3V339.2M239.2,341.3V340.9M239.2,341.3V341.8M239.4,341.3V337.8M239.5,341.3V343.5M239.6,341.3V343.7M239.7,341.3V339.2M239.8,341.3V342.4M240.1,341.3V340.2M240.2,341.3V342.2M240.5,341.3V339.7M240.8,341.3V339.3M240.8,341.3V342.2M241.1,341.3V339.2M241.3,341.3V342.8M241.8,341.3V342.5M242.3,341.3V339.4M242.5,341.3V338.5M242.8,341.3V343.3M243.0,341.3V339.5M243.4,341.3V340.2M243.5,341.3V344.8M243.5,341.3V338.5M243.9,341.3V338.9M244.1,341.3V344.6M244.3,341.3V340.8M244.5,341.3V339.6M244.5,341.3V342.0M244.7,341.3V344.4M244.8,341.3V343.3M245.1,341.3V342.2M245.3,341.3V341.9M245.4,341.3V341.7M245.6,341.3V336.5M245.7,341.3V340.3M245.8,341.3V344.2M246.0,341.3V337.6M246.0,341.3V339.9M246.5,341.3V337.8M246.8,341.3V342.8M246.9,341.3V342.9M247.6,341.3V344.0M247.7,341.3V340.9M247.8,341.3V342.7M247.9,341.3V339.2M248.2,341.3V340.8M248.4,341.3V341.8M248.4,341.3V343.4M248.6,341.3V339.8M249.3,341.3V344.6M249.4,341.3V342.4M249.7,341.3V339.1M249.7,341.3V338.6M249.7,341.3V342.7M249.9,341.3V338.9M249.9,341.3V342.5M250.1,341.3V341.1M250.1,341.3V336.9M250.5,341.3V340.3M250.6,341.3V341.6M251.2,341.3V339.6M251.2,341.3V339.1M251.3,341.3V343.3M251.6,341.3V341.8M251.8,341.3V341.9M251.9,341.3V342.9M252.6,341.3V341.5M252.8,341.3V338.0M253.2,341.3V339.8M253.3,341.3V341.1M253.9,341.3V344.3M254.1,341.3V338.9M254.2,341.3V342.5M254.3,341.3V341.1M254.4,341.3V340.8M254.4,341.3V341.0M254.6,341.3V342.7M254.6,341.3V340.7M254.6,341.3V340.2M254.7,341.3V343.6M254.9,341.3V339.9M255.2,341.3V344.3M255.5,341.3V341.7M255.8,341.3V341.3M256.1,341.3V339.3M256.2,341.3V338.2M256.3,341.3V342.4M256.6,341.3V341.0M256.7,341.3V334.2M256.9,341.3V343.5M257.1,341.3V340.2M257.5,341.3V340.8M258.0,341.3V344.3M258.3,341.3V343.0M258.6,341.3V338.4M258.6,341.3V345.0M258.7,341.3V340.6M258.9,341.3V336.0M258.9,341.3V343.0M259.3,341.3V342.1M259.7,341.3V344.0M260.0,341.3V338.2M260.4,341.3V342.2M260.5,341.3V340.3M260.5,341.3V341.2M260.6,341.3V340.9M261.1,341.3V341.3M261.1,341.3V342.8M261.2,341.3V339.8M261.4,341.3V341.3M261.5,341.3V342.8M261.8,341.3V338.3M262.1,341.3V338.6M262.3,341.3V341.6M263.0,341.3V336.3M263.5,341.3V342.9M263.9,341.3V342.2M263.9,341.3V340.1M264.2,341.3V341.6M264.8,341.3V340.2M265.4,341.3V346.0M265.5,341.3V343.6M266.3,341.3V340.7M266.4,341.3V341.6M266.9,341.3V343.2M267.4,341.3V341.1M267.8,341.3V338.2M268.3,341.3V342.6M268.4,341.3V336.2M268.6,341.3V341.4M269.3,341.3V340.9M269.4,341.3V338.7M269.8,341.3V342.2M270.6,341.3V340.8M270.7,341.3V341.7M271.1,341.3V342.8M271.5,341.3V345.3M271.6,341.3V341.3M272.0,341.3V342.6M272.9,341.3V341.0M273.2,341.3V339.7M273.4,341.3V340.5M273.6,341.3V336.2M273.9,341.3V338.5M274.4,341.3V343.7M275.2,341.3V341.6M275.4,341.3V342.5M275.5,341.3V340.9M276.3,341.3V341.3M276.6,341.3V337.5M277.1,341.3V341.5M277.2,341.3V337.4M277.7,341.3V340.3M278.3,341.3V340.2M278.6,341.3V342.7M278.9,341.3V340.9M279.2,341.3V341.0M279.4,341.3V340.2M280.2,341.3V340.4M280.3,341.3V340.0M280.7,341.3V341.9M281.0,341.3V342.9M281.8,341.3V346.7M282.1,341.3V343.0M282.2,341.3V340.5M282.8,341.3V341.0M283.1,341.3V339.9M283.6,341.3V342.5M284.0,341.3V344.3M284.0,341.3V335.9M284.8,341.3V341.1M285.0,341.3V340.7M285.2,341.3V342.8M285.8,341.3V338.8M286.0,341.3V342.6M286.3,341.3V341.6M287.2,341.3V342.3M287.3,341.3V340.1M287.6,341.3V339.6M287.9,341.3V344.3M288.6,341.3V340.5M289.1,341.3V340.6M289.4,341.3V338.9M289.7,341.3V343.1M289.9,341.3V342.5M290.2,341.3V337.5M290.8,341.3V344.0M291.4,341.3V341.0M291.6,341.3V341.7M292.2,341.3V341.2M292.5,341.3V345.2M293.0,341.3V339.2M293.3,341.3V339.2M293.5,341.3V341.2M294.0,341.3V344.1M294.3,341.3V340.8M294.6,341.3V340.8M295.0,341.3V339.9M295.3,341.3V339.3M295.7,341.3V342.0M295.9,341.3V340.2M296.1,341.3V341.2M296.1,341.3V339.5M296.4,341.3V346.0M296.6,341.3V342.4M296.9,341.3V336.0M296.9,341.3V342.1M297.3,341.3V342.9M297.7,341.3V341.5M297.7,341.3V340.0M298.4,341.3V340.5M298.5,341.3V341.5M298.6,341.3V339.4M299.2,341.3V342.1M299.4,341.3V344.9M299.5,341.3V343.8M299.6,341.3V339.2M299.8,341.3V345.9M299.9,341.3V342.8M300.0,341.3V339.6M300.2,341.3V345.3M300.3,341.3V340.7M300.4,341.3V338.3M300.7,341.3V344.6M301.0,341.3V340.4M301.0,341.3V343.6M301.2,341.3V343.1M301.3,341.3V341.4M301.4,341.3V341.0M301.5,341.3V342.8M301.6,341.3V337.5M301.8,341.3V340.8M302.1,341.3V342.6M302.7,341.3V340.3M302.7,341.3V343.1M302.7,341.3V339.2M303.0,341.3V342.5M303.0,341.3V345.4M303.4,341.3V341.7M303.7,341.3V341.9M303.7,341.3V338.1M303.7,341.3V339.6M303.9,341.3V337.5M304.0,341.3V342.3M304.0,341.3V340.7M304.2,341.3V337.2M304.6,341.3V340.8M304.7,341.3V335.9M304.9,341.3V338.3M305.0,341.3V343.1M305.1,341.3V335.8M305.3,341.3V340.1M305.6,341.3V340.0M306.1,341.3V337.2M306.2,341.3V341.5M306.6,341.3V340.6M306.8,341.3V342.1M306.9,341.3V341.2M307.0,341.3V342.1M307.2,341.3V338.0M307.4,341.3V341.9M307.4,341.3V343.4M307.6,341.3V341.2M307.9,341.3V343.1M308.3,341.3V341.8M308.7,341.3V339.8M309.1,341.3V342.7M309.1,341.3V342.5M309.3,341.3V346.4M309.4,341.3V343.8M309.4,341.3V339.9M309.5,341.3V343.2M309.9,341.3V340.1M309.9,341.3V340.6M309.9,341.3V341.8M310.4,341.3V339.9M311.0,341.3V340.6M311.1,341.3V338.0M311.2,341.3V339.9M311.3,341.3V335.5M311.5,341.3V339.6M312.5,341.3V339.2M312.8,341.3V340.7M313.1,341.3V341.8M313.2,341.3V340.3M313.8,341.3V336.5M313.9,341.3V341.4M314.7,341.3V335.4M314.9,341.3V340.0M315.0,341.3V341.6M315.6,341.3V339.7M316.2,341.3V339.3M316.6,341.3V338.2M317.0,341.3V340.5M317.1,341.3V338.9M317.3,341.3V341.6M318.0,341.3V343.3M318.5,341.3V343.3M318.9,341.3V342.4M319.3,341.3V342.5M319.3,341.3V339.7M319.7,341.3V339.7M320.1,341.3V341.1M320.6,341.3V347.2M321.1,341.3V342.5M321.7,341.3V342.4M322.0,341.3V345.0M322.4,341.3V339.2M322.5,341.3V343.6M323.2,341.3V341.1M323.2,341.3V341.9M323.7,341.3V343.7M324.2,341.3V342.5M324.7,341.3V342.9M324.9,341.3V346.1M325.6,341.3V341.4M325.8,341.3V342.3M325.9,341.3V339.4M326.6,341.3V339.7M326.8,341.3V340.2M327.1,341.3V341.5M327.4,341.3V341.2M328.2,341.3V337.8M328.2,341.3V346.0M328.6,341.3V336.6M328.9,341.3V341.6M329.3,341.3V343.0M329.9,341.3V337.4M330.5,341.3V341.2M330.6,341.3V340.6M331.3,341.3V342.2M331.5,341.3V346.5M331.7,341.3V341.5M332.5,341.3V338.4M332.7,341.3V342.3M333.0,341.3V339.7M333.3,341.3V341.9M334.1,341.3V340.6M334.1,341.3V342.5M334.5,341.3V345.5M335.0,341.3V343.7M335.6,341.3V335.9M335.6,341.3V340.9M336.4,341.3V340.7M336.4,341.3V341.3M337.1,341.3V341.1M337.4,341.3V339.3M337.4,341.3V339.6M338.3,341.3V346.2M338.6,341.3V341.9M338.9,341.3V344.4M339.4,341.3V338.8M339.7,341.3V339.0M340.2,341.3V339.2M340.4,341.3V344.0M340.5,341.3V341.2M341.2,341.3V342.2M341.6,341.3V339.3M342.1,341.3V339.7M342.5,341.3V339.1M342.9,341.3V341.5M343.3,341.3V339.0M343.4,341.3V340.4M343.9,341.3V346.4M344.4,341.3V345.5M344.8,341.3V341.4M345.1,341.3V338.7M345.2,341.3V342.9M345.9,341.3V339.6M346.1,341.3V339.8M346.5,341.3V342.0M347.1,341.3V340.1M347.3,341.3V343.2M348.1,341.3V342.4M348.1,341.3V344.0M348.6,341.3V341.1M348.9,341.3V339.0M349.6,341.3V337.3M349.9,341.3V342.7M350.0,341.3V342.7M350.3,341.3V340.6M350.6,341.3V345.8M351.3,341.3V343.2M351.4,341.3V341.1M352.1,341.3V338.8M352.2,341.3V340.2M353.0,341.3V341.2M353.3,341.3V343.8M353.4,341.3V340.5M353.9,341.3V341.5M354.1,341.3V344.1M354.9,341.3V343.8M355.1,341.3V340.4M355.7,341.3V342.7M355.7,341.3V342.1M356.4,341.3V341.5M356.6,341.3V340.5M357.1,341.3V338.9M357.6,341.3V340.5M358.0,341.3V340.9M358.3,341.3V340.0M358.9,341.3V339.9M359.0,341.3V341.7M359.6,341.3V343.3M359.7,341.3V339.5M360.5,341.3V338.4M360.8,341.3V342.5M361.1,341.3V342.9M361.1,341.3V340.3M361.5,341.3V344.5M362.0,341.3V343.0M362.8,341.3V341.4M363.2,341.3V342.1M363.4,341.3V341.9M363.6,341.3V338.5M364.0,341.3V340.5M364.3,341.3V345.4M365.0,341.3V345.0M365.2,341.3V342.7M365.5,341.3V343.1M366.2,341.3V341.4M366.2,341.3V342.8M366.8,341.3V338.7M367.3,341.3V343.4M367.4,341.3V342.9M367.9,341.3V339.3M368.1,341.3V343.1M368.8,341.3V338.4M369.3,341.3V340.9M369.7,341.3V340.0M370.1,341.3V342.7M370.2,341.3V344.4M370.5,341.3V345.3M371.2,341.3V341.5M371.3,341.3V344.7M371.9,341.3V340.0M372.0,341.3V338.4M372.7,341.3V341.9M373.0,341.3V337.8M373.6,341.3V340.2M373.8,341.3V341.0M374.1,341.3V342.3M374.4,341.3V342.6M374.9,341.3V338.9M375.3,341.3V337.9M375.4,341.3V341.7M375.5,341.3V342.5M375.7,341.3V344.1M376.0,341.3V344.9M376.4,341.3V343.2M376.6,341.3V339.7M376.7,341.3V342.3M376.9,341.3V339.3M377.0,341.3V339.5M377.4,341.3V339.9M377.6,341.3V339.8M377.7,341.3V342.8M377.7,341.3V344.4M378.3,341.3V342.1M378.9,341.3V339.5M379.0,341.3V345.7M379.1,341.3V340.4M379.2,341.3V343.5M379.2,341.3V343.7M379.5,341.3V339.7M379.6,341.3V335.6M379.7,341.3V341.5M380.5,341.3V339.0M380.6,341.3V342.2M381.3,341.3V339.5M381.5,341.3V342.2M381.7,341.3V342.5M382.1,341.3V341.9M382.2,341.3V340.8M382.5,341.3V339.7M382.7,341.3V337.1M382.8,341.3V337.6M382.9,341.3V341.5M383.2,341.3V343.3M383.5,341.3V337.5M383.6,341.3V343.2M383.6,341.3V339.1M384.5,341.3V339.5M384.6,341.3V343.9M384.8,341.3V342.5M385.1,341.3V341.4M385.3,341.3V339.9M385.5,341.3V342.0M385.9,341.3V344.2M386.1,341.3V343.6M386.1,341.3V340.6M386.2,341.3V341.5M386.7,341.3V342.7M386.9,341.3V342.8M387.0,341.3V343.6M387.1,341.3V335.4M387.3,341.3V343.6M387.5,341.3V339.9M387.6,341.3V339.3M388.0,341.3V338.0M388.6,341.3V341.6M388.6,341.3V339.3M389.2,341.3V339.3M389.3,341.3V339.9M389.4,341.3V340.2M389.4,341.3V340.4M389.9,341.3V342.5M390.2,341.3V341.4M390.6,341.3V343.0M390.7,341.3V337.9" fill="none" stroke="#5a7a55" stroke-width="0.45"/>
<path d="M228.2,340.1L228.5,339.8L228.7,341.8L229.3,341.2L229.6,344.0L229.6,337.4L229.7,342.9L229.8,339.9L230.2,342.8L230.6,342.0L230.6,341.8L230.8,338.1L231.1,342.8L231.1,340.7L231.3,340.8L231.5,344.3L231.7,339.8L231.9,336.9L232.3,341.0L232.8,342.0L232.8,343.7L232.8,339.1L233.0,347.1L233.0,342.4L233.2,342.1L233.3,340.1L233.9,339.2L234.1,342.6L234.7,339.7L235.3,344.0L235.3,341.5L235.5,335.9L235.6,343.9L235.7,339.8L235.8,341.4L236.2,338.3L236.3,340.9L236.4,341.4L237.2,343.9L237.2,339.6L237.6,342.7L238.0,343.4L238.4,342.7L238.4,343.2L238.6,341.9L238.8,339.2L239.2,340.9L239.2,341.8L239.4,337.8L239.5,343.5L239.6,343.7L239.7,339.2L239.8,342.4L240.1,340.2L240.2,342.2L240.5,339.7L240.8,339.3L240.8,342.2L241.1,339.2L241.3,342.8L241.8,342.5L242.3,339.4L242.5,338.5L242.8,343.3L243.0,339.5L243.4,340.2L243.5,344.8L243.5,338.5L243.9,338.9L244.1,344.6L244.3,340.8L244.5,339.6L244.5,342.0L244.7,344.4L244.8,343.3L245.1,342.2L245.3,341.9L245.4,341.7L245.6,336.5L245.7,340.3L245.8,344.2L246.0,337.6L246.0,339.9L246.5,337.8L246.8,342.8L246.9,342.9L247.6,344.0L247.7,340.9L247.8,342.7L247.9,339.2L248.2,340.8L248.4,341.8L248.4,343.4L248.6,339.8L249.3,344.6L249.4,342.4L249.7,339.1L249.7,338.6L249.7,342.7L249.9,338.9L249.9,342.5L250.1,341.1L250.1,336.9L250.5,340.3L250.6,341.6L251.2,339.6L251.2,339.1L251.3,343.3L251.6,341.8L251.8,341.9L251.9,342.9L252.6,341.5L252.8,338.0L253.2,339.8L253.3,341.1L253.9,344.3L254.1,338.9L254.2,342.5L254.3,341.1L254.4,340.8L254.4,341.0L254.6,342.7L254.6,340.7L254.6,340.2L254.7,343.6L254.9,339.9L255.2,344.3L255.5,341.7L255.8,341.3L256.1,339.3L256.2,338.2L256.3,342.4L256.6,341.0L256.7,334.2L256.9,343.5L257.1,340.2L257.5,340.8L258.0,344.3L258.3,343.0L258.6,338.4L258.6,345.0L258.7,340.6L258.9,336.0L258.9,343.0L259.3,342.1L259.7,344.0L260.0,338.2L260.4,342.2L260.5,340.3L260.5,341.2L260.6,340.9L261.1,341.3L261.1,342.8L261.2,339.8L261.4,341.3L261.5,342.8L261.8,338.3L262.1,338.6L262.3,341.6L263.0,336.3L263.5,342.9L263.9,342.2L263.9,340.1L264.2,341.6L264.8,340.2L265.4,346.0L265.5,343.6L266.3,340.7L266.4,341.6L266.9,343.2L267.4,341.1L267.8,338.2L268.3,342.6L268.4,336.2L268.6,341.4L269.3,340.9L269.4,338.7L269.8,342.2L270.6,340.8L270.7,341.7L271.1,342.8L271.5,345.3L271.6,341.3L272.0,342.6L272.9,341.0L273.2,339.7L273.4,340.5L273.6,336.2L273.9,338.5L274.4,343.7L275.2,341.6L275.4,342.5L275.5,340.9L276.3,341.3L276.6,337.5L277.1,341.5L277.2,337.4L277.7,340.3L278.3,340.2L278.6,342.7L278.9,340.9L279.2,341.0L279.4,340.2L280.2,340.4L280.3,340.0L280.7,341.9L281.0,342.9L281.8,346.7L282.1,343.0L282.2,340.5L282.8,341.0L283.1,339.9L283.6,342.5L284.0,344.3L284.0,335.9L284.8,341.1L285.0,340.7L285.2,342.8L285.8,338.8L286.0,342.6L286.3,341.6L287.2,342.3L287.3,340.1L287.6,339.6L287.9,344.3L288.6,340.5L289.1,340.6L289.4,338.9L289.7,343.1L289.9,342.5L290.2,337.5L290.8,344.0L291.4,341.0L291.6,341.7L292.2,341.2L292.5,345.2L293.0,339.2L293.3,339.2L293.5,341.2L294.0,344.1L294.3,340.8L294.6,340.8L295.0,339.9L295.3,339.3L295.7,342.0L295.9,340.2L296.1,341.2L296.1,339.5L296.4,346.0L296.6,342.4L296.9,336.0L296.9,342.1L297.3,342.9L297.7,341.5L297.7,340.0L298.4,340.5L298.5,341.5L298.6,339.4L299.2,342.1L299.4,344.9L299.5,343.8L299.6,339.2L299.8,345.9L299.9,342.8L300.0,339.6L300.2,345.3L300.3,340.7L300.4,338.3L300.7,344.6L301.0,340.4L301.0,343.6L301.2,343.1L301.3,341.4L301.4,341.0L301.5,342.8L301.6,337.5L301.8,340.8L302.1,342.6L302.7,340.3L302.7,343.1L302.7,339.2L303.0,342.5L303.0,345.4L303.4,341.7L303.7,341.9L303.7,338.1L303.7,339.6L303.9,337.5L304.0,342.3L304.0,340.7L304.2,337.2L304.6,340.8L304.7,335.9L304.9,338.3L305.0,343.1L305.1,335.8L305.3,340.1L305.6,340.0L306.1,337.2L306.2,341.5L306.6,340.6L306.8,342.1L306.9,341.2L307.0,342.1L307.2,338.0L307.4,341.9L307.4,343.4L307.6,341.2L307.9,343.1L308.3,341.8L308.7,339.8L309.1,342.7L309.1,342.5L309.3,346.4L309.4,343.8L309.4,339.9L309.5,343.2L309.9,340.1L309.9,340.6L309.9,341.8L310.4,339.9L311.0,340.6L311.1,338.0L311.2,339.9L311.3,335.5L311.5,339.6L312.5,339.2L312.8,340.7L313.1,341.8L313.2,340.3L313.8,336.5L313.9,341.4L314.7,335.4L314.9,340.0L315.0,341.6L315.6,339.7L316.2,339.3L316.6,338.2L317.0,340.5L317.1,338.9L317.3,341.6L318.0,343.3L318.5,343.3L318.9,342.4L319.3,342.5L319.3,339.7L319.7,339.7L320.1,341.1L320.6,347.2L321.1,342.5L321.7,342.4L322.0,345.0L322.4,339.2L322.5,343.6L323.2,341.1L323.2,341.9L323.7,343.7L324.2,342.5L324.7,342.9L324.9,346.1L325.6,341.4L325.8,342.3L325.9,339.4L326.6,339.7L326.8,340.2L327.1,341.5L327.4,341.2L328.2,337.8L328.2,346.0L328.6,336.6L328.9,341.6L329.3,343.0L329.9,337.4L330.5,341.2L330.6,340.6L331.3,342.2L331.5,346.5L331.7,341.5L332.5,338.4L332.7,342.3L333.0,339.7L333.3,341.9L334.1,340.6L334.1,342.5L334.5,345.5L335.0,343.7L335.6,335.9L335.6,340.9L336.4,340.7L336.4,341.3L337.1,341.1L337.4,339.3L337.4,339.6L338.3,346.2L338.6,341.9L338.9,344.4L339.4,338.8L339.7,339.0L340.2,339.2L340.4,344.0L340.5,341.2L341.2,342.2L341.6,339.3L342.1,339.7L342.5,339.1L342.9,341.5L343.3,339.0L343.4,340.4L343.9,346.4L344.4,345.5L344.8,341.4L345.1,338.7L345.2,342.9L345.9,339.6L346.1,339.8L346.5,342.0L347.1,340.1L347.3,343.2L348.1,342.4L348.1,344.0L348.6,341.1L348.9,339.0L349.6,337.3L349.9,342.7L350.0,342.7L350.3,340.6L350.6,345.8L351.3,343.2L351.4,341.1L352.1,338.8L352.2,340.2L353.0,341.2L353.3,343.8L353.4,340.5L353.9,341.5L354.1,344.1L354.9,343.8L355.1,340.4L355.7,342.7L355.7,342.1L356.4,341.5L356.6,340.5L357.1,338.9L357.6,340.5L358.0,340.9L358.3,340.0L358.9,339.9L359.0,341.7L359.6,343.3L359.7,339.5L360.5,338.4L360.8,342.5L361.1,342.9L361.1,340.3L361.5,344.5L362.0,343.0L362.8,341.4L363.2,342.1L363.4,341.9L363.6,338.5L364.0,340.5L364.3,345.4L365.0,345.0L365.2,342.7L365.5,343.1L366.2,341.4L366.2,342.8L366.8,338.7L367.3,343.4L367.4,342.9L367.9,339.3L368.1,343.1L368.8,338.4L369.3,340.9L369.7,340.0L370.1,342.7L370.2,344.4L370.5,345.3L371.2,341.5L371.3,344.7L371.9,340.0L372.0,338.4L372.7,341.9L373.0,337.8L373.6,340.2L373.8,341.0L374.1,342.3L374.4,342.6L374.9,338.9L375.3,337.9L375.4,341.7L375.5,342.5L375.7,344.1L376.0,344.9L376.4,343.2L376.6,339.7L376.7,342.3L376.9,339.3L377.0,339.5L377.4,339.9L377.6,339.8L377.7,342.8L377.7,344.4L378.3,342.1L378.9,339.5L379.0,345.7L379.1,340.4L379.2,343.5L379.2,343.7L379.5,339.7L379.6,335.6L379.7,341.5L380.5,339.0L380.6,342.2L381.3,339.5L381.5,342.2L381.7,342.5L382.1,341.9L382.2,340.8L382.5,339.7L382.7,337.1L382.8,337.6L382.9,341.5L383.2,343.3L383.5,337.5L383.6,343.2L383.6,339.1L384.5,339.5L384.6,343.9L384.8,342.5L385.1,341.4L385.3,339.9L385.5,342.0L385.9,344.2L386.1,343.6L386.1,340.6L386.2,341.5L386.7,342.7L386.9,342.8L387.0,343.6L387.1,335.4L387.3,343.6L387.5,339.9L387.6,339.3L388.0,338.0L388.6,341.6L388.6,339.3L389.2,339.3L389.3,339.9L389.4,340.2L389.4,340.4L389.9,342.5L390.2,341.4L390.6,343.0L390.7,337.9" fill="none" stroke="#2e7a34" stroke-width="0.5" stroke-linejoin="round"/>
<g fill="#2e6e38"><circle cx="228.2" cy="340.1" r="1.1"/><circle cx="228.5" cy="339.8" r="1.1"/><circle cx="228.7" cy="341.8" r="1.1"/><circle cx="229.3" cy="341.2" r="1.1"/><circle cx="229.6" cy="344.0" r="1.1"/><circle cx="229.6" cy="337.4" r="1.1"/><circle cx="229.7" cy="342.9" r="1.1"/><circle cx="229.8" cy="339.9" r="1.1"/><circle cx="230.2" cy="342.8" r="1.1"/><circle cx="230.6" cy="342.0" r="1.1"/><circle cx="230.6" cy="341.8" r="1.1"/><circle cx="230.8" cy="338.1" r="1.1"/><circle cx="231.1" cy="342.8" r="1.1"/><circle cx="231.1" cy="340.7" r="1.1"/><circle cx="231.3" cy="340.8" r="1.1"/><circle cx="231.5" cy="344.3" r="1.1"/><circle cx="231.7" cy="339.8" r="1.1"/><circle cx="231.9" cy="336.9" r="1.1"/><circle cx="232.3" cy="341.0" r="1.1"/><circle cx="232.8" cy="342.0" r="1.1"/><circle cx="232.8" cy="343.7" r="1.1"/><circle cx="232.8" cy="339.1" r="1.1"/><circle cx="233.0" cy="347.1" r="1.1"/><circle cx="233.0" cy="342.4" r="1.1"/><circle cx="233.2" cy="342.1" r="1.1"/><circle cx="233.3" cy="340.1" r="1.1"/><circle cx="233.9" cy="339.2" r="1.1"/><circle cx="234.1" cy="342.6" r="1.1"/><circle cx="234.7" cy="339.7" r="1.1"/><circle cx="235.3" cy="344.0" r="1.1"/><circle cx="235.3" cy="341.5" r="1.1"/><circle cx="235.5" cy="335.9" r="1.1"/><circle cx="235.6" cy="343.9" r="1.1"/><circle cx="235.7" cy="339.8" r="1.1"/><circle cx="235.8" cy="341.4" r="1.1"/><circle cx="236.2" cy="338.3" r="1.1"/><circle cx="236.3" cy="340.9" r="1.1"/><circle cx="236.4" cy="341.4" r="1.1"/><circle cx="237.2" cy="343.9" r="1.1"/><circle cx="237.2" cy="339.6" r="1.1"/><circle cx="237.6" cy="342.7" r="1.1"/><circle cx="238.0" cy="343.4" r="1.1"/><circle cx="238.4" cy="342.7" r="1.1"/><circle cx="238.4" cy="343.2" r="1.1"/><circle cx="238.6" cy="341.9" r="1.1"/><circle cx="238.8" cy="339.2" r="1.1"/><circle cx="239.2" cy="340.9" r="1.1"/><circle cx="239.2" cy="341.8" r="1.1"/><circle cx="239.4" cy="337.8" r="1.1"/><circle cx="239.5" cy="343.5" r="1.1"/><circle cx="239.6" cy="343.7" r="1.1"/><circle cx="239.7" cy="339.2" r="1.1"/><circle cx="239.8" cy="342.4" r="1.1"/><circle cx="240.1" cy="340.2" r="1.1"/><circle cx="240.2" cy="342.2" r="1.1"/><circle cx="240.5" cy="339.7" r="1.1"/><circle cx="240.8" cy="339.3" r="1.1"/><circle cx="240.8" cy="342.2" r="1.1"/><circle cx="241.1" cy="339.2" r="1.1"/><circle cx="241.3" cy="342.8" r="1.1"/><circle cx="241.8" cy="342.5" r="1.1"/><circle cx="242.3" cy="339.4" r="1.1"/><circle cx="242.5" cy="338.5" r="1.1"/><circle cx="242.8" cy="343.3" r="1.1"/><circle cx="243.0" cy="339.5" r="1.1"/><circle cx="243.4" cy="340.2" r="1.1"/><circle cx="243.5" cy="344.8" r="1.1"/><circle cx="243.5" cy="338.5" r="1.1"/><circle cx="243.9" cy="338.9" r="1.1"/><circle cx="244.1" cy="344.6" r="1.1"/><circle cx="244.3" cy="340.8" r="1.1"/><circle cx="244.5" cy="339.6" r="1.1"/><circle cx="244.5" cy="342.0" r="1.1"/><circle cx="244.7" cy="344.4" r="1.1"/><circle cx="244.8" cy="343.3" r="1.1"/><circle cx="245.1" cy="342.2" r="1.1"/><circle cx="245.3" cy="341.9" r="1.1"/><circle cx="245.4" cy="341.7" r="1.1"/><circle cx="245.6" cy="336.5" r="1.1"/><circle cx="245.7" cy="340.3" r="1.1"/><circle cx="245.8" cy="344.2" r="1.1"/><circle cx="246.0" cy="337.6" r="1.1"/><circle cx="246.0" cy="339.9" r="1.1"/><circle cx="246.5" cy="337.8" r="1.1"/><circle cx="246.8" cy="342.8" r="1.1"/><circle cx="246.9" cy="342.9" r="1.1"/><circle cx="247.6" cy="344.0" r="1.1"/><circle cx="247.7" cy="340.9" r="1.1"/><circle cx="247.8" cy="342.7" r="1.1"/><circle cx="247.9" cy="339.2" r="1.1"/><circle cx="248.2" cy="340.8" r="1.1"/><circle cx="248.4" cy="341.8" r="1.1"/><circle cx="248.4" cy="343.4" r="1.1"/><circle cx="248.6" cy="339.8" r="1.1"/><circle cx="249.3" cy="344.6" r="1.1"/><circle cx="249.4" cy="342.4" r="1.1"/><circle cx="249.7" cy="339.1" r="1.1"/><circle cx="249.7" cy="338.6" r="1.1"/><circle cx="249.7" cy="342.7" r="1.1"/><circle cx="249.9" cy="338.9" r="1.1"/><circle cx="249.9" cy="342.5" r="1.1"/><circle cx="250.1" cy="341.1" r="1.1"/><circle cx="250.1" cy="336.9" r="1.1"/><circle cx="250.5" cy="340.3" r="1.1"/><circle cx="250.6" cy="341.6" r="1.1"/><circle cx="251.2" cy="339.6" r="1.1"/><circle cx="251.2" cy="339.1" r="1.1"/><circle cx="251.3" cy="343.3" r="1.1"/><circle cx="251.6" cy="341.8" r="1.1"/><circle cx="251.8" cy="341.9" r="1.1"/><circle cx="251.9" cy="342.9" r="1.1"/><circle cx="252.6" cy="341.5" r="1.1"/><circle cx="252.8" cy="338.0" r="1.1"/><circle cx="253.2" cy="339.8" r="1.1"/><circle cx="253.3" cy="341.1" r="1.1"/><circle cx="253.9" cy="344.3" r="1.1"/><circle cx="254.1" cy="338.9" r="1.1"/><circle cx="254.2" cy="342.5" r="1.1"/><circle cx="254.3" cy="341.1" r="1.1"/><circle cx="254.4" cy="340.8" r="1.1"/><circle cx="254.4" cy="341.0" r="1.1"/><circle cx="254.6" cy="342.7" r="1.1"/><circle cx="254.6" cy="340.7" r="1.1"/><circle cx="254.6" cy="340.2" r="1.1"/><circle cx="254.7" cy="343.6" r="1.1"/><circle cx="254.9" cy="339.9" r="1.1"/><circle cx="255.2" cy="344.3" r="1.1"/><circle cx="255.5" cy="341.7" r="1.1"/><circle cx="255.8" cy="341.3" r="1.1"/><circle cx="256.1" cy="339.3" r="1.1"/><circle cx="256.2" cy="338.2" r="1.1"/><circle cx="256.3" cy="342.4" r="1.1"/><circle cx="256.6" cy="341.0" r="1.1"/><circle cx="256.7" cy="334.2" r="1.1"/><circle cx="256.9" cy="343.5" r="1.1"/><circle cx="257.1" cy="340.2" r="1.1"/><circle cx="257.5" cy="340.8" r="1.1"/><circle cx="258.0" cy="344.3" r="1.1"/><circle cx="258.3" cy="343.0" r="1.1"/><circle cx="258.6" cy="338.4" r="1.1"/><circle cx="258.6" cy="345.0" r="1.1"/><circle cx="258.7" cy="340.6" r="1.1"/><circle cx="258.9" cy="336.0" r="1.1"/><circle cx="258.9" cy="343.0" r="1.1"/><circle cx="259.3" cy="342.1" r="1.1"/><circle cx="259.7" cy="344.0" r="1.1"/><circle cx="260.0" cy="338.2" r="1.1"/><circle cx="260.4" cy="342.2" r="1.1"/><circle cx="260.5" cy="340.3" r="1.1"/><circle cx="260.5" cy="341.2" r="1.1"/><circle cx="260.6" cy="340.9" r="1.1"/><circle cx="261.1" cy="341.3" r="1.1"/><circle cx="261.1" cy="342.8" r="1.1"/><circle cx="261.2" cy="339.8" r="1.1"/><circle cx="261.4" cy="341.3" r="1.1"/><circle cx="261.5" cy="342.8" r="1.1"/><circle cx="261.8" cy="338.3" r="1.1"/><circle cx="262.1" cy="338.6" r="1.1"/><circle cx="262.3" cy="341.6" r="1.1"/><circle cx="263.0" cy="336.3" r="1.1"/><circle cx="263.5" cy="342.9" r="1.1"/><circle cx="263.9" cy="342.2" r="1.1"/><circle cx="263.9" cy="340.1" r="1.1"/><circle cx="264.2" cy="341.6" r="1.1"/><circle cx="264.8" cy="340.2" r="1.1"/><circle cx="265.4" cy="346.0" r="1.1"/><circle cx="265.5" cy="343.6" r="1.1"/><circle cx="266.3" cy="340.7" r="1.1"/><circle cx="266.4" cy="341.6" r="1.1"/><circle cx="266.9" cy="343.2" r="1.1"/><circle cx="267.4" cy="341.1" r="1.1"/><circle cx="267.8" cy="338.2" r="1.1"/><circle cx="268.3" cy="342.6" r="1.1"/><circle cx="268.4" cy="336.2" r="1.1"/><circle cx="268.6" cy="341.4" r="1.1"/><circle cx="269.3" cy="340.9" r="1.1"/><circle cx="269.4" cy="338.7" r="1.1"/><circle cx="269.8" cy="342.2" r="1.1"/><circle cx="270.6" cy="340.8" r="1.1"/><circle cx="270.7" cy="341.7" r="1.1"/><circle cx="271.1" cy="342.8" r="1.1"/><circle cx="271.5" cy="345.3" r="1.1"/><circle cx="271.6" cy="341.3" r="1.1"/><circle cx="272.0" cy="342.6" r="1.1"/><circle cx="272.9" cy="341.0" r="1.1"/><circle cx="273.2" cy="339.7" r="1.1"/><circle cx="273.4" cy="340.5" r="1.1"/><circle cx="273.6" cy="336.2" r="1.1"/><circle cx="273.9" cy="338.5" r="1.1"/><circle cx="274.4" cy="343.7" r="1.1"/><circle cx="275.2" cy="341.6" r="1.1"/><circle cx="275.4" cy="342.5" r="1.1"/><circle cx="275.5" cy="340.9" r="1.1"/><circle cx="276.3" cy="341.3" r="1.1"/><circle cx="276.6" cy="337.5" r="1.1"/><circle cx="277.1" cy="341.5" r="1.1"/><circle cx="277.2" cy="337.4" r="1.1"/><circle cx="277.7" cy="340.3" r="1.1"/><circle cx="278.3" cy="340.2" r="1.1"/><circle cx="278.6" cy="342.7" r="1.1"/><circle cx="278.9" cy="340.9" r="1.1"/><circle cx="279.2" cy="341.0" r="1.1"/><circle cx="279.4" cy="340.2" r="1.1"/><circle cx="280.2" cy="340.4" r="1.1"/><circle cx="280.3" cy="340.0" r="1.1"/><circle cx="280.7" cy="341.9" r="1.1"/><circle cx="281.0" cy="342.9" r="1.1"/><circle cx="281.8" cy="346.7" r="1.1"/><circle cx="282.1" cy="343.0" r="1.1"/><circle cx="282.2" cy="340.5" r="1.1"/><circle cx="282.8" cy="341.0" r="1.1"/><circle cx="283.1" cy="339.9" r="1.1"/><circle cx="283.6" cy="342.5" r="1.1"/><circle cx="284.0" cy="344.3" r="1.1"/><circle cx="284.0" cy="335.9" r="1.1"/><circle cx="284.8" cy="341.1" r="1.1"/><circle cx="285.0" cy="340.7" r="1.1"/><circle cx="285.2" cy="342.8" r="1.1"/><circle cx="285.8" cy="338.8" r="1.1"/><circle cx="286.0" cy="342.6" r="1.1"/><circle cx="286.3" cy="341.6" r="1.1"/><circle cx="287.2" cy="342.3" r="1.1"/><circle cx="287.3" cy="340.1" r="1.1"/><circle cx="287.6" cy="339.6" r="1.1"/><circle cx="287.9" cy="344.3" r="1.1"/><circle cx="288.6" cy="340.5" r="1.1"/><circle cx="289.1" cy="340.6" r="1.1"/><circle cx="289.4" cy="338.9" r="1.1"/><circle cx="289.7" cy="343.1" r="1.1"/><circle cx="289.9" cy="342.5" r="1.1"/><circle cx="290.2" cy="337.5" r="1.1"/><circle cx="290.8" cy="344.0" r="1.1"/><circle cx="291.4" cy="341.0" r="1.1"/><circle cx="291.6" cy="341.7" r="1.1"/><circle cx="292.2" cy="341.2" r="1.1"/><circle cx="292.5" cy="345.2" r="1.1"/><circle cx="293.0" cy="339.2" r="1.1"/><circle cx="293.3" cy="339.2" r="1.1"/><circle cx="293.5" cy="341.2" r="1.1"/><circle cx="294.0" cy="344.1" r="1.1"/><circle cx="294.3" cy="340.8" r="1.1"/><circle cx="294.6" cy="340.8" r="1.1"/><circle cx="295.0" cy="339.9" r="1.1"/><circle cx="295.3" cy="339.3" r="1.1"/><circle cx="295.7" cy="342.0" r="1.1"/><circle cx="295.9" cy="340.2" r="1.1"/><circle cx="296.1" cy="341.2" r="1.1"/><circle cx="296.1" cy="339.5" r="1.1"/><circle cx="296.4" cy="346.0" r="1.1"/><circle cx="296.6" cy="342.4" r="1.1"/><circle cx="296.9" cy="336.0" r="1.1"/><circle cx="296.9" cy="342.1" r="1.1"/><circle cx="297.3" cy="342.9" r="1.1"/><circle cx="297.7" cy="341.5" r="1.1"/><circle cx="297.7" cy="340.0" r="1.1"/><circle cx="298.4" cy="340.5" r="1.1"/><circle cx="298.5" cy="341.5" r="1.1"/><circle cx="298.6" cy="339.4" r="1.1"/><circle cx="299.2" cy="342.1" r="1.1"/><circle cx="299.4" cy="344.9" r="1.1"/><circle cx="299.5" cy="343.8" r="1.1"/><circle cx="299.6" cy="339.2" r="1.1"/><circle cx="299.8" cy="345.9" r="1.1"/><circle cx="299.9" cy="342.8" r="1.1"/><circle cx="300.0" cy="339.6" r="1.1"/><circle cx="300.2" cy="345.3" r="1.1"/><circle cx="300.3" cy="340.7" r="1.1"/><circle cx="300.4" cy="338.3" r="1.1"/><circle cx="300.7" cy="344.6" r="1.1"/><circle cx="301.0" cy="340.4" r="1.1"/><circle cx="301.0" cy="343.6" r="1.1"/><circle cx="301.2" cy="343.1" r="1.1"/><circle cx="301.3" cy="341.4" r="1.1"/><circle cx="301.4" cy="341.0" r="1.1"/><circle cx="301.5" cy="342.8" r="1.1"/><circle cx="301.6" cy="337.5" r="1.1"/><circle cx="301.8" cy="340.8" r="1.1"/><circle cx="302.1" cy="342.6" r="1.1"/><circle cx="302.7" cy="340.3" r="1.1"/><circle cx="302.7" cy="343.1" r="1.1"/><circle cx="302.7" cy="339.2" r="1.1"/><circle cx="303.0" cy="342.5" r="1.1"/><circle cx="303.0" cy="345.4" r="1.1"/><circle cx="303.4" cy="341.7" r="1.1"/><circle cx="303.7" cy="341.9" r="1.1"/><circle cx="303.7" cy="338.1" r="1.1"/><circle cx="303.7" cy="339.6" r="1.1"/><circle cx="303.9" cy="337.5" r="1.1"/><circle cx="304.0" cy="342.3" r="1.1"/><circle cx="304.0" cy="340.7" r="1.1"/><circle cx="304.2" cy="337.2" r="1.1"/><circle cx="304.6" cy="340.8" r="1.1"/><circle cx="304.7" cy="335.9" r="1.1"/><circle cx="304.9" cy="338.3" r="1.1"/><circle cx="305.0" cy="343.1" r="1.1"/><circle cx="305.1" cy="335.8" r="1.1"/><circle cx="305.3" cy="340.1" r="1.1"/><circle cx="305.6" cy="340.0" r="1.1"/><circle cx="306.1" cy="337.2" r="1.1"/><circle cx="306.2" cy="341.5" r="1.1"/><circle cx="306.6" cy="340.6" r="1.1"/><circle cx="306.8" cy="342.1" r="1.1"/><circle cx="306.9" cy="341.2" r="1.1"/><circle cx="307.0" cy="342.1" r="1.1"/><circle cx="307.2" cy="338.0" r="1.1"/><circle cx="307.4" cy="341.9" r="1.1"/><circle cx="307.4" cy="343.4" r="1.1"/><circle cx="307.6" cy="341.2" r="1.1"/><circle cx="307.9" cy="343.1" r="1.1"/><circle cx="308.3" cy="341.8" r="1.1"/><circle cx="308.7" cy="339.8" r="1.1"/><circle cx="309.1" cy="342.7" r="1.1"/><circle cx="309.1" cy="342.5" r="1.1"/><circle cx="309.3" cy="346.4" r="1.1"/><circle cx="309.4" cy="343.8" r="1.1"/><circle cx="309.4" cy="339.9" r="1.1"/><circle cx="309.5" cy="343.2" r="1.1"/><circle cx="309.9" cy="340.1" r="1.1"/><circle cx="309.9" cy="340.6" r="1.1"/><circle cx="309.9" cy="341.8" r="1.1"/><circle cx="310.4" cy="339.9" r="1.1"/><circle cx="311.0" cy="340.6" r="1.1"/><circle cx="311.1" cy="338.0" r="1.1"/><circle cx="311.2" cy="339.9" r="1.1"/><circle cx="311.3" cy="335.5" r="1.1"/><circle cx="311.5" cy="339.6" r="1.1"/><circle cx="312.5" cy="339.2" r="1.1"/><circle cx="312.8" cy="340.7" r="1.1"/><circle cx="313.1" cy="341.8" r="1.1"/><circle cx="313.2" cy="340.3" r="1.1"/><circle cx="313.8" cy="336.5" r="1.1"/><circle cx="313.9" cy="341.4" r="1.1"/><circle cx="314.7" cy="335.4" r="1.1"/><circle cx="314.9" cy="340.0" r="1.1"/><circle cx="315.0" cy="341.6" r="1.1"/><circle cx="315.6" cy="339.7" r="1.1"/><circle cx="316.2" cy="339.3" r="1.1"/><circle cx="316.6" cy="338.2" r="1.1"/><circle cx="317.0" cy="340.5" r="1.1"/><circle cx="317.1" cy="338.9" r="1.1"/><circle cx="317.3" cy="341.6" r="1.1"/><circle cx="318.0" cy="343.3" r="1.1"/><circle cx="318.5" cy="343.3" r="1.1"/><circle cx="318.9" cy="342.4" r="1.1"/><circle cx="319.3" cy="342.5" r="1.1"/><circle cx="319.3" cy="339.7" r="1.1"/><circle cx="319.7" cy="339.7" r="1.1"/><circle cx="320.1" cy="341.1" r="1.1"/><circle cx="320.6" cy="347.2" r="1.1"/><circle cx="321.1" cy="342.5" r="1.1"/><circle cx="321.7" cy="342.4" r="1.1"/><circle cx="322.0" cy="345.0" r="1.1"/><circle cx="322.4" cy="339.2" r="1.1"/><circle cx="322.5" cy="343.6" r="1.1"/><circle cx="323.2" cy="341.1" r="1.1"/><circle cx="323.2" cy="341.9" r="1.1"/><circle cx="323.7" cy="343.7" r="1.1"/><circle cx="324.2" cy="342.5" r="1.1"/><circle cx="324.7" cy="342.9" r="1.1"/><circle cx="324.9" cy="346.1" r="1.1"/><circle cx="325.6" cy="341.4" r="1.1"/><circle cx="325.8" cy="342.3" r="1.1"/><circle cx="325.9" cy="339.4" r="1.1"/><circle cx="326.6" cy="339.7" r="1.1"/><circle cx="326.8" cy="340.2" r="1.1"/><circle cx="327.1" cy="341.5" r="1.1"/><circle cx="327.4" cy="341.2" r="1.1"/><circle cx="328.2" cy="337.8" r="1.1"/><circle cx="328.2" cy="346.0" r="1.1"/><circle cx="328.6" cy="336.6" r="1.1"/><circle cx="328.9" cy="341.6" r="1.1"/><circle cx="329.3" cy="343.0" r="1.1"/><circle cx="329.9" cy="337.4" r="1.1"/><circle cx="330.5" cy="341.2" r="1.1"/><circle cx="330.6" cy="340.6" r="1.1"/><circle cx="331.3" cy="342.2" r="1.1"/><circle cx="331.5" cy="346.5" r="1.1"/><circle cx="331.7" cy="341.5" r="1.1"/><circle cx="332.5" cy="338.4" r="1.1"/><circle cx="332.7" cy="342.3" r="1.1"/><circle cx="333.0" cy="339.7" r="1.1"/><circle cx="333.3" cy="341.9" r="1.1"/><circle cx="334.1" cy="340.6" r="1.1"/><circle cx="334.1" cy="342.5" r="1.1"/><circle cx="334.5" cy="345.5" r="1.1"/><circle cx="335.0" cy="343.7" r="1.1"/><circle cx="335.6" cy="335.9" r="1.1"/><circle cx="335.6" cy="340.9" r="1.1"/><circle cx="336.4" cy="340.7" r="1.1"/><circle cx="336.4" cy="341.3" r="1.1"/><circle cx="337.1" cy="341.1" r="1.1"/><circle cx="337.4" cy="339.3" r="1.1"/><circle cx="337.4" cy="339.6" r="1.1"/><circle cx="338.3" cy="346.2" r="1.1"/><circle cx="338.6" cy="341.9" r="1.1"/><circle cx="338.9" cy="344.4" r="1.1"/><circle cx="339.4" cy="338.8" r="1.1"/><circle cx="339.7" cy="339.0" r="1.1"/><circle cx="340.2" cy="339.2" r="1.1"/><circle cx="340.4" cy="344.0" r="1.1"/><circle cx="340.5" cy="341.2" r="1.1"/><circle cx="341.2" cy="342.2" r="1.1"/><circle cx="341.6" cy="339.3" r="1.1"/><circle cx="342.1" cy="339.7" r="1.1"/><circle cx="342.5" cy="339.1" r="1.1"/><circle cx="342.9" cy="341.5" r="1.1"/><circle cx="343.3" cy="339.0" r="1.1"/><circle cx="343.4" cy="340.4" r="1.1"/><circle cx="343.9" cy="346.4" r="1.1"/><circle cx="344.4" cy="345.5" r="1.1"/><circle cx="344.8" cy="341.4" r="1.1"/><circle cx="345.1" cy="338.7" r="1.1"/><circle cx="345.2" cy="342.9" r="1.1"/><circle cx="345.9" cy="339.6" r="1.1"/><circle cx="346.1" cy="339.8" r="1.1"/><circle cx="346.5" cy="342.0" r="1.1"/><circle cx="347.1" cy="340.1" r="1.1"/><circle cx="347.3" cy="343.2" r="1.1"/><circle cx="348.1" cy="342.4" r="1.1"/><circle cx="348.1" cy="344.0" r="1.1"/><circle cx="348.6" cy="341.1" r="1.1"/><circle cx="348.9" cy="339.0" r="1.1"/><circle cx="349.6" cy="337.3" r="1.1"/><circle cx="349.9" cy="342.7" r="1.1"/><circle cx="350.0" cy="342.7" r="1.1"/><circle cx="350.3" cy="340.6" r="1.1"/><circle cx="350.6" cy="345.8" r="1.1"/><circle cx="351.3" cy="343.2" r="1.1"/><circle cx="351.4" cy="341.1" r="1.1"/><circle cx="352.1" cy="338.8" r="1.1"/><circle cx="352.2" cy="340.2" r="1.1"/><circle cx="353.0" cy="341.2" r="1.1"/><circle cx="353.3" cy="343.8" r="1.1"/><circle cx="353.4" cy="340.5" r="1.1"/><circle cx="353.9" cy="341.5" r="1.1"/><circle cx="354.1" cy="344.1" r="1.1"/><circle cx="354.9" cy="343.8" r="1.1"/><circle cx="355.1" cy="340.4" r="1.1"/><circle cx="355.7" cy="342.7" r="1.1"/><circle cx="355.7" cy="342.1" r="1.1"/><circle cx="356.4" cy="341.5" r="1.1"/><circle cx="356.6" cy="340.5" r="1.1"/><circle cx="357.1" cy="338.9" r="1.1"/><circle cx="357.6" cy="340.5" r="1.1"/><circle cx="358.0" cy="340.9" r="1.1"/><circle cx="358.3" cy="340.0" r="1.1"/><circle cx="358.9" cy="339.9" r="1.1"/><circle cx="359.0" cy="341.7" r="1.1"/><circle cx="359.6" cy="343.3" r="1.1"/><circle cx="359.7" cy="339.5" r="1.1"/><circle cx="360.5" cy="338.4" r="1.1"/><circle cx="360.8" cy="342.5" r="1.1"/><circle cx="361.1" cy="342.9" r="1.1"/><circle cx="361.1" cy="340.3" r="1.1"/><circle cx="361.5" cy="344.5" r="1.1"/><circle cx="362.0" cy="343.0" r="1.1"/><circle cx="362.8" cy="341.4" r="1.1"/><circle cx="363.2" cy="342.1" r="1.1"/><circle cx="363.4" cy="341.9" r="1.1"/><circle cx="363.6" cy="338.5" r="1.1"/><circle cx="364.0" cy="340.5" r="1.1"/><circle cx="364.3" cy="345.4" r="1.1"/><circle cx="365.0" cy="345.0" r="1.1"/><circle cx="365.2" cy="342.7" r="1.1"/><circle cx="365.5" cy="343.1" r="1.1"/><circle cx="366.2" cy="341.4" r="1.1"/><circle cx="366.2" cy="342.8" r="1.1"/><circle cx="366.8" cy="338.7" r="1.1"/><circle cx="367.3" cy="343.4" r="1.1"/><circle cx="367.4" cy="342.9" r="1.1"/><circle cx="367.9" cy="339.3" r="1.1"/><circle cx="368.1" cy="343.1" r="1.1"/><circle cx="368.8" cy="338.4" r="1.1"/><circle cx="369.3" cy="340.9" r="1.1"/><circle cx="369.7" cy="340.0" r="1.1"/><circle cx="370.1" cy="342.7" r="1.1"/><circle cx="370.2" cy="344.4" r="1.1"/><circle cx="370.5" cy="345.3" r="1.1"/><circle cx="371.2" cy="341.5" r="1.1"/><circle cx="371.3" cy="344.7" r="1.1"/><circle cx="371.9" cy="340.0" r="1.1"/><circle cx="372.0" cy="338.4" r="1.1"/><circle cx="372.7" cy="341.9" r="1.1"/><circle cx="373.0" cy="337.8" r="1.1"/><circle cx="373.6" cy="340.2" r="1.1"/><circle cx="373.8" cy="341.0" r="1.1"/><circle cx="374.1" cy="342.3" r="1.1"/><circle cx="374.4" cy="342.6" r="1.1"/><circle cx="374.9" cy="338.9" r="1.1"/><circle cx="375.3" cy="337.9" r="1.1"/><circle cx="375.4" cy="341.7" r="1.1"/><circle cx="375.5" cy="342.5" r="1.1"/><circle cx="375.7" cy="344.1" r="1.1"/><circle cx="376.0" cy="344.9" r="1.1"/><circle cx="376.4" cy="343.2" r="1.1"/><circle cx="376.6" cy="339.7" r="1.1"/><circle cx="376.7" cy="342.3" r="1.1"/><circle cx="376.9" cy="339.3" r="1.1"/><circle cx="377.0" cy="339.5" r="1.1"/><circle cx="377.4" cy="339.9" r="1.1"/><circle cx="377.6" cy="339.8" r="1.1"/><circle cx="377.7" cy="342.8" r="1.1"/><circle cx="377.7" cy="344.4" r="1.1"/><circle cx="378.3" cy="342.1" r="1.1"/><circle cx="378.9" cy="339.5" r="1.1"/><circle cx="379.0" cy="345.7" r="1.1"/><circle cx="379.1" cy="340.4" r="1.1"/><circle cx="379.2" cy="343.5" r="1.1"/><circle cx="379.2" cy="343.7" r="1.1"/><circle cx="379.5" cy="339.7" r="1.1"/><circle cx="379.6" cy="335.6" r="1.1"/><circle cx="379.7" cy="341.5" r="1.1"/><circle cx="380.5" cy="339.0" r="1.1"/><circle cx="380.6" cy="342.2" r="1.1"/><circle cx="381.3" cy="339.5" r="1.1"/><circle cx="381.5" cy="342.2" r="1.1"/><circle cx="381.7" cy="342.5" r="1.1"/><circle cx="382.1" cy="341.9" r="1.1"/><circle cx="382.2" cy="340.8" r="1.1"/><circle cx="382.5" cy="339.7" r="1.1"/><circle cx="382.7" cy="337.1" r="1.1"/><circle cx="382.8" cy="337.6" r="1.1"/><circle cx="382.9" cy="341.5" r="1.1"/><circle cx="383.2" cy="343.3" r="1.1"/><circle cx="383.5" cy="337.5" r="1.1"/><circle cx="383.6" cy="343.2" r="1.1"/><circle cx="383.6" cy="339.1" r="1.1"/><circle cx="384.5" cy="339.5" r="1.1"/><circle cx="384.6" cy="343.9" r="1.1"/><circle cx="384.8" cy="342.5" r="1.1"/><circle cx="385.1" cy="341.4" r="1.1"/><circle cx="385.3" cy="339.9" r="1.1"/><circle cx="385.5" cy="342.0" r="1.1"/><circle cx="385.9" cy="344.2" r="1.1"/><circle cx="386.1" cy="343.6" r="1.1"/><circle cx="386.1" cy="340.6" r="1.1"/><circle cx="386.2" cy="341.5" r="1.1"/><circle cx="386.7" cy="342.7" r="1.1"/><circle cx="386.9" cy="342.8" r="1.1"/><circle cx="387.0" cy="343.6" r="1.1"/><circle cx="387.1" cy="335.4" r="1.1"/><circle cx="387.3" cy="343.6" r="1.1"/><circle cx="387.5" cy="339.9" r="1.1"/><circle cx="387.6" cy="339.3" r="1.1"/><circle cx="388.0" cy="338.0" r="1.1"/><circle cx="388.6" cy="341.6" r="1.1"/><circle cx="388.6" cy="339.3" r="1.1"/><circle cx="389.2" cy="339.3" r="1.1"/><circle cx="389.3" cy="339.9" r="1.1"/><circle cx="389.4" cy="340.2" r="1.1"/><circle cx="389.4" cy="340.4" r="1.1"/><circle cx="389.9" cy="342.5" r="1.1"/><circle cx="390.2" cy="341.4" r="1.1"/><circle cx="390.6" cy="343.0" r="1.1"/><circle cx="390.7" cy="337.9" r="1.1"/></g>
<line x1="233.5" y1="341.3" x2="233.5" y2="330.0" stroke="#7d917a" stroke-width="0.65"/>
<circle cx="233.5" cy="330.0" r="1.15" fill="#3a523a"/>
<line x1="240.5" y1="341.3" x2="240.5" y2="326.0" stroke="#7d917a" stroke-width="0.65"/>
<circle cx="240.5" cy="326.0" r="1.15" fill="#3a523a"/>
<line x1="252.5" y1="341.3" x2="252.5" y2="329.0" stroke="#7d917a" stroke-width="0.65"/>
<circle cx="252.5" cy="329.0" r="1.15" fill="#3a523a"/>
<line x1="260.5" y1="341.3" x2="260.5" y2="332.0" stroke="#7d917a" stroke-width="0.65"/>
<circle cx="260.5" cy="332.0" r="1.15" fill="#3a523a"/>
<line x1="250.5" y1="341.3" x2="250.5" y2="327.0" stroke="#7d917a" stroke-width="0.65"/>
<circle cx="250.5" cy="327.0" r="1.15" fill="#3a523a"/>
<line x1="234.5" y1="341.3" x2="234.5" y2="356.0" stroke="#7d917a" stroke-width="0.65"/>
<circle cx="234.5" cy="356.0" r="1.15" fill="#3a523a"/>
<line x1="258.5" y1="341.3" x2="258.5" y2="355.0" stroke="#7d917a" stroke-width="0.65"/>
<circle cx="258.5" cy="355.0" r="1.15" fill="#3a523a"/>
<line x1="297.5" y1="341.3" x2="297.5" y2="357.0" stroke="#7d917a" stroke-width="0.65"/>
<circle cx="297.5" cy="357.0" r="1.15" fill="#3a523a"/>
<line x1="305.5" y1="341.3" x2="305.5" y2="333.0" stroke="#7d917a" stroke-width="0.65"/>
<circle cx="305.5" cy="333.0" r="1.15" fill="#3a523a"/>
<line x1="356.5" y1="341.3" x2="356.5" y2="333.0" stroke="#7d917a" stroke-width="0.65"/>
<circle cx="356.5" cy="333.0" r="1.15" fill="#3a523a"/>
<line x1="236.5" y1="341.3" x2="236.5" y2="288.4" stroke="#975a40" stroke-width="0.8"/>
<circle cx="236.5" cy="288.4" r="1.15" fill="#45302a"/>
<line x1="236.5" y1="341.3" x2="236.5" y2="383.9" stroke="#975a40" stroke-width="0.8"/>
<circle cx="236.5" cy="383.9" r="1.15" fill="#45302a"/>
<line x1="236.5" y1="341.3" x2="236.5" y2="322.0" stroke="#975a40" stroke-width="0.8"/>
<circle cx="236.5" cy="322.0" r="1.15" fill="#45302a"/>
<line x1="236.5" y1="341.3" x2="236.5" y2="353.0" stroke="#975a40" stroke-width="0.8"/>
<circle cx="236.5" cy="353.0" r="1.15" fill="#45302a"/>
<line x1="236.5" y1="341.3" x2="236.5" y2="360.0" stroke="#975a40" stroke-width="0.8"/>
<circle cx="236.5" cy="360.0" r="1.15" fill="#45302a"/>
<line x1="256.5" y1="341.3" x2="256.5" y2="287.0" stroke="#975a40" stroke-width="0.8"/>
<circle cx="256.5" cy="287.0" r="1.15" fill="#45302a"/>
<line x1="256.5" y1="341.3" x2="256.5" y2="378.4" stroke="#975a40" stroke-width="0.8"/>
<circle cx="256.5" cy="378.4" r="1.15" fill="#45302a"/>
<line x1="256.5" y1="341.3" x2="256.5" y2="331.0" stroke="#975a40" stroke-width="0.8"/>
<circle cx="256.5" cy="331.0" r="1.15" fill="#45302a"/>
<line x1="256.5" y1="341.3" x2="256.5" y2="352.0" stroke="#975a40" stroke-width="0.8"/>
<circle cx="256.5" cy="352.0" r="1.15" fill="#45302a"/>
<line x1="256.5" y1="341.3" x2="256.5" y2="356.0" stroke="#975a40" stroke-width="0.8"/>
<circle cx="256.5" cy="356.0" r="1.15" fill="#45302a"/>
<line x1="299.5" y1="341.3" x2="299.5" y2="301.4" stroke="#975a40" stroke-width="0.8"/>
<circle cx="299.5" cy="301.4" r="1.15" fill="#45302a"/>
<line x1="299.5" y1="341.3" x2="299.5" y2="371.7" stroke="#975a40" stroke-width="0.8"/>
<circle cx="299.5" cy="371.7" r="1.15" fill="#45302a"/>
<line x1="299.5" y1="341.3" x2="299.5" y2="352.0" stroke="#975a40" stroke-width="0.8"/>
<circle cx="299.5" cy="352.0" r="1.15" fill="#45302a"/>
<line x1="308.5" y1="341.3" x2="308.5" y2="319.0" stroke="#975a40" stroke-width="0.8"/>
<circle cx="308.5" cy="319.0" r="1.15" fill="#45302a"/>
<line x1="308.5" y1="341.3" x2="308.5" y2="365.1" stroke="#975a40" stroke-width="0.8"/>
<circle cx="308.5" cy="365.1" r="1.15" fill="#45302a"/>
<line x1="308.5" y1="341.3" x2="308.5" y2="330.0" stroke="#975a40" stroke-width="0.8"/>
<circle cx="308.5" cy="330.0" r="1.15" fill="#45302a"/>
<line x1="315.5" y1="341.3" x2="315.5" y2="308.3" stroke="#975a40" stroke-width="0.8"/>
<circle cx="315.5" cy="308.3" r="1.15" fill="#45302a"/>
<line x1="338.5" y1="341.3" x2="338.5" y2="325.7" stroke="#975a40" stroke-width="0.8"/>
<circle cx="338.5" cy="325.7" r="1.15" fill="#45302a"/>
<line x1="358.5" y1="341.3" x2="358.5" y2="326.8" stroke="#975a40" stroke-width="0.8"/>
<circle cx="358.5" cy="326.8" r="1.15" fill="#45302a"/>
<line x1="243.5" y1="341.3" x2="243.5" y2="322.5" stroke="#975a40" stroke-width="0.8"/>
<circle cx="243.5" cy="322.5" r="1.15" fill="#45302a"/>
<line x1="381.3" y1="287.4" x2="381.3" y2="384.5" stroke="#6468d0" stroke-width="0.7" stroke-dasharray="1.1 0.5"/>
<line x1="391.0" y1="287.4" x2="391.0" y2="384.5" stroke="#6468d0" stroke-width="0.7" stroke-dasharray="1.1 0.5"/>
</g>
<rect x="220.4" y="282.5" width="178.5" height="106.5" fill="none" stroke="#555" stroke-width="0.6"/>
<line x1="218.8" y1="292.9" x2="220.4" y2="292.9" stroke="#333" stroke-width="0.6"/>
<text x="218.8" y="294.7" text-anchor="end" font-size="3.6" class="tk">0.4</text>
<line x1="218.8" y1="305.0" x2="220.4" y2="305.0" stroke="#333" stroke-width="0.6"/>
<text x="218.8" y="306.8" text-anchor="end" font-size="3.6" class="tk">0.3</text>
<line x1="218.8" y1="317.1" x2="220.4" y2="317.1" stroke="#333" stroke-width="0.6"/>
<text x="218.8" y="318.9" text-anchor="end" font-size="3.6" class="tk">0.2</text>
<line x1="218.8" y1="329.2" x2="220.4" y2="329.2" stroke="#333" stroke-width="0.6"/>
<text x="218.8" y="331.0" text-anchor="end" font-size="3.6" class="tk">0.1</text>
<line x1="218.8" y1="341.3" x2="220.4" y2="341.3" stroke="#333" stroke-width="0.6"/>
<text x="218.8" y="343.1" text-anchor="end" font-size="3.6" class="tk">0.0</text>
<line x1="218.8" y1="353.4" x2="220.4" y2="353.4" stroke="#333" stroke-width="0.6"/>
<text x="218.8" y="355.2" text-anchor="end" font-size="3.6" class="tk">−0.1</text>
<line x1="218.8" y1="365.5" x2="220.4" y2="365.5" stroke="#333" stroke-width="0.6"/>
<text x="218.8" y="367.3" text-anchor="end" font-size="3.6" class="tk">−0.2</text>
<line x1="218.8" y1="377.6" x2="220.4" y2="377.6" stroke="#333" stroke-width="0.6"/>
<text x="218.8" y="379.4" text-anchor="end" font-size="3.6" class="tk">−0.3</text>
<line x1="227.8" y1="389.0" x2="227.8" y2="390.3" stroke="#555" stroke-width="0.5"/>
<text transform="translate(229.0,391.9) rotate(-90)" text-anchor="end" font-size="3.4" class="xt">18:52</text>
<line x1="229.0" y1="389.0" x2="229.0" y2="390.3" stroke="#555" stroke-width="0.5"/>
<text transform="translate(230.2,391.9) rotate(-90)" text-anchor="end" font-size="3.4" class="xt">18:52</text>
<line x1="242.4" y1="389.0" x2="242.4" y2="390.3" stroke="#555" stroke-width="0.5"/>
<text transform="translate(243.6,391.9) rotate(-90)" text-anchor="end" font-size="3.4" class="xt">18:52</text>
<line x1="264.8" y1="389.0" x2="264.8" y2="390.3" stroke="#555" stroke-width="0.5"/>
<text transform="translate(266.0,391.9) rotate(-90)" text-anchor="end" font-size="3.4" class="xt">18:52</text>
<line x1="272.1" y1="389.0" x2="272.1" y2="390.3" stroke="#555" stroke-width="0.5"/>
<text transform="translate(273.3,391.9) rotate(-90)" text-anchor="end" font-size="3.4" class="xt">18:52</text>
<line x1="279.7" y1="389.0" x2="279.7" y2="390.3" stroke="#555" stroke-width="0.5"/>
<text transform="translate(280.9,391.9) rotate(-90)" text-anchor="end" font-size="3.4" class="xt">18:52</text>
<line x1="288.7" y1="389.0" x2="288.7" y2="390.3" stroke="#555" stroke-width="0.5"/>
<text transform="translate(289.9,391.9) rotate(-90)" text-anchor="end" font-size="3.4" class="xt">18:52</text>
<line x1="291.6" y1="389.0" x2="291.6" y2="390.3" stroke="#555" stroke-width="0.5"/>
<text transform="translate(292.8,391.9) rotate(-90)" text-anchor="end" font-size="3.4" class="xt">18:52</text>
<line x1="294.9" y1="389.0" x2="294.9" y2="390.3" stroke="#555" stroke-width="0.5"/>
<text transform="translate(296.1,391.9) rotate(-90)" text-anchor="end" font-size="3.4" class="xt">18:52</text>
<line x1="297.6" y1="389.0" x2="297.6" y2="390.3" stroke="#555" stroke-width="0.5"/>
<text transform="translate(298.8,391.9) rotate(-90)" text-anchor="end" font-size="3.4" class="xt">18:52</text>
<line x1="306.5" y1="389.0" x2="306.5" y2="390.3" stroke="#555" stroke-width="0.5"/>
<text transform="translate(307.7,391.9) rotate(-90)" text-anchor="end" font-size="3.4" class="xt">18:52</text>
<line x1="307.4" y1="389.0" x2="307.4" y2="390.3" stroke="#555" stroke-width="0.5"/>
<text transform="translate(308.6,391.9) rotate(-90)" text-anchor="end" font-size="3.4" class="xt">18:52</text>
<line x1="316.7" y1="389.0" x2="316.7" y2="390.3" stroke="#555" stroke-width="0.5"/>
<text transform="translate(317.9,391.9) rotate(-90)" text-anchor="end" font-size="3.4" class="xt">18:52</text>
<line x1="319.1" y1="389.0" x2="319.1" y2="390.3" stroke="#555" stroke-width="0.5"/>
<text transform="translate(320.3,391.9) rotate(-90)" text-anchor="end" font-size="3.4" class="xt">18:52</text>
<line x1="321.5" y1="389.0" x2="321.5" y2="390.3" stroke="#555" stroke-width="0.5"/>
<text transform="translate(322.7,391.9) rotate(-90)" text-anchor="end" font-size="3.4" class="xt">18:52</text>
<line x1="324.5" y1="389.0" x2="324.5" y2="390.3" stroke="#555" stroke-width="0.5"/>
<text transform="translate(325.7,391.9) rotate(-90)" text-anchor="end" font-size="3.4" class="xt">18:52</text>
<line x1="327.4" y1="389.0" x2="327.4" y2="390.3" stroke="#555" stroke-width="0.5"/>
<text transform="translate(328.6,391.9) rotate(-90)" text-anchor="end" font-size="3.4" class="xt">18:52</text>
<line x1="331.3" y1="389.0" x2="331.3" y2="390.3" stroke="#555" stroke-width="0.5"/>
<text transform="translate(332.5,391.9) rotate(-90)" text-anchor="end" font-size="3.4" class="xt">18:52</text>
<line x1="334.2" y1="389.0" x2="334.2" y2="390.3" stroke="#555" stroke-width="0.5"/>
<text transform="translate(335.4,391.9) rotate(-90)" text-anchor="end" font-size="3.4" class="xt">18:52</text>
<line x1="337.8" y1="389.0" x2="337.8" y2="390.3" stroke="#555" stroke-width="0.5"/>
<text transform="translate(339.0,391.9) rotate(-90)" text-anchor="end" font-size="3.4" class="xt">18:52</text>
<line x1="341.0" y1="389.0" x2="341.0" y2="390.3" stroke="#555" stroke-width="0.5"/>
<text transform="translate(342.2,391.9) rotate(-90)" text-anchor="end" font-size="3.4" class="xt">18:52</text>
<line x1="343.9" y1="389.0" x2="343.9" y2="390.3" stroke="#555" stroke-width="0.5"/>
<text transform="translate(345.1,391.9) rotate(-90)" text-anchor="end" font-size="3.4" class="xt">18:52</text>
<line x1="347.6" y1="389.0" x2="347.6" y2="390.3" stroke="#555" stroke-width="0.5"/>
<text transform="translate(348.8,391.9) rotate(-90)" text-anchor="end" font-size="3.4" class="xt">18:52</text>
<line x1="352.4" y1="389.0" x2="352.4" y2="390.3" stroke="#555" stroke-width="0.5"/>
<text transform="translate(353.6,391.9) rotate(-90)" text-anchor="end" font-size="3.4" class="xt">18:52</text>
<line x1="357.3" y1="389.0" x2="357.3" y2="390.3" stroke="#555" stroke-width="0.5"/>
<text transform="translate(358.5,391.9) rotate(-90)" text-anchor="end" font-size="3.4" class="xt">18:52</text>
<line x1="365.8" y1="389.0" x2="365.8" y2="390.3" stroke="#555" stroke-width="0.5"/>
<text transform="translate(367.0,391.9) rotate(-90)" text-anchor="end" font-size="3.4" class="xt">18:52</text>
<line x1="368.7" y1="389.0" x2="368.7" y2="390.3" stroke="#555" stroke-width="0.5"/>
<text transform="translate(369.9,391.9) rotate(-90)" text-anchor="end" font-size="3.4" class="xt">18:52</text>
<line x1="379.2" y1="389.0" x2="379.2" y2="390.3" stroke="#555" stroke-width="0.5"/>
<text transform="translate(380.4,391.9) rotate(-90)" text-anchor="end" font-size="3.4" class="xt">18:52</text>
<line x1="380.9" y1="389.0" x2="380.9" y2="390.3" stroke="#555" stroke-width="0.5"/>
<text transform="translate(382.1,391.9) rotate(-90)" text-anchor="end" font-size="3.4" class="xt">18:52:00</text>
<line x1="388.9" y1="389.0" x2="388.9" y2="390.3" stroke="#555" stroke-width="0.5"/>
<text transform="translate(390.1,391.9) rotate(-90)" text-anchor="end" font-size="3.4" class="xt">18:52:00</text>
<text x="309.6" y="280.9" text-anchor="middle" font-size="4.2">ATA_2022-3-16 18:52</text>
<text x="309.6" y="409.8" text-anchor="middle" font-size="3.7">datetime</text>
<text transform="translate(208.1,335.8) rotate(-90)" text-anchor="middle" font-size="3.6">bs_volume</text>
<rect x="352.5" y="283.7" width="45.0" height="10.8" rx="0.8" fill="#fff" fill-opacity="0.82" stroke="#d0d0d0" stroke-width="0.4"/>
<line x1="353.8" y1="286.5" x2="360.5" y2="286.5" stroke="#6468d0" stroke-width="0.6" stroke-dasharray="1.3 0.8"/>
<line x1="353.8" y1="291.5" x2="360.5" y2="291.5" stroke="#d2c050" stroke-width="0.7" stroke-dasharray="1.6 0.9"/>
<text x="362.8" y="288.6" font-size="3.6">2022-3-16 18:52</text>
<text x="362.8" y="292.8" font-size="3.6">anomalous volumes</text>
<clipPath id="c7"><rect x="19.5" y="420.4" width="178.5" height="106.4"/></clipPath>
<g clip-path="url(#c7)">
<rect x="28.6" y="487.5" width="160.3" height="14.5" fill="#e4faf7"/>
<rect x="53.5" y="492.0" width="2.5" height="29.0" fill="#fdf3f3"/>
<rect x="63.5" y="466.0" width="4.0" height="55.0" fill="#fdf3f3"/>
<rect x="102.5" y="424.0" width="2.5" height="68.0" fill="#fdf3f3"/>
<rect x="107.0" y="461.0" width="3.0" height="31.0" fill="#fdf3f3"/>
<rect x="142.5" y="436.0" width="7.5" height="80.0" fill="#fdf3f3"/>
<rect x="168.0" y="492.0" width="3.0" height="25.0" fill="#fdf3f3"/>
<rect x="187.5" y="464.0" width="2.5" height="28.0" fill="#fdf3f3"/>
<line x1="27.6" y1="467.3" x2="189.9" y2="467.3" stroke="#d2c050" stroke-width="0.8" stroke-dasharray="0.9 0.4"/>
<line x1="27.6" y1="516.4" x2="189.9" y2="516.4" stroke="#d2c050" stroke-width="0.8" stroke-dasharray="0.9 0.4"/>
<line x1="27.6" y1="492.4" x2="189.9" y2="492.4" stroke="#32622f" stroke-width="2.2"/>
<path d="M27.8,492.4V493.2M28.0,492.4V494.7M28.9,492.4V493.1M29.5,492.4V493.2M29.8,492.4V494.6M30.7,492.4V493.5M31.2,492.4V493.4M32.0,492.4V494.3M32.4,492.4V494.6M33.2,492.4V494.2M33.6,492.4V496.0M34.6,492.4V490.1M34.9,492.4V493.1M35.8,492.4V501.0M36.6,492.4V495.1M37.2,492.4V493.5M37.6,492.4V491.9M38.3,492.4V492.7M38.7,492.4V493.8M39.2,492.4V493.5M40.3,492.4V493.8M40.8,492.4V492.1M41.4,492.4V492.1M41.8,492.4V491.4M42.3,492.4V492.3M43.2,492.4V498.9M44.1,492.4V495.6M44.6,492.4V492.4M45.4,492.4V494.4M45.6,492.4V493.6M46.6,492.4V486.2M47.2,492.4V494.4M47.7,492.4V493.5M48.3,492.4V492.2M48.9,492.4V492.1M49.8,492.4V498.5M49.9,492.4V494.1M50.8,492.4V494.2M51.6,492.4V495.6M52.0,492.4V496.9M52.8,492.4V493.8M53.2,492.4V492.7M54.1,492.4V495.8M54.8,492.4V491.6M55.5,492.4V493.9M55.9,492.4V487.5M56.4,492.4V492.2M57.0,492.4V493.7M57.7,492.4V488.5M58.2,492.4V492.5M58.7,492.4V495.4M59.7,492.4V485.3M60.5,492.4V486.3M60.7,492.4V495.3M61.6,492.4V492.4M61.9,492.4V493.0M62.8,492.4V493.7M63.5,492.4V493.5M64.1,492.4V491.0M64.3,492.4V493.1M65.0,492.4V495.6M65.9,492.4V492.7M66.7,492.4V486.7M67.4,492.4V496.5M67.8,492.4V494.4M68.5,492.4V495.2M68.9,492.4V494.4M69.5,492.4V495.5M70.2,492.4V494.5M70.9,492.4V495.9M71.3,492.4V493.0M71.9,492.4V492.5M72.9,492.4V494.0M73.1,492.4V495.1M74.2,492.4V492.1M74.4,492.4V493.4M75.2,492.4V493.2M75.6,492.4V492.6M76.4,492.4V491.6M77.3,492.4V493.4M77.8,492.4V494.3M78.6,492.4V491.9M78.9,492.4V494.8M79.3,492.4V492.5M80.5,492.4V490.9M80.6,492.4V502.3M81.4,492.4V498.9M82.1,492.4V498.8M82.5,492.4V492.4M83.1,492.4V493.8M83.9,492.4V493.9M84.3,492.4V492.8M85.3,492.4V492.8M85.6,492.4V494.1M86.5,492.4V488.9M87.0,492.4V492.7M87.7,492.4V494.6M88.2,492.4V494.2M89.1,492.4V492.3M89.8,492.4V491.4M90.3,492.4V494.0M91.0,492.4V495.1M91.5,492.4V492.6M92.4,492.4V500.2M92.7,492.4V492.3M93.2,492.4V494.6M93.9,492.4V494.7M94.5,492.4V490.1M95.4,492.4V485.7M96.0,492.4V496.4M96.5,492.4V494.6M97.4,492.4V494.3M97.8,492.4V493.9M98.6,492.4V500.4M99.1,492.4V494.3M99.5,492.4V489.0M100.0,492.4V491.9M100.9,492.4V500.1M101.8,492.4V491.7M101.9,492.4V493.1M102.8,492.4V494.2M103.5,492.4V493.2M103.9,492.4V497.2M104.9,492.4V491.9M105.1,492.4V493.6M105.8,492.4V494.8M106.6,492.4V495.7M107.0,492.4V492.3M107.5,492.4V493.0M108.5,492.4V491.1M109.0,492.4V502.3M109.5,492.4V494.6M110.6,492.4V488.7M111.0,492.4V498.7M111.4,492.4V495.3M112.4,492.4V495.3M112.9,492.4V492.2M113.4,492.4V492.6M114.0,492.4V494.7M114.6,492.4V493.9M115.1,492.4V495.4M115.9,492.4V496.2M116.6,492.4V493.7M117.2,492.4V486.8M117.6,492.4V491.4M118.4,492.4V495.1M119.1,492.4V500.0M119.6,492.4V492.1M120.6,492.4V496.4M120.7,492.4V494.4M121.4,492.4V493.3M122.2,492.4V494.9M122.7,492.4V494.8M123.6,492.4V493.1M124.0,492.4V492.9M125.0,492.4V492.5M125.1,492.4V492.9M126.2,492.4V493.7M126.9,492.4V496.0M127.2,492.4V494.6M128.0,492.4V495.3M128.2,492.4V492.0M129.1,492.4V491.7M129.7,492.4V494.6M130.1,492.4V495.5M130.9,492.4V493.7M131.9,492.4V493.7M132.4,492.4V495.1M133.0,492.4V493.9M133.5,492.4V491.2M134.3,492.4V492.8M135.0,492.4V494.2M135.1,492.4V492.7M135.8,492.4V493.9M136.4,492.4V496.3M137.3,492.4V493.2M137.7,492.4V494.7M138.2,492.4V494.8M138.9,492.4V494.0M139.7,492.4V490.3M140.5,492.4V498.7M140.8,492.4V499.1M141.8,492.4V492.1M142.4,492.4V495.1M142.9,492.4V490.4M143.3,492.4V494.3M144.1,492.4V494.4M144.6,492.4V493.8M145.2,492.4V493.5M145.7,492.4V494.3M146.4,492.4V500.1M147.3,492.4V494.6M147.7,492.4V493.6M148.8,492.4V487.9M148.9,492.4V493.0M149.6,492.4V495.1M150.3,492.4V485.8M150.8,492.4V494.3M151.5,492.4V491.5M152.6,492.4V493.7M152.7,492.4V487.5M153.5,492.4V495.5M154.3,492.4V494.7M155.0,492.4V500.2M155.2,492.4V494.3M156.2,492.4V489.0M156.7,492.4V493.4M157.6,492.4V494.1M158.2,492.4V498.5M158.4,492.4V493.6M159.2,492.4V493.9M159.8,492.4V494.0M160.7,492.4V490.4M161.3,492.4V494.0M161.7,492.4V492.4M162.6,492.4V495.2M163.1,492.4V495.1M163.5,492.4V492.5M164.5,492.4V492.5M164.7,492.4V492.1M165.5,492.4V490.4M165.8,492.4V493.2M166.7,492.4V493.8M167.4,492.4V494.8M168.0,492.4V499.2M168.8,492.4V493.9M169.2,492.4V492.7M170.0,492.4V495.5M170.4,492.4V491.9M170.8,492.4V495.0M171.9,492.4V491.8M172.2,492.4V494.0M172.9,492.4V485.6M173.6,492.4V493.7M174.0,492.4V488.6M175.2,492.4V492.1M175.2,492.4V492.2M176.2,492.4V493.3M176.6,492.4V493.1M177.6,492.4V494.9M177.8,492.4V494.9M178.9,492.4V493.2M179.4,492.4V492.5M180.1,492.4V493.8M180.4,492.4V491.8M181.4,492.4V493.6M181.5,492.4V493.9M182.1,492.4V495.5M183.1,492.4V491.8M183.5,492.4V493.8M184.0,492.4V494.7M184.8,492.4V492.8M185.6,492.4V500.0M186.2,492.4V495.3M186.8,492.4V494.5M187.3,492.4V493.3M188.1,492.4V494.1M188.9,492.4V493.7M189.2,492.4V493.8M190.1,492.4V494.5" fill="none" stroke="#5a7a55" stroke-width="0.45"/>
<path d="M27.8,493.2L28.0,494.7L28.9,493.1L29.5,493.2L29.8,494.6L30.7,493.5L31.2,493.4L32.0,494.3L32.4,494.6L33.2,494.2L33.6,496.0L34.6,490.1L34.9,493.1L35.8,501.0L36.6,495.1L37.2,493.5L37.6,491.9L38.3,492.7L38.7,493.8L39.2,493.5L40.3,493.8L40.8,492.1L41.4,492.1L41.8,491.4L42.3,492.3L43.2,498.9L44.1,495.6L44.6,492.4L45.4,494.4L45.6,493.6L46.6,486.2L47.2,494.4L47.7,493.5L48.3,492.2L48.9,492.1L49.8,498.5L49.9,494.1L50.8,494.2L51.6,495.6L52.0,496.9L52.8,493.8L53.2,492.7L54.1,495.8L54.8,491.6L55.5,493.9L55.9,487.5L56.4,492.2L57.0,493.7L57.7,488.5L58.2,492.5L58.7,495.4L59.7,485.3L60.5,486.3L60.7,495.3L61.6,492.4L61.9,493.0L62.8,493.7L63.5,493.5L64.1,491.0L64.3,493.1L65.0,495.6L65.9,492.7L66.7,486.7L67.4,496.5L67.8,494.4L68.5,495.2L68.9,494.4L69.5,495.5L70.2,494.5L70.9,495.9L71.3,493.0L71.9,492.5L72.9,494.0L73.1,495.1L74.2,492.1L74.4,493.4L75.2,493.2L75.6,492.6L76.4,491.6L77.3,493.4L77.8,494.3L78.6,491.9L78.9,494.8L79.3,492.5L80.5,490.9L80.6,502.3L81.4,498.9L82.1,498.8L82.5,492.4L83.1,493.8L83.9,493.9L84.3,492.8L85.3,492.8L85.6,494.1L86.5,488.9L87.0,492.7L87.7,494.6L88.2,494.2L89.1,492.3L89.8,491.4L90.3,494.0L91.0,495.1L91.5,492.6L92.4,500.2L92.7,492.3L93.2,494.6L93.9,494.7L94.5,490.1L95.4,485.7L96.0,496.4L96.5,494.6L97.4,494.3L97.8,493.9L98.6,500.4L99.1,494.3L99.5,489.0L100.0,491.9L100.9,500.1L101.8,491.7L101.9,493.1L102.8,494.2L103.5,493.2L103.9,497.2L104.9,491.9L105.1,493.6L105.8,494.8L106.6,495.7L107.0,492.3L107.5,493.0L108.5,491.1L109.0,502.3L109.5,494.6L110.6,488.7L111.0,498.7L111.4,495.3L112.4,495.3L112.9,492.2L113.4,492.6L114.0,494.7L114.6,493.9L115.1,495.4L115.9,496.2L116.6,493.7L117.2,486.8L117.6,491.4L118.4,495.1L119.1,500.0L119.6,492.1L120.6,496.4L120.7,494.4L121.4,493.3L122.2,494.9L122.7,494.8L123.6,493.1L124.0,492.9L125.0,492.5L125.1,492.9L126.2,493.7L126.9,496.0L127.2,494.6L128.0,495.3L128.2,492.0L129.1,491.7L129.7,494.6L130.1,495.5L130.9,493.7L131.9,493.7L132.4,495.1L133.0,493.9L133.5,491.2L134.3,492.8L135.0,494.2L135.1,492.7L135.8,493.9L136.4,496.3L137.3,493.2L137.7,494.7L138.2,494.8L138.9,494.0L139.7,490.3L140.5,498.7L140.8,499.1L141.8,492.1L142.4,495.1L142.9,490.4L143.3,494.3L144.1,494.4L144.6,493.8L145.2,493.5L145.7,494.3L146.4,500.1L147.3,494.6L147.7,493.6L148.8,487.9L148.9,493.0L149.6,495.1L150.3,485.8L150.8,494.3L151.5,491.5L152.6,493.7L152.7,487.5L153.5,495.5L154.3,494.7L155.0,500.2L155.2,494.3L156.2,489.0L156.7,493.4L157.6,494.1L158.2,498.5L158.4,493.6L159.2,493.9L159.8,494.0L160.7,490.4L161.3,494.0L161.7,492.4L162.6,495.2L163.1,495.1L163.5,492.5L164.5,492.5L164.7,492.1L165.5,490.4L165.8,493.2L166.7,493.8L167.4,494.8L168.0,499.2L168.8,493.9L169.2,492.7L170.0,495.5L170.4,491.9L170.8,495.0L171.9,491.8L172.2,494.0L172.9,485.6L173.6,493.7L174.0,488.6L175.2,492.1L175.2,492.2L176.2,493.3L176.6,493.1L177.6,494.9L177.8,494.9L178.9,493.2L179.4,492.5L180.1,493.8L180.4,491.8L181.4,493.6L181.5,493.9L182.1,495.5L183.1,491.8L183.5,493.8L184.0,494.7L184.8,492.8L185.6,500.0L186.2,495.3L186.8,494.5L187.3,493.3L188.1,494.1L188.9,493.7L189.2,493.8L190.1,494.5" fill="none" stroke="#2e7a34" stroke-width="0.5" stroke-linejoin="round"/>
<g fill="#2e6e38"><circle cx="27.8" cy="493.2" r="1.1"/><circle cx="28.0" cy="494.7" r="1.1"/><circle cx="28.9" cy="493.1" r="1.1"/><circle cx="29.5" cy="493.2" r="1.1"/><circle cx="29.8" cy="494.6" r="1.1"/><circle cx="30.7" cy="493.5" r="1.1"/><circle cx="31.2" cy="493.4" r="1.1"/><circle cx="32.0" cy="494.3" r="1.1"/><circle cx="32.4" cy="494.6" r="1.1"/><circle cx="33.2" cy="494.2" r="1.1"/><circle cx="33.6" cy="496.0" r="1.1"/><circle cx="34.6" cy="490.1" r="1.1"/><circle cx="34.9" cy="493.1" r="1.1"/><circle cx="35.8" cy="501.0" r="1.1"/><circle cx="36.6" cy="495.1" r="1.1"/><circle cx="37.2" cy="493.5" r="1.1"/><circle cx="37.6" cy="491.9" r="1.1"/><circle cx="38.3" cy="492.7" r="1.1"/><circle cx="38.7" cy="493.8" r="1.1"/><circle cx="39.2" cy="493.5" r="1.1"/><circle cx="40.3" cy="493.8" r="1.1"/><circle cx="40.8" cy="492.1" r="1.1"/><circle cx="41.4" cy="492.1" r="1.1"/><circle cx="41.8" cy="491.4" r="1.1"/><circle cx="42.3" cy="492.3" r="1.1"/><circle cx="43.2" cy="498.9" r="1.1"/><circle cx="44.1" cy="495.6" r="1.1"/><circle cx="44.6" cy="492.4" r="1.1"/><circle cx="45.4" cy="494.4" r="1.1"/><circle cx="45.6" cy="493.6" r="1.1"/><circle cx="46.6" cy="486.2" r="1.1"/><circle cx="47.2" cy="494.4" r="1.1"/><circle cx="47.7" cy="493.5" r="1.1"/><circle cx="48.3" cy="492.2" r="1.1"/><circle cx="48.9" cy="492.1" r="1.1"/><circle cx="49.8" cy="498.5" r="1.1"/><circle cx="49.9" cy="494.1" r="1.1"/><circle cx="50.8" cy="494.2" r="1.1"/><circle cx="51.6" cy="495.6" r="1.1"/><circle cx="52.0" cy="496.9" r="1.1"/><circle cx="52.8" cy="493.8" r="1.1"/><circle cx="53.2" cy="492.7" r="1.1"/><circle cx="54.1" cy="495.8" r="1.1"/><circle cx="54.8" cy="491.6" r="1.1"/><circle cx="55.5" cy="493.9" r="1.1"/><circle cx="55.9" cy="487.5" r="1.1"/><circle cx="56.4" cy="492.2" r="1.1"/><circle cx="57.0" cy="493.7" r="1.1"/><circle cx="57.7" cy="488.5" r="1.1"/><circle cx="58.2" cy="492.5" r="1.1"/><circle cx="58.7" cy="495.4" r="1.1"/><circle cx="59.7" cy="485.3" r="1.1"/><circle cx="60.5" cy="486.3" r="1.1"/><circle cx="60.7" cy="495.3" r="1.1"/><circle cx="61.6" cy="492.4" r="1.1"/><circle cx="61.9" cy="493.0" r="1.1"/><circle cx="62.8" cy="493.7" r="1.1"/><circle cx="63.5" cy="493.5" r="1.1"/><circle cx="64.1" cy="491.0" r="1.1"/><circle cx="64.3" cy="493.1" r="1.1"/><circle cx="65.0" cy="495.6" r="1.1"/><circle cx="65.9" cy="492.7" r="1.1"/><circle cx="66.7" cy="486.7" r="1.1"/><circle cx="67.4" cy="496.5" r="1.1"/><circle cx="67.8" cy="494.4" r="1.1"/><circle cx="68.5" cy="495.2" r="1.1"/><circle cx="68.9" cy="494.4" r="1.1"/><circle cx="69.5" cy="495.5" r="1.1"/><circle cx="70.2" cy="494.5" r="1.1"/><circle cx="70.9" cy="495.9" r="1.1"/><circle cx="71.3" cy="493.0" r="1.1"/><circle cx="71.9" cy="492.5" r="1.1"/><circle cx="72.9" cy="494.0" r="1.1"/><circle cx="73.1" cy="495.1" r="1.1"/><circle cx="74.2" cy="492.1" r="1.1"/><circle cx="74.4" cy="493.4" r="1.1"/><circle cx="75.2" cy="493.2" r="1.1"/><circle cx="75.6" cy="492.6" r="1.1"/><circle cx="76.4" cy="491.6" r="1.1"/><circle cx="77.3" cy="493.4" r="1.1"/><circle cx="77.8" cy="494.3" r="1.1"/><circle cx="78.6" cy="491.9" r="1.1"/><circle cx="78.9" cy="494.8" r="1.1"/><circle cx="79.3" cy="492.5" r="1.1"/><circle cx="80.5" cy="490.9" r="1.1"/><circle cx="80.6" cy="502.3" r="1.1"/><circle cx="81.4" cy="498.9" r="1.1"/><circle cx="82.1" cy="498.8" r="1.1"/><circle cx="82.5" cy="492.4" r="1.1"/><circle cx="83.1" cy="493.8" r="1.1"/><circle cx="83.9" cy="493.9" r="1.1"/><circle cx="84.3" cy="492.8" r="1.1"/><circle cx="85.3" cy="492.8" r="1.1"/><circle cx="85.6" cy="494.1" r="1.1"/><circle cx="86.5" cy="488.9" r="1.1"/><circle cx="87.0" cy="492.7" r="1.1"/><circle cx="87.7" cy="494.6" r="1.1"/><circle cx="88.2" cy="494.2" r="1.1"/><circle cx="89.1" cy="492.3" r="1.1"/><circle cx="89.8" cy="491.4" r="1.1"/><circle cx="90.3" cy="494.0" r="1.1"/><circle cx="91.0" cy="495.1" r="1.1"/><circle cx="91.5" cy="492.6" r="1.1"/><circle cx="92.4" cy="500.2" r="1.1"/><circle cx="92.7" cy="492.3" r="1.1"/><circle cx="93.2" cy="494.6" r="1.1"/><circle cx="93.9" cy="494.7" r="1.1"/><circle cx="94.5" cy="490.1" r="1.1"/><circle cx="95.4" cy="485.7" r="1.1"/><circle cx="96.0" cy="496.4" r="1.1"/><circle cx="96.5" cy="494.6" r="1.1"/><circle cx="97.4" cy="494.3" r="1.1"/><circle cx="97.8" cy="493.9" r="1.1"/><circle cx="98.6" cy="500.4" r="1.1"/><circle cx="99.1" cy="494.3" r="1.1"/><circle cx="99.5" cy="489.0" r="1.1"/><circle cx="100.0" cy="491.9" r="1.1"/><circle cx="100.9" cy="500.1" r="1.1"/><circle cx="101.8" cy="491.7" r="1.1"/><circle cx="101.9" cy="493.1" r="1.1"/><circle cx="102.8" cy="494.2" r="1.1"/><circle cx="103.5" cy="493.2" r="1.1"/><circle cx="103.9" cy="497.2" r="1.1"/><circle cx="104.9" cy="491.9" r="1.1"/><circle cx="105.1" cy="493.6" r="1.1"/><circle cx="105.8" cy="494.8" r="1.1"/><circle cx="106.6" cy="495.7" r="1.1"/><circle cx="107.0" cy="492.3" r="1.1"/><circle cx="107.5" cy="493.0" r="1.1"/><circle cx="108.5" cy="491.1" r="1.1"/><circle cx="109.0" cy="502.3" r="1.1"/><circle cx="109.5" cy="494.6" r="1.1"/><circle cx="110.6" cy="488.7" r="1.1"/><circle cx="111.0" cy="498.7" r="1.1"/><circle cx="111.4" cy="495.3" r="1.1"/><circle cx="112.4" cy="495.3" r="1.1"/><circle cx="112.9" cy="492.2" r="1.1"/><circle cx="113.4" cy="492.6" r="1.1"/><circle cx="114.0" cy="494.7" r="1.1"/><circle cx="114.6" cy="493.9" r="1.1"/><circle cx="115.1" cy="495.4" r="1.1"/><circle cx="115.9" cy="496.2" r="1.1"/><circle cx="116.6" cy="493.7" r="1.1"/><circle cx="117.2" cy="486.8" r="1.1"/><circle cx="117.6" cy="491.4" r="1.1"/><circle cx="118.4" cy="495.1" r="1.1"/><circle cx="119.1" cy="500.0" r="1.1"/><circle cx="119.6" cy="492.1" r="1.1"/><circle cx="120.6" cy="496.4" r="1.1"/><circle cx="120.7" cy="494.4" r="1.1"/><circle cx="121.4" cy="493.3" r="1.1"/><circle cx="122.2" cy="494.9" r="1.1"/><circle cx="122.7" cy="494.8" r="1.1"/><circle cx="123.6" cy="493.1" r="1.1"/><circle cx="124.0" cy="492.9" r="1.1"/><circle cx="125.0" cy="492.5" r="1.1"/><circle cx="125.1" cy="492.9" r="1.1"/><circle cx="126.2" cy="493.7" r="1.1"/><circle cx="126.9" cy="496.0" r="1.1"/><circle cx="127.2" cy="494.6" r="1.1"/><circle cx="128.0" cy="495.3" r="1.1"/><circle cx="128.2" cy="492.0" r="1.1"/><circle cx="129.1" cy="491.7" r="1.1"/><circle cx="129.7" cy="494.6" r="1.1"/><circle cx="130.1" cy="495.5" r="1.1"/><circle cx="130.9" cy="493.7" r="1.1"/><circle cx="131.9" cy="493.7" r="1.1"/><circle cx="132.4" cy="495.1" r="1.1"/><circle cx="133.0" cy="493.9" r="1.1"/><circle cx="133.5" cy="491.2" r="1.1"/><circle cx="134.3" cy="492.8" r="1.1"/><circle cx="135.0" cy="494.2" r="1.1"/><circle cx="135.1" cy="492.7" r="1.1"/><circle cx="135.8" cy="493.9" r="1.1"/><circle cx="136.4" cy="496.3" r="1.1"/><circle cx="137.3" cy="493.2" r="1.1"/><circle cx="137.7" cy="494.7" r="1.1"/><circle cx="138.2" cy="494.8" r="1.1"/><circle cx="138.9" cy="494.0" r="1.1"/><circle cx="139.7" cy="490.3" r="1.1"/><circle cx="140.5" cy="498.7" r="1.1"/><circle cx="140.8" cy="499.1" r="1.1"/><circle cx="141.8" cy="492.1" r="1.1"/><circle cx="142.4" cy="495.1" r="1.1"/><circle cx="142.9" cy="490.4" r="1.1"/><circle cx="143.3" cy="494.3" r="1.1"/><circle cx="144.1" cy="494.4" r="1.1"/><circle cx="144.6" cy="493.8" r="1.1"/><circle cx="145.2" cy="493.5" r="1.1"/><circle cx="145.7" cy="494.3" r="1.1"/><circle cx="146.4" cy="500.1" r="1.1"/><circle cx="147.3" cy="494.6" r="1.1"/><circle cx="147.7" cy="493.6" r="1.1"/><circle cx="148.8" cy="487.9" r="1.1"/><circle cx="148.9" cy="493.0" r="1.1"/><circle cx="149.6" cy="495.1" r="1.1"/><circle cx="150.3" cy="485.8" r="1.1"/><circle cx="150.8" cy="494.3" r="1.1"/><circle cx="151.5" cy="491.5" r="1.1"/><circle cx="152.6" cy="493.7" r="1.1"/><circle cx="152.7" cy="487.5" r="1.1"/><circle cx="153.5" cy="495.5" r="1.1"/><circle cx="154.3" cy="494.7" r="1.1"/><circle cx="155.0" cy="500.2" r="1.1"/><circle cx="155.2" cy="494.3" r="1.1"/><circle cx="156.2" cy="489.0" r="1.1"/><circle cx="156.7" cy="493.4" r="1.1"/><circle cx="157.6" cy="494.1" r="1.1"/><circle cx="158.2" cy="498.5" r="1.1"/><circle cx="158.4" cy="493.6" r="1.1"/><circle cx="159.2" cy="493.9" r="1.1"/><circle cx="159.8" cy="494.0" r="1.1"/><circle cx="160.7" cy="490.4" r="1.1"/><circle cx="161.3" cy="494.0" r="1.1"/><circle cx="161.7" cy="492.4" r="1.1"/><circle cx="162.6" cy="495.2" r="1.1"/><circle cx="163.1" cy="495.1" r="1.1"/><circle cx="163.5" cy="492.5" r="1.1"/><circle cx="164.5" cy="492.5" r="1.1"/><circle cx="164.7" cy="492.1" r="1.1"/><circle cx="165.5" cy="490.4" r="1.1"/><circle cx="165.8" cy="493.2" r="1.1"/><circle cx="166.7" cy="493.8" r="1.1"/><circle cx="167.4" cy="494.8" r="1.1"/><circle cx="168.0" cy="499.2" r="1.1"/><circle cx="168.8" cy="493.9" r="1.1"/><circle cx="169.2" cy="492.7" r="1.1"/><circle cx="170.0" cy="495.5" r="1.1"/><circle cx="170.4" cy="491.9" r="1.1"/><circle cx="170.8" cy="495.0" r="1.1"/><circle cx="171.9" cy="491.8" r="1.1"/><circle cx="172.2" cy="494.0" r="1.1"/><circle cx="172.9" cy="485.6" r="1.1"/><circle cx="173.6" cy="493.7" r="1.1"/><circle cx="174.0" cy="488.6" r="1.1"/><circle cx="175.2" cy="492.1" r="1.1"/><circle cx="175.2" cy="492.2" r="1.1"/><circle cx="176.2" cy="493.3" r="1.1"/><circle cx="176.6" cy="493.1" r="1.1"/><circle cx="177.6" cy="494.9" r="1.1"/><circle cx="177.8" cy="494.9" r="1.1"/><circle cx="178.9" cy="493.2" r="1.1"/><circle cx="179.4" cy="492.5" r="1.1"/><circle cx="180.1" cy="493.8" r="1.1"/><circle cx="180.4" cy="491.8" r="1.1"/><circle cx="181.4" cy="493.6" r="1.1"/><circle cx="181.5" cy="493.9" r="1.1"/><circle cx="182.1" cy="495.5" r="1.1"/><circle cx="183.1" cy="491.8" r="1.1"/><circle cx="183.5" cy="493.8" r="1.1"/><circle cx="184.0" cy="494.7" r="1.1"/><circle cx="184.8" cy="492.8" r="1.1"/><circle cx="185.6" cy="500.0" r="1.1"/><circle cx="186.2" cy="495.3" r="1.1"/><circle cx="186.8" cy="494.5" r="1.1"/><circle cx="187.3" cy="493.3" r="1.1"/><circle cx="188.1" cy="494.1" r="1.1"/><circle cx="188.9" cy="493.7" r="1.1"/><circle cx="189.2" cy="493.8" r="1.1"/><circle cx="190.1" cy="494.5" r="1.1"/></g>
<line x1="42.5" y1="492.4" x2="42.5" y2="470.6" stroke="#7d917a" stroke-width="0.65"/>
<circle cx="42.5" cy="470.6" r="1.15" fill="#3a523a"/>
<line x1="44.5" y1="492.4" x2="44.5" y2="506.0" stroke="#7d917a" stroke-width="0.65"/>
<circle cx="44.5" cy="506.0" r="1.15" fill="#3a523a"/>
<line x1="79.5" y1="492.4" x2="79.5" y2="484.8" stroke="#7d917a" stroke-width="0.65"/>
<circle cx="79.5" cy="484.8" r="1.15" fill="#3a523a"/>
<line x1="81.5" y1="492.4" x2="81.5" y2="486.0" stroke="#7d917a" stroke-width="0.65"/>
<circle cx="81.5" cy="486.0" r="1.15" fill="#3a523a"/>
<line x1="84.5" y1="492.4" x2="84.5" y2="506.0" stroke="#7d917a" stroke-width="0.65"/>
<circle cx="84.5" cy="506.0" r="1.15" fill="#3a523a"/>
<line x1="79.5" y1="492.4" x2="79.5" y2="501.2" stroke="#7d917a" stroke-width="0.65"/>
<circle cx="79.5" cy="501.2" r="1.15" fill="#3a523a"/>
<line x1="94.5" y1="492.4" x2="94.5" y2="501.0" stroke="#7d917a" stroke-width="0.65"/>
<circle cx="94.5" cy="501.0" r="1.15" fill="#3a523a"/>
<line x1="95.5" y1="492.4" x2="95.5" y2="486.0" stroke="#7d917a" stroke-width="0.65"/>
<circle cx="95.5" cy="486.0" r="1.15" fill="#3a523a"/>
<line x1="160.5" y1="492.4" x2="160.5" y2="471.0" stroke="#7d917a" stroke-width="0.65"/>
<circle cx="160.5" cy="471.0" r="1.15" fill="#3a523a"/>
<line x1="127.5" y1="492.4" x2="127.5" y2="506.6" stroke="#7d917a" stroke-width="0.65"/>
<circle cx="127.5" cy="506.6" r="1.15" fill="#3a523a"/>
<line x1="111.5" y1="492.4" x2="111.5" y2="507.7" stroke="#7d917a" stroke-width="0.65"/>
<circle cx="111.5" cy="507.7" r="1.15" fill="#3a523a"/>
<line x1="152.5" y1="492.4" x2="152.5" y2="507.1" stroke="#7d917a" stroke-width="0.65"/>
<circle cx="152.5" cy="507.1" r="1.15" fill="#3a523a"/>
<line x1="182.5" y1="492.4" x2="182.5" y2="480.3" stroke="#7d917a" stroke-width="0.65"/>
<circle cx="182.5" cy="480.3" r="1.15" fill="#3a523a"/>
<line x1="54.5" y1="492.4" x2="54.5" y2="521.0" stroke="#975a40" stroke-width="0.8"/>
<circle cx="54.5" cy="521.0" r="1.15" fill="#45302a"/>
<line x1="64.5" y1="492.4" x2="64.5" y2="521.0" stroke="#975a40" stroke-width="0.8"/>
<circle cx="64.5" cy="521.0" r="1.15" fill="#45302a"/>
<line x1="66.5" y1="492.4" x2="66.5" y2="466.5" stroke="#975a40" stroke-width="0.8"/>
<circle cx="66.5" cy="466.5" r="1.15" fill="#45302a"/>
<line x1="103.5" y1="492.4" x2="103.5" y2="424.6" stroke="#975a40" stroke-width="0.8"/>
<circle cx="103.5" cy="424.6" r="1.15" fill="#45302a"/>
<line x1="108.5" y1="492.4" x2="108.5" y2="461.6" stroke="#975a40" stroke-width="0.8"/>
<circle cx="108.5" cy="461.6" r="1.15" fill="#45302a"/>
<line x1="144.5" y1="492.4" x2="144.5" y2="436.1" stroke="#975a40" stroke-width="0.8"/>
<circle cx="144.5" cy="436.1" r="1.15" fill="#45302a"/>
<line x1="144.5" y1="492.4" x2="144.5" y2="515.2" stroke="#975a40" stroke-width="0.8"/>
<circle cx="144.5" cy="515.2" r="1.15" fill="#45302a"/>
<line x1="148.5" y1="492.4" x2="148.5" y2="448.2" stroke="#975a40" stroke-width="0.8"/>
<circle cx="148.5" cy="448.2" r="1.15" fill="#45302a"/>
<line x1="169.5" y1="492.4" x2="169.5" y2="516.5" stroke="#975a40" stroke-width="0.8"/>
<circle cx="169.5" cy="516.5" r="1.15" fill="#45302a"/>
<line x1="188.5" y1="492.4" x2="188.5" y2="464.2" stroke="#975a40" stroke-width="0.8"/>
<circle cx="188.5" cy="464.2" r="1.15" fill="#45302a"/>
<line x1="182.6" y1="425.3" x2="182.6" y2="522.3" stroke="#6468d0" stroke-width="0.7" stroke-dasharray="1.1 0.5"/>
<line x1="189.3" y1="425.3" x2="189.3" y2="522.3" stroke="#6468d0" stroke-width="0.7" stroke-dasharray="1.1 0.5"/>
</g>
<rect x="19.5" y="420.4" width="178.5" height="106.4" fill="none" stroke="#555" stroke-width="0.6"/>
<line x1="17.9" y1="432.7" x2="19.5" y2="432.7" stroke="#333" stroke-width="0.6"/>
<text x="17.9" y="434.5" text-anchor="end" font-size="3.6" class="tk">0.15</text>
<line x1="17.9" y1="452.6" x2="19.5" y2="452.6" stroke="#333" stroke-width="0.6"/>
<text x="17.9" y="454.4" text-anchor="end" font-size="3.6" class="tk">0.10</text>
<line x1="17.9" y1="472.5" x2="19.5" y2="472.5" stroke="#333" stroke-width="0.6"/>
<text x="17.9" y="474.3" text-anchor="end" font-size="3.6" class="tk">0.05</text>
<line x1="17.9" y1="492.4" x2="19.5" y2="492.4" stroke="#333" stroke-width="0.6"/>
<text x="17.9" y="494.2" text-anchor="end" font-size="3.6" class="tk">0.00</text>
<line x1="17.9" y1="512.3" x2="19.5" y2="512.3" stroke="#333" stroke-width="0.6"/>
<text x="17.9" y="514.1" text-anchor="end" font-size="3.6" class="tk">−0.05</text>
<line x1="27.9" y1="526.8" x2="27.9" y2="528.1" stroke="#555" stroke-width="0.5"/>
<text transform="translate(29.1,529.7) rotate(-90)" text-anchor="end" font-size="3.4" class="xt">15:43</text>
<line x1="29.0" y1="526.8" x2="29.0" y2="528.1" stroke="#555" stroke-width="0.5"/>
<text transform="translate(30.2,529.7) rotate(-90)" text-anchor="end" font-size="3.4" class="xt">15:43</text>
<line x1="35.1" y1="526.8" x2="35.1" y2="528.1" stroke="#555" stroke-width="0.5"/>
<text transform="translate(36.3,529.7) rotate(-90)" text-anchor="end" font-size="3.4" class="xt">15:43</text>
<line x1="48.0" y1="526.8" x2="48.0" y2="528.1" stroke="#555" stroke-width="0.5"/>
<text transform="translate(49.2,529.7) rotate(-90)" text-anchor="end" font-size="3.4" class="xt">15:43</text>
<line x1="52.5" y1="526.8" x2="52.5" y2="528.1" stroke="#555" stroke-width="0.5"/>
<text transform="translate(53.7,529.7) rotate(-90)" text-anchor="end" font-size="3.4" class="xt">15:43</text>
<line x1="64.8" y1="526.8" x2="64.8" y2="528.1" stroke="#555" stroke-width="0.5"/>
<text transform="translate(66.0,529.7) rotate(-90)" text-anchor="end" font-size="3.4" class="xt">15:43</text>
<line x1="70.4" y1="526.8" x2="70.4" y2="528.1" stroke="#555" stroke-width="0.5"/>
<text transform="translate(71.6,529.7) rotate(-90)" text-anchor="end" font-size="3.4" class="xt">15:43</text>
<line x1="76.6" y1="526.8" x2="76.6" y2="528.1" stroke="#555" stroke-width="0.5"/>
<text transform="translate(77.8,529.7) rotate(-90)" text-anchor="end" font-size="3.4" class="xt">15:43</text>
<line x1="84.9" y1="526.8" x2="84.9" y2="528.1" stroke="#555" stroke-width="0.5"/>
<text transform="translate(86.1,529.7) rotate(-90)" text-anchor="end" font-size="3.4" class="xt">15:43</text>
<line x1="91.6" y1="526.8" x2="91.6" y2="528.1" stroke="#555" stroke-width="0.5"/>
<text transform="translate(92.8,529.7) rotate(-90)" text-anchor="end" font-size="3.4" class="xt">15:43</text>
<line x1="99.4" y1="526.8" x2="99.4" y2="528.1" stroke="#555" stroke-width="0.5"/>
<text transform="translate(100.6,529.7) rotate(-90)" text-anchor="end" font-size="3.4" class="xt">15:43</text>
<line x1="106.1" y1="526.8" x2="106.1" y2="528.1" stroke="#555" stroke-width="0.5"/>
<text transform="translate(107.3,529.7) rotate(-90)" text-anchor="end" font-size="3.4" class="xt">15:43</text>
<line x1="111.7" y1="526.8" x2="111.7" y2="528.1" stroke="#555" stroke-width="0.5"/>
<text transform="translate(112.9,529.7) rotate(-90)" text-anchor="end" font-size="3.4" class="xt">15:43</text>
<line x1="119.0" y1="526.8" x2="119.0" y2="528.1" stroke="#555" stroke-width="0.5"/>
<text transform="translate(120.2,529.7) rotate(-90)" text-anchor="end" font-size="3.4" class="xt">15:43</text>
<line x1="122.0" y1="526.8" x2="122.0" y2="528.1" stroke="#555" stroke-width="0.5"/>
<text transform="translate(123.2,529.7) rotate(-90)" text-anchor="end" font-size="3.4" class="xt">15:43</text>
<line x1="125.1" y1="526.8" x2="125.1" y2="528.1" stroke="#555" stroke-width="0.5"/>
<text transform="translate(126.3,529.7) rotate(-90)" text-anchor="end" font-size="3.4" class="xt">15:43</text>
<line x1="130.2" y1="526.8" x2="130.2" y2="528.1" stroke="#555" stroke-width="0.5"/>
<text transform="translate(131.4,529.7) rotate(-90)" text-anchor="end" font-size="3.4" class="xt">15:43</text>
<line x1="134.7" y1="526.8" x2="134.7" y2="528.1" stroke="#555" stroke-width="0.5"/>
<text transform="translate(135.9,529.7) rotate(-90)" text-anchor="end" font-size="3.4" class="xt">15:43</text>
<line x1="139.1" y1="526.8" x2="139.1" y2="528.1" stroke="#555" stroke-width="0.5"/>
<text transform="translate(140.3,529.7) rotate(-90)" text-anchor="end" font-size="3.4" class="xt">15:43</text>
<line x1="145.8" y1="526.8" x2="145.8" y2="528.1" stroke="#555" stroke-width="0.5"/>
<text transform="translate(147.0,529.7) rotate(-90)" text-anchor="end" font-size="3.4" class="xt">15:43</text>
<line x1="155.9" y1="526.8" x2="155.9" y2="528.1" stroke="#555" stroke-width="0.5"/>
<text transform="translate(157.1,529.7) rotate(-90)" text-anchor="end" font-size="3.4" class="xt">15:43</text>
<line x1="163.7" y1="526.8" x2="163.7" y2="528.1" stroke="#555" stroke-width="0.5"/>
<text transform="translate(164.9,529.7) rotate(-90)" text-anchor="end" font-size="3.4" class="xt">15:43</text>
<line x1="172.6" y1="526.8" x2="172.6" y2="528.1" stroke="#555" stroke-width="0.5"/>
<text transform="translate(173.8,529.7) rotate(-90)" text-anchor="end" font-size="3.4" class="xt">15:43</text>
<line x1="177.1" y1="526.8" x2="177.1" y2="528.1" stroke="#555" stroke-width="0.5"/>
<text transform="translate(178.3,529.7) rotate(-90)" text-anchor="end" font-size="3.4" class="xt">15:43</text>
<line x1="181.6" y1="526.8" x2="181.6" y2="528.1" stroke="#555" stroke-width="0.5"/>
<text transform="translate(182.8,529.7) rotate(-90)" text-anchor="end" font-size="3.4" class="xt">15:43</text>
<line x1="183.8" y1="526.8" x2="183.8" y2="528.1" stroke="#555" stroke-width="0.5"/>
<text transform="translate(185.0,529.7) rotate(-90)" text-anchor="end" font-size="3.4" class="xt">15:43:00</text>
<line x1="189.4" y1="526.8" x2="189.4" y2="528.1" stroke="#555" stroke-width="0.5"/>
<text transform="translate(190.6,529.7) rotate(-90)" text-anchor="end" font-size="3.4" class="xt">15:43:00</text>
<text x="108.8" y="418.8" text-anchor="middle" font-size="4.2">ATM_2021-11-12 15:43</text>
<text x="108.8" y="547.6" text-anchor="middle" font-size="3.7">datetime</text>
<text transform="translate(5.7,473.6) rotate(-90)" text-anchor="middle" font-size="3.6">bs_volume</text>
<rect x="151.6" y="421.6" width="45.0" height="10.8" rx="0.8" fill="#fff" fill-opacity="0.82" stroke="#d0d0d0" stroke-width="0.4"/>
<line x1="152.9" y1="424.4" x2="159.6" y2="424.4" stroke="#6468d0" stroke-width="0.6" stroke-dasharray="1.3 0.8"/>
<line x1="152.9" y1="429.4" x2="159.6" y2="429.4" stroke="#d2c050" stroke-width="0.7" stroke-dasharray="1.6 0.9"/>
<text x="161.9" y="426.5" font-size="3.6">2021-11-12 15:43</text>
<text x="161.9" y="430.7" font-size="3.6">anomalous volumes</text>
<clipPath id="c8"><rect x="221.4" y="420.4" width="178.5" height="106.4"/></clipPath>
<g clip-path="url(#c8)">
<rect x="230.5" y="439.5" width="160.3" height="9.0" fill="#e4faf7"/>
<rect x="257.0" y="424.0" width="14.0" height="20.0" fill="#fdf3f3"/>
<rect x="259.9" y="432.3" width="4.3" height="8.0" fill="#c9d6c2"/>
<rect x="318.5" y="444.0" width="2.5" height="28.0" fill="#fdf3f3"/>
<rect x="325.5" y="444.0" width="2.5" height="18.0" fill="#fdf3f3"/>
<rect x="330.5" y="444.0" width="3.0" height="78.0" fill="#fdf3f3"/>
<rect x="342.5" y="444.0" width="3.0" height="59.0" fill="#fdf3f3"/>
<rect x="380.0" y="425.0" width="3.0" height="19.0" fill="#fdf3f3"/>
<line x1="229.5" y1="427.6" x2="391.8" y2="427.6" stroke="#d2c050" stroke-width="0.8" stroke-dasharray="0.9 0.4"/>
<line x1="229.5" y1="461.0" x2="391.8" y2="461.0" stroke="#d2c050" stroke-width="0.8" stroke-dasharray="0.9 0.4"/>
<line x1="229.5" y1="444.1" x2="391.8" y2="444.1" stroke="#32622f" stroke-width="2.2"/>
<path d="M229.4,444.1V445.0M230.3,444.1V446.3M231.3,444.1V443.9M231.7,444.1V443.6M232.6,444.1V442.7M233.4,444.1V445.0M234.6,444.1V446.3M235.4,444.1V445.0M236.3,444.1V447.1M237.1,444.1V443.9M237.4,444.1V443.0M238.5,444.1V444.1M239.2,444.1V444.8M240.3,444.1V440.8M240.9,444.1V443.4M241.7,444.1V444.8M242.8,444.1V443.7M243.4,444.1V442.7M244.1,444.1V442.4M244.9,444.1V450.0M246.0,444.1V450.0M246.6,444.1V443.2M247.6,444.1V443.8M248.0,444.1V445.5M249.3,444.1V445.8M249.6,444.1V443.3M251.0,444.1V443.9M251.8,444.1V443.8M252.4,444.1V444.0M253.3,444.1V442.2M253.7,444.1V443.6M254.7,444.1V442.8M255.3,444.1V444.5M256.7,444.1V443.6M257.2,444.1V444.0M258.0,444.1V442.7M259.0,444.1V443.0M260.0,444.1V447.3M260.4,444.1V442.9M261.3,444.1V445.1M261.9,444.1V444.8M262.9,444.1V446.1M263.8,444.1V443.5M264.3,444.1V442.8M265.1,444.1V446.2M266.1,444.1V443.8M267.3,444.1V442.9M267.7,444.1V446.6M268.9,444.1V443.8M269.6,444.1V447.6M270.5,444.1V443.4M270.9,444.1V445.3M272.1,444.1V444.8M272.4,444.1V443.2M273.7,444.1V445.2M274.6,444.1V444.1M275.1,444.1V444.6M276.1,444.1V446.0M276.8,444.1V443.4M277.8,444.1V444.4M278.3,444.1V443.5M279.1,444.1V446.0M280.3,444.1V445.0M280.7,444.1V445.9M281.6,444.1V443.6M282.3,444.1V438.7M283.1,444.1V443.9M284.2,444.1V445.3M284.8,444.1V442.9M285.7,444.1V445.3M286.5,444.1V443.0M287.6,444.1V448.4M288.3,444.1V445.8M289.2,444.1V443.0M289.7,444.1V440.7M290.7,444.1V444.9M291.7,444.1V443.7M292.4,444.1V444.6M292.9,444.1V447.9M293.8,444.1V442.8M294.8,444.1V445.0M295.5,444.1V444.6M296.3,444.1V441.3M297.4,444.1V444.0M297.8,444.1V442.0M298.9,444.1V444.3M299.5,444.1V449.7M300.2,444.1V444.4M301.5,444.1V444.4M302.3,444.1V443.3M303.1,444.1V443.0M303.9,444.1V442.7M304.5,444.1V443.4M305.3,444.1V443.4M306.2,444.1V442.8M307.1,444.1V447.6M308.0,444.1V443.6M308.8,444.1V445.3M309.7,444.1V439.2M310.0,444.1V442.9M311.1,444.1V443.4M311.9,444.1V444.6M312.4,444.1V444.6M313.4,444.1V444.7M314.6,444.1V442.9M315.4,444.1V442.4M316.1,444.1V439.2M316.8,444.1V446.9M317.5,444.1V448.1M318.6,444.1V447.5M319.2,444.1V445.6M320.0,444.1V443.6M321.0,444.1V445.6M321.7,444.1V444.1M322.5,444.1V441.3M323.4,444.1V443.7M324.4,444.1V443.9M325.1,444.1V445.3M325.8,444.1V444.6M326.6,444.1V444.0M327.4,444.1V443.6M328.2,444.1V443.2M328.9,444.1V445.6M329.8,444.1V444.9M330.4,444.1V446.0M331.4,444.1V443.9M332.3,444.1V441.1M333.1,444.1V444.8M334.1,444.1V439.6M334.9,444.1V444.0M335.3,444.1V444.2M336.3,444.1V440.4M337.4,444.1V446.1M337.9,444.1V444.0M338.9,444.1V445.5M339.8,444.1V443.5M340.4,444.1V444.1M341.0,444.1V443.2M342.1,444.1V444.6M343.1,444.1V443.3M343.8,444.1V445.0M344.5,444.1V444.2M345.2,444.1V443.5M346.1,444.1V444.4M347.2,444.1V445.5M347.9,444.1V443.8M348.4,444.1V445.1M349.3,444.1V443.6M350.5,444.1V443.2M351.3,444.1V444.4M352.0,444.1V445.0M352.6,444.1V443.4M353.4,444.1V442.3M354.4,444.1V444.7M354.8,444.1V445.4M355.8,444.1V443.1M356.8,444.1V444.5M357.7,444.1V443.4M358.5,444.1V444.0M359.5,444.1V444.0M359.9,444.1V444.9M361.0,444.1V443.8M361.4,444.1V444.9M362.5,444.1V449.5M363.1,444.1V445.4M364.2,444.1V443.1M365.0,444.1V443.2M365.8,444.1V444.9M366.6,444.1V442.5M367.2,444.1V439.1M368.1,444.1V444.9M368.8,444.1V442.9M369.8,444.1V443.1M370.5,444.1V444.5M371.3,444.1V444.5M372.3,444.1V444.1M373.2,444.1V442.7M373.6,444.1V449.4M374.6,444.1V444.8M375.8,444.1V443.3M376.4,444.1V441.9M377.0,444.1V448.8M378.1,444.1V446.1M378.9,444.1V444.0M379.8,444.1V442.5M380.2,444.1V441.1M381.4,444.1V443.4M381.9,444.1V443.7M382.6,444.1V442.0M383.6,444.1V444.4M384.7,444.1V449.8M385.5,444.1V447.7M386.2,444.1V443.2M386.6,444.1V442.6M387.7,444.1V444.9M388.5,444.1V444.2M389.5,444.1V444.0M389.9,444.1V442.6M390.9,444.1V446.7M392.0,444.1V446.5" fill="none" stroke="#5a7a55" stroke-width="0.45"/>
<path d="M229.4,445.0L230.3,446.3L231.3,443.9L231.7,443.6L232.6,442.7L233.4,445.0L234.6,446.3L235.4,445.0L236.3,447.1L237.1,443.9L237.4,443.0L238.5,444.1L239.2,444.8L240.3,440.8L240.9,443.4L241.7,444.8L242.8,443.7L243.4,442.7L244.1,442.4L244.9,450.0L246.0,450.0L246.6,443.2L247.6,443.8L248.0,445.5L249.3,445.8L249.6,443.3L251.0,443.9L251.8,443.8L252.4,444.0L253.3,442.2L253.7,443.6L254.7,442.8L255.3,444.5L256.7,443.6L257.2,444.0L258.0,442.7L259.0,443.0L260.0,447.3L260.4,442.9L261.3,445.1L261.9,444.8L262.9,446.1L263.8,443.5L264.3,442.8L265.1,446.2L266.1,443.8L267.3,442.9L267.7,446.6L268.9,443.8L269.6,447.6L270.5,443.4L270.9,445.3L272.1,444.8L272.4,443.2L273.7,445.2L274.6,444.1L275.1,444.6L276.1,446.0L276.8,443.4L277.8,444.4L278.3,443.5L279.1,446.0L280.3,445.0L280.7,445.9L281.6,443.6L282.3,438.7L283.1,443.9L284.2,445.3L284.8,442.9L285.7,445.3L286.5,443.0L287.6,448.4L288.3,445.8L289.2,443.0L289.7,440.7L290.7,444.9L291.7,443.7L292.4,444.6L292.9,447.9L293.8,442.8L294.8,445.0L295.5,444.6L296.3,441.3L297.4,444.0L297.8,442.0L298.9,444.3L299.5,449.7L300.2,444.4L301.5,444.4L302.3,443.3L303.1,443.0L303.9,442.7L304.5,443.4L305.3,443.4L306.2,442.8L307.1,447.6L308.0,443.6L308.8,445.3L309.7,439.2L310.0,442.9L311.1,443.4L311.9,444.6L312.4,444.6L313.4,444.7L314.6,442.9L315.4,442.4L316.1,439.2L316.8,446.9L317.5,448.1L318.6,447.5L319.2,445.6L320.0,443.6L321.0,445.6L321.7,444.1L322.5,441.3L323.4,443.7L324.4,443.9L325.1,445.3L325.8,444.6L326.6,444.0L327.4,443.6L328.2,443.2L328.9,445.6L329.8,444.9L330.4,446.0L331.4,443.9L332.3,441.1L333.1,444.8L334.1,439.6L334.9,444.0L335.3,444.2L336.3,440.4L337.4,446.1L337.9,444.0L338.9,445.5L339.8,443.5L340.4,444.1L341.0,443.2L342.1,444.6L343.1,443.3L343.8,445.0L344.5,444.2L345.2,443.5L346.1,444.4L347.2,445.5L347.9,443.8L348.4,445.1L349.3,443.6L350.5,443.2L351.3,444.4L352.0,445.0L352.6,443.4L353.4,442.3L354.4,444.7L354.8,445.4L355.8,443.1L356.8,444.5L357.7,443.4L358.5,444.0L359.5,444.0L359.9,444.9L361.0,443.8L361.4,444.9L362.5,449.5L363.1,445.4L364.2,443.1L365.0,443.2L365.8,444.9L366.6,442.5L367.2,439.1L368.1,444.9L368.8,442.9L369.8,443.1L370.5,444.5L371.3,444.5L372.3,444.1L373.2,442.7L373.6,449.4L374.6,444.8L375.8,443.3L376.4,441.9L377.0,448.8L378.1,446.1L378.9,444.0L379.8,442.5L380.2,441.1L381.4,443.4L381.9,443.7L382.6,442.0L383.6,444.4L384.7,449.8L385.5,447.7L386.2,443.2L386.6,442.6L387.7,444.9L388.5,444.2L389.5,444.0L389.9,442.6L390.9,446.7L392.0,446.5" fill="none" stroke="#2e7a34" stroke-width="0.5" stroke-linejoin="round"/>
<g fill="#2e6e38"><circle cx="229.4" cy="445.0" r="1.1"/><circle cx="230.3" cy="446.3" r="1.1"/><circle cx="231.3" cy="443.9" r="1.1"/><circle cx="231.7" cy="443.6" r="1.1"/><circle cx="232.6" cy="442.7" r="1.1"/><circle cx="233.4" cy="445.0" r="1.1"/><circle cx="234.6" cy="446.3" r="1.1"/><circle cx="235.4" cy="445.0" r="1.1"/><circle cx="236.3" cy="447.1" r="1.1"/><circle cx="237.1" cy="443.9" r="1.1"/><circle cx="237.4" cy="443.0" r="1.1"/><circle cx="238.5" cy="444.1" r="1.1"/><circle cx="239.2" cy="444.8" r="1.1"/><circle cx="240.3" cy="440.8" r="1.1"/><circle cx="240.9" cy="443.4" r="1.1"/><circle cx="241.7" cy="444.8" r="1.1"/><circle cx="242.8" cy="443.7" r="1.1"/><circle cx="243.4" cy="442.7" r="1.1"/><circle cx="244.1" cy="442.4" r="1.1"/><circle cx="244.9" cy="450.0" r="1.1"/><circle cx="246.0" cy="450.0" r="1.1"/><circle cx="246.6" cy="443.2" r="1.1"/><circle cx="247.6" cy="443.8" r="1.1"/><circle cx="248.0" cy="445.5" r="1.1"/><circle cx="249.3" cy="445.8" r="1.1"/><circle cx="249.6" cy="443.3" r="1.1"/><circle cx="251.0" cy="443.9" r="1.1"/><circle cx="251.8" cy="443.8" r="1.1"/><circle cx="252.4" cy="444.0" r="1.1"/><circle cx="253.3" cy="442.2" r="1.1"/><circle cx="253.7" cy="443.6" r="1.1"/><circle cx="254.7" cy="442.8" r="1.1"/><circle cx="255.3" cy="444.5" r="1.1"/><circle cx="256.7" cy="443.6" r="1.1"/><circle cx="257.2" cy="444.0" r="1.1"/><circle cx="258.0" cy="442.7" r="1.1"/><circle cx="259.0" cy="443.0" r="1.1"/><circle cx="260.0" cy="447.3" r="1.1"/><circle cx="260.4" cy="442.9" r="1.1"/><circle cx="261.3" cy="445.1" r="1.1"/><circle cx="261.9" cy="444.8" r="1.1"/><circle cx="262.9" cy="446.1" r="1.1"/><circle cx="263.8" cy="443.5" r="1.1"/><circle cx="264.3" cy="442.8" r="1.1"/><circle cx="265.1" cy="446.2" r="1.1"/><circle cx="266.1" cy="443.8" r="1.1"/><circle cx="267.3" cy="442.9" r="1.1"/><circle cx="267.7" cy="446.6" r="1.1"/><circle cx="268.9" cy="443.8" r="1.1"/><circle cx="269.6" cy="447.6" r="1.1"/><circle cx="270.5" cy="443.4" r="1.1"/><circle cx="270.9" cy="445.3" r="1.1"/><circle cx="272.1" cy="444.8" r="1.1"/><circle cx="272.4" cy="443.2" r="1.1"/><circle cx="273.7" cy="445.2" r="1.1"/><circle cx="274.6" cy="444.1" r="1.1"/><circle cx="275.1" cy="444.6" r="1.1"/><circle cx="276.1" cy="446.0" r="1.1"/><circle cx="276.8" cy="443.4" r="1.1"/><circle cx="277.8" cy="444.4" r="1.1"/><circle cx="278.3" cy="443.5" r="1.1"/><circle cx="279.1" cy="446.0" r="1.1"/><circle cx="280.3" cy="445.0" r="1.1"/><circle cx="280.7" cy="445.9" r="1.1"/><circle cx="281.6" cy="443.6" r="1.1"/><circle cx="282.3" cy="438.7" r="1.1"/><circle cx="283.1" cy="443.9" r="1.1"/><circle cx="284.2" cy="445.3" r="1.1"/><circle cx="284.8" cy="442.9" r="1.1"/><circle cx="285.7" cy="445.3" r="1.1"/><circle cx="286.5" cy="443.0" r="1.1"/><circle cx="287.6" cy="448.4" r="1.1"/><circle cx="288.3" cy="445.8" r="1.1"/><circle cx="289.2" cy="443.0" r="1.1"/><circle cx="289.7" cy="440.7" r="1.1"/><circle cx="290.7" cy="444.9" r="1.1"/><circle cx="291.7" cy="443.7" r="1.1"/><circle cx="292.4" cy="444.6" r="1.1"/><circle cx="292.9" cy="447.9" r="1.1"/><circle cx="293.8" cy="442.8" r="1.1"/><circle cx="294.8" cy="445.0" r="1.1"/><circle cx="295.5" cy="444.6" r="1.1"/><circle cx="296.3" cy="441.3" r="1.1"/><circle cx="297.4" cy="444.0" r="1.1"/><circle cx="297.8" cy="442.0" r="1.1"/><circle cx="298.9" cy="444.3" r="1.1"/><circle cx="299.5" cy="449.7" r="1.1"/><circle cx="300.2" cy="444.4" r="1.1"/><circle cx="301.5" cy="444.4" r="1.1"/><circle cx="302.3" cy="443.3" r="1.1"/><circle cx="303.1" cy="443.0" r="1.1"/><circle cx="303.9" cy="442.7" r="1.1"/><circle cx="304.5" cy="443.4" r="1.1"/><circle cx="305.3" cy="443.4" r="1.1"/><circle cx="306.2" cy="442.8" r="1.1"/><circle cx="307.1" cy="447.6" r="1.1"/><circle cx="308.0" cy="443.6" r="1.1"/><circle cx="308.8" cy="445.3" r="1.1"/><circle cx="309.7" cy="439.2" r="1.1"/><circle cx="310.0" cy="442.9" r="1.1"/><circle cx="311.1" cy="443.4" r="1.1"/><circle cx="311.9" cy="444.6" r="1.1"/><circle cx="312.4" cy="444.6" r="1.1"/><circle cx="313.4" cy="444.7" r="1.1"/><circle cx="314.6" cy="442.9" r="1.1"/><circle cx="315.4" cy="442.4" r="1.1"/><circle cx="316.1" cy="439.2" r="1.1"/><circle cx="316.8" cy="446.9" r="1.1"/><circle cx="317.5" cy="448.1" r="1.1"/><circle cx="318.6" cy="447.5" r="1.1"/><circle cx="319.2" cy="445.6" r="1.1"/><circle cx="320.0" cy="443.6" r="1.1"/><circle cx="321.0" cy="445.6" r="1.1"/><circle cx="321.7" cy="444.1" r="1.1"/><circle cx="322.5" cy="441.3" r="1.1"/><circle cx="323.4" cy="443.7" r="1.1"/><circle cx="324.4" cy="443.9" r="1.1"/><circle cx="325.1" cy="445.3" r="1.1"/><circle cx="325.8" cy="444.6" r="1.1"/><circle cx="326.6" cy="444.0" r="1.1"/><circle cx="327.4" cy="443.6" r="1.1"/><circle cx="328.2" cy="443.2" r="1.1"/><circle cx="328.9" cy="445.6" r="1.1"/><circle cx="329.8" cy="444.9" r="1.1"/><circle cx="330.4" cy="446.0" r="1.1"/><circle cx="331.4" cy="443.9" r="1.1"/><circle cx="332.3" cy="441.1" r="1.1"/><circle cx="333.1" cy="444.8" r="1.1"/><circle cx="334.1" cy="439.6" r="1.1"/><circle cx="334.9" cy="444.0" r="1.1"/><circle cx="335.3" cy="444.2" r="1.1"/><circle cx="336.3" cy="440.4" r="1.1"/><circle cx="337.4" cy="446.1" r="1.1"/><circle cx="337.9" cy="444.0" r="1.1"/><circle cx="338.9" cy="445.5" r="1.1"/><circle cx="339.8" cy="443.5" r="1.1"/><circle cx="340.4" cy="444.1" r="1.1"/><circle cx="341.0" cy="443.2" r="1.1"/><circle cx="342.1" cy="444.6" r="1.1"/><circle cx="343.1" cy="443.3" r="1.1"/><circle cx="343.8" cy="445.0" r="1.1"/><circle cx="344.5" cy="444.2" r="1.1"/><circle cx="345.2" cy="443.5" r="1.1"/><circle cx="346.1" cy="444.4" r="1.1"/><circle cx="347.2" cy="445.5" r="1.1"/><circle cx="347.9" cy="443.8" r="1.1"/><circle cx="348.4" cy="445.1" r="1.1"/><circle cx="349.3" cy="443.6" r="1.1"/><circle cx="350.5" cy="443.2" r="1.1"/><circle cx="351.3" cy="444.4" r="1.1"/><circle cx="352.0" cy="445.0" r="1.1"/><circle cx="352.6" cy="443.4" r="1.1"/><circle cx="353.4" cy="442.3" r="1.1"/><circle cx="354.4" cy="444.7" r="1.1"/><circle cx="354.8" cy="445.4" r="1.1"/><circle cx="355.8" cy="443.1" r="1.1"/><circle cx="356.8" cy="444.5" r="1.1"/><circle cx="357.7" cy="443.4" r="1.1"/><circle cx="358.5" cy="444.0" r="1.1"/><circle cx="359.5" cy="444.0" r="1.1"/><circle cx="359.9" cy="444.9" r="1.1"/><circle cx="361.0" cy="443.8" r="1.1"/><circle cx="361.4" cy="444.9" r="1.1"/><circle cx="362.5" cy="449.5" r="1.1"/><circle cx="363.1" cy="445.4" r="1.1"/><circle cx="364.2" cy="443.1" r="1.1"/><circle cx="365.0" cy="443.2" r="1.1"/><circle cx="365.8" cy="444.9" r="1.1"/><circle cx="366.6" cy="442.5" r="1.1"/><circle cx="367.2" cy="439.1" r="1.1"/><circle cx="368.1" cy="444.9" r="1.1"/><circle cx="368.8" cy="442.9" r="1.1"/><circle cx="369.8" cy="443.1" r="1.1"/><circle cx="370.5" cy="444.5" r="1.1"/><circle cx="371.3" cy="444.5" r="1.1"/><circle cx="372.3" cy="444.1" r="1.1"/><circle cx="373.2" cy="442.7" r="1.1"/><circle cx="373.6" cy="449.4" r="1.1"/><circle cx="374.6" cy="444.8" r="1.1"/><circle cx="375.8" cy="443.3" r="1.1"/><circle cx="376.4" cy="441.9" r="1.1"/><circle cx="377.0" cy="448.8" r="1.1"/><circle cx="378.1" cy="446.1" r="1.1"/><circle cx="378.9" cy="444.0" r="1.1"/><circle cx="379.8" cy="442.5" r="1.1"/><circle cx="380.2" cy="441.1" r="1.1"/><circle cx="381.4" cy="443.4" r="1.1"/><circle cx="381.9" cy="443.7" r="1.1"/><circle cx="382.6" cy="442.0" r="1.1"/><circle cx="383.6" cy="444.4" r="1.1"/><circle cx="384.7" cy="449.8" r="1.1"/><circle cx="385.5" cy="447.7" r="1.1"/><circle cx="386.2" cy="443.2" r="1.1"/><circle cx="386.6" cy="442.6" r="1.1"/><circle cx="387.7" cy="444.9" r="1.1"/><circle cx="388.5" cy="444.2" r="1.1"/><circle cx="389.5" cy="444.0" r="1.1"/><circle cx="389.9" cy="442.6" r="1.1"/><circle cx="390.9" cy="446.7" r="1.1"/><circle cx="392.0" cy="446.5" r="1.1"/></g>
<line x1="253.5" y1="444.1" x2="253.5" y2="433.7" stroke="#7d917a" stroke-width="0.65"/>
<circle cx="253.5" cy="433.7" r="1.15" fill="#3a523a"/>
<line x1="348.5" y1="444.1" x2="348.5" y2="434.8" stroke="#7d917a" stroke-width="0.65"/>
<circle cx="348.5" cy="434.8" r="1.15" fill="#3a523a"/>
<line x1="333.5" y1="444.1" x2="333.5" y2="438.0" stroke="#7d917a" stroke-width="0.65"/>
<circle cx="333.5" cy="438.0" r="1.15" fill="#3a523a"/>
<line x1="372.5" y1="444.1" x2="372.5" y2="438.0" stroke="#7d917a" stroke-width="0.65"/>
<circle cx="372.5" cy="438.0" r="1.15" fill="#3a523a"/>
<line x1="377.5" y1="444.1" x2="377.5" y2="434.2" stroke="#7d917a" stroke-width="0.65"/>
<circle cx="377.5" cy="434.2" r="1.15" fill="#3a523a"/>
<line x1="313.5" y1="444.1" x2="313.5" y2="438.8" stroke="#7d917a" stroke-width="0.65"/>
<circle cx="313.5" cy="438.8" r="1.15" fill="#3a523a"/>
<line x1="324.5" y1="444.1" x2="324.5" y2="450.3" stroke="#7d917a" stroke-width="0.65"/>
<circle cx="324.5" cy="450.3" r="1.15" fill="#3a523a"/>
<line x1="328.5" y1="444.1" x2="328.5" y2="455.7" stroke="#7d917a" stroke-width="0.65"/>
<circle cx="328.5" cy="455.7" r="1.15" fill="#3a523a"/>
<line x1="344.5" y1="444.1" x2="344.5" y2="461.6" stroke="#7d917a" stroke-width="0.65"/>
<circle cx="344.5" cy="461.6" r="1.15" fill="#3a523a"/>
<line x1="261.5" y1="444.1" x2="261.5" y2="425.0" stroke="#975a40" stroke-width="0.8"/>
<circle cx="261.5" cy="425.0" r="1.15" fill="#45302a"/>
<line x1="265.5" y1="444.1" x2="265.5" y2="426.4" stroke="#975a40" stroke-width="0.8"/>
<circle cx="265.5" cy="426.4" r="1.15" fill="#45302a"/>
<line x1="319.5" y1="444.1" x2="319.5" y2="471.7" stroke="#975a40" stroke-width="0.8"/>
<circle cx="319.5" cy="471.7" r="1.15" fill="#45302a"/>
<line x1="326.5" y1="444.1" x2="326.5" y2="462.1" stroke="#975a40" stroke-width="0.8"/>
<circle cx="326.5" cy="462.1" r="1.15" fill="#45302a"/>
<line x1="332.5" y1="444.1" x2="332.5" y2="521.9" stroke="#975a40" stroke-width="0.8"/>
<circle cx="332.5" cy="521.9" r="1.15" fill="#45302a"/>
<line x1="344.5" y1="444.1" x2="344.5" y2="503.1" stroke="#975a40" stroke-width="0.8"/>
<circle cx="344.5" cy="503.1" r="1.15" fill="#45302a"/>
<line x1="381.5" y1="444.1" x2="381.5" y2="424.8" stroke="#975a40" stroke-width="0.8"/>
<circle cx="381.5" cy="424.8" r="1.15" fill="#45302a"/>
<line x1="382.1" y1="425.3" x2="382.1" y2="522.3" stroke="#6468d0" stroke-width="0.7" stroke-dasharray="1.1 0.5"/>
<line x1="391.5" y1="425.3" x2="391.5" y2="522.3" stroke="#6468d0" stroke-width="0.7" stroke-dasharray="1.1 0.5"/>
</g>
<rect x="221.4" y="420.4" width="178.5" height="106.4" fill="none" stroke="#555" stroke-width="0.6"/>
<line x1="219.8" y1="425.9" x2="221.4" y2="425.9" stroke="#333" stroke-width="0.6"/>
<text x="219.8" y="427.7" text-anchor="end" font-size="3.6" class="tk">0.05</text>
<line x1="219.8" y1="444.1" x2="221.4" y2="444.1" stroke="#333" stroke-width="0.6"/>
<text x="219.8" y="445.9" text-anchor="end" font-size="3.6" class="tk">0.00</text>
<line x1="219.8" y1="462.3" x2="221.4" y2="462.3" stroke="#333" stroke-width="0.6"/>
<text x="219.8" y="464.1" text-anchor="end" font-size="3.6" class="tk">−0.05</text>
<line x1="219.8" y1="480.5" x2="221.4" y2="480.5" stroke="#333" stroke-width="0.6"/>
<text x="219.8" y="482.3" text-anchor="end" font-size="3.6" class="tk">−0.10</text>
<line x1="219.8" y1="498.7" x2="221.4" y2="498.7" stroke="#333" stroke-width="0.6"/>
<text x="219.8" y="500.5" text-anchor="end" font-size="3.6" class="tk">−0.15</text>
<line x1="219.8" y1="516.9" x2="221.4" y2="516.9" stroke="#333" stroke-width="0.6"/>
<text x="219.8" y="518.7" text-anchor="end" font-size="3.6" class="tk">−0.20</text>
<line x1="227.5" y1="526.8" x2="227.5" y2="528.1" stroke="#555" stroke-width="0.5"/>
<text transform="translate(228.7,529.7) rotate(-90)" text-anchor="end" font-size="3.4" class="xt">18:32</text>
<line x1="229.0" y1="526.8" x2="229.0" y2="528.1" stroke="#555" stroke-width="0.5"/>
<text transform="translate(230.2,529.7) rotate(-90)" text-anchor="end" font-size="3.4" class="xt">18:32</text>
<line x1="232.4" y1="526.8" x2="232.4" y2="528.1" stroke="#555" stroke-width="0.5"/>
<text transform="translate(233.6,529.7) rotate(-90)" text-anchor="end" font-size="3.4" class="xt">18:32</text>
<line x1="238.0" y1="526.8" x2="238.0" y2="528.1" stroke="#555" stroke-width="0.5"/>
<text transform="translate(239.2,529.7) rotate(-90)" text-anchor="end" font-size="3.4" class="xt">18:32</text>
<line x1="250.3" y1="526.8" x2="250.3" y2="528.1" stroke="#555" stroke-width="0.5"/>
<text transform="translate(251.5,529.7) rotate(-90)" text-anchor="end" font-size="3.4" class="xt">18:32</text>
<line x1="252.0" y1="526.8" x2="252.0" y2="528.1" stroke="#555" stroke-width="0.5"/>
<text transform="translate(253.2,529.7) rotate(-90)" text-anchor="end" font-size="3.4" class="xt">18:32</text>
<line x1="253.6" y1="526.8" x2="253.6" y2="528.1" stroke="#555" stroke-width="0.5"/>
<text transform="translate(254.8,529.7) rotate(-90)" text-anchor="end" font-size="3.4" class="xt">18:32</text>
<line x1="255.4" y1="526.8" x2="255.4" y2="528.1" stroke="#555" stroke-width="0.5"/>
<text transform="translate(256.6,529.7) rotate(-90)" text-anchor="end" font-size="3.4" class="xt">18:32</text>
<line x1="258.7" y1="526.8" x2="258.7" y2="528.1" stroke="#555" stroke-width="0.5"/>
<text transform="translate(259.9,529.7) rotate(-90)" text-anchor="end" font-size="3.4" class="xt">18:32</text>
<line x1="269.9" y1="526.8" x2="269.9" y2="528.1" stroke="#555" stroke-width="0.5"/>
<text transform="translate(271.1,529.7) rotate(-90)" text-anchor="end" font-size="3.4" class="xt">18:32</text>
<line x1="279.3" y1="526.8" x2="279.3" y2="528.1" stroke="#555" stroke-width="0.5"/>
<text transform="translate(280.5,529.7) rotate(-90)" text-anchor="end" font-size="3.4" class="xt">18:32</text>
<line x1="286.0" y1="526.8" x2="286.0" y2="528.1" stroke="#555" stroke-width="0.5"/>
<text transform="translate(287.2,529.7) rotate(-90)" text-anchor="end" font-size="3.4" class="xt">18:32</text>
<line x1="288.7" y1="526.8" x2="288.7" y2="528.1" stroke="#555" stroke-width="0.5"/>
<text transform="translate(289.9,529.7) rotate(-90)" text-anchor="end" font-size="3.4" class="xt">18:32</text>
<line x1="290.5" y1="526.8" x2="290.5" y2="528.1" stroke="#555" stroke-width="0.5"/>
<text transform="translate(291.7,529.7) rotate(-90)" text-anchor="end" font-size="3.4" class="xt">18:32</text>
<line x1="297.2" y1="526.8" x2="297.2" y2="528.1" stroke="#555" stroke-width="0.5"/>
<text transform="translate(298.4,529.7) rotate(-90)" text-anchor="end" font-size="3.4" class="xt">18:32</text>
<line x1="300.5" y1="526.8" x2="300.5" y2="528.1" stroke="#555" stroke-width="0.5"/>
<text transform="translate(301.7,529.7) rotate(-90)" text-anchor="end" font-size="3.4" class="xt">18:32</text>
<line x1="302.7" y1="526.8" x2="302.7" y2="528.1" stroke="#555" stroke-width="0.5"/>
<text transform="translate(303.9,529.7) rotate(-90)" text-anchor="end" font-size="3.4" class="xt">18:32</text>
<line x1="305.0" y1="526.8" x2="305.0" y2="528.1" stroke="#555" stroke-width="0.5"/>
<text transform="translate(306.2,529.7) rotate(-90)" text-anchor="end" font-size="3.4" class="xt">18:32</text>
<line x1="307.9" y1="526.8" x2="307.9" y2="528.1" stroke="#555" stroke-width="0.5"/>
<text transform="translate(309.1,529.7) rotate(-90)" text-anchor="end" font-size="3.4" class="xt">18:32</text>
<line x1="314.2" y1="526.8" x2="314.2" y2="528.1" stroke="#555" stroke-width="0.5"/>
<text transform="translate(315.4,529.7) rotate(-90)" text-anchor="end" font-size="3.4" class="xt">18:32</text>
<line x1="325.7" y1="526.8" x2="325.7" y2="528.1" stroke="#555" stroke-width="0.5"/>
<text transform="translate(326.9,529.7) rotate(-90)" text-anchor="end" font-size="3.4" class="xt">18:32</text>
<line x1="334.2" y1="526.8" x2="334.2" y2="528.1" stroke="#555" stroke-width="0.5"/>
<text transform="translate(335.4,529.7) rotate(-90)" text-anchor="end" font-size="3.4" class="xt">18:32</text>
<line x1="347.6" y1="526.8" x2="347.6" y2="528.1" stroke="#555" stroke-width="0.5"/>
<text transform="translate(348.8,529.7) rotate(-90)" text-anchor="end" font-size="3.4" class="xt">18:32</text>
<line x1="353.6" y1="526.8" x2="353.6" y2="528.1" stroke="#555" stroke-width="0.5"/>
<text transform="translate(354.8,529.7) rotate(-90)" text-anchor="end" font-size="3.4" class="xt">18:32</text>
<line x1="360.4" y1="526.8" x2="360.4" y2="528.1" stroke="#555" stroke-width="0.5"/>
<text transform="translate(361.6,529.7) rotate(-90)" text-anchor="end" font-size="3.4" class="xt">18:32</text>
<line x1="365.8" y1="526.8" x2="365.8" y2="528.1" stroke="#555" stroke-width="0.5"/>
<text transform="translate(367.0,529.7) rotate(-90)" text-anchor="end" font-size="3.4" class="xt">18:32</text>
<line x1="370.2" y1="526.8" x2="370.2" y2="528.1" stroke="#555" stroke-width="0.5"/>
<text transform="translate(371.4,529.7) rotate(-90)" text-anchor="end" font-size="3.4" class="xt">18:32</text>
<line x1="373.8" y1="526.8" x2="373.8" y2="528.1" stroke="#555" stroke-width="0.5"/>
<text transform="translate(375.0,529.7) rotate(-90)" text-anchor="end" font-size="3.4" class="xt">18:32</text>
<line x1="375.5" y1="526.8" x2="375.5" y2="528.1" stroke="#555" stroke-width="0.5"/>
<text transform="translate(376.7,529.7) rotate(-90)" text-anchor="end" font-size="3.4" class="xt">18:32</text>
<line x1="380.9" y1="526.8" x2="380.9" y2="528.1" stroke="#555" stroke-width="0.5"/>
<text transform="translate(382.1,529.7) rotate(-90)" text-anchor="end" font-size="3.4" class="xt">18:32:00</text>
<line x1="385.3" y1="526.8" x2="385.3" y2="528.1" stroke="#555" stroke-width="0.5"/>
<text transform="translate(386.5,529.7) rotate(-90)" text-anchor="end" font-size="3.4" class="xt">18:32</text>
<line x1="390.1" y1="526.8" x2="390.1" y2="528.1" stroke="#555" stroke-width="0.5"/>
<text transform="translate(391.3,529.7) rotate(-90)" text-anchor="end" font-size="3.4" class="xt">18:32:00</text>
<text x="310.6" y="418.8" text-anchor="middle" font-size="4.2">ATM_2021-12-31 18:32</text>
<text x="310.6" y="547.6" text-anchor="middle" font-size="3.7">datetime</text>
<text transform="translate(207.6,473.6) rotate(-90)" text-anchor="middle" font-size="3.6">bs_volume</text>
<rect x="222.8" y="514.0" width="45.0" height="10.8" rx="0.8" fill="#fff" fill-opacity="0.82" stroke="#d0d0d0" stroke-width="0.4"/>
<line x1="224.1" y1="516.8" x2="230.8" y2="516.8" stroke="#6468d0" stroke-width="0.6" stroke-dasharray="1.3 0.8"/>
<line x1="224.1" y1="521.8" x2="230.8" y2="521.8" stroke="#d2c050" stroke-width="0.7" stroke-dasharray="1.6 0.9"/>
<text x="233.1" y="518.9" font-size="3.6">2021-12-31 18:32</text>
<text x="233.1" y="523.1" font-size="3.6">anomalous volumes</text>
</svg></body></html>
